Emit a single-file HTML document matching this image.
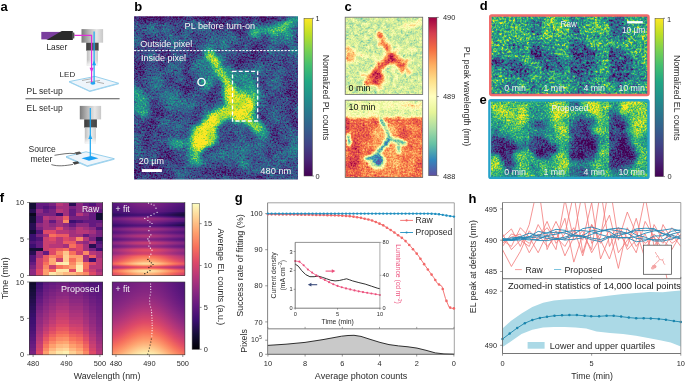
<!DOCTYPE html><html><head><meta charset="utf-8"><style>html,body{margin:0;padding:0;background:#fff;}body{width:685px;height:381px;overflow:hidden;-webkit-font-smoothing:antialiased;} svg{display:block;will-change:transform;}</style></head><body><svg width="685" height="381" viewBox="0 0 685 381" font-family='"Liberation Sans", sans-serif'><defs><linearGradient id="objg" x1="0" y1="0" x2="1" y2="0"><stop offset="0" stop-color="#7a7a7a"/><stop offset="0.35" stop-color="#b8b8b8"/><stop offset="0.7" stop-color="#e6e6e6"/><stop offset="1" stop-color="#c8c8c8"/></linearGradient><linearGradient id="bandg" x1="0" y1="0" x2="1" y2="0"><stop offset="0" stop-color="#3c3c3c"/><stop offset="0.5" stop-color="#555"/><stop offset="1" stop-color="#444"/></linearGradient><linearGradient id="tubeg" x1="0" y1="0" x2="1" y2="0"><stop offset="0" stop-color="#bdbdbd"/><stop offset="0.5" stop-color="#f0f0f0"/><stop offset="1" stop-color="#cfcfcf"/></linearGradient><linearGradient id="tubefade" x1="0" y1="0" x2="0" y2="1"><stop offset="0" stop-color="#fff" stop-opacity="0"/><stop offset="1" stop-color="#fff" stop-opacity="0.85"/></linearGradient><filter id="fb" filterUnits="userSpaceOnUse" x="122" y="4.2" width="188" height="187.4" color-interpolation-filters="sRGB"><feTurbulence type="fractalNoise" baseFrequency="0.22" numOctaves="3" seed="3" result="dn"/><feDisplacementMap in="SourceGraphic" in2="dn" scale="8" xChannelSelector="R" yChannelSelector="G" result="src"/><feGaussianBlur in="src" stdDeviation="2" result="bl"/><feTurbulence type="fractalNoise" baseFrequency="0.6" numOctaves="4" seed="7" result="nz"/><feColorMatrix in="nz" type="matrix" values="1 0 0 0 0 1 0 0 0 0 1 0 0 0 0 0 0 0 0 1" result="ng"/><feTurbulence type="fractalNoise" baseFrequency="0.06" numOctaves="3" seed="4" result="lz"/><feColorMatrix in="lz" type="matrix" values="0 1 0 0 0 0 1 0 0 0 0 1 0 0 0 0 0 0 0 1" result="lg"/><feComposite in="bl" in2="ng" operator="arithmetic" k1="0" k2="1" k3="0.7" k4="-0.35" result="sum"/><feComposite in="sum" in2="lg" operator="arithmetic" k1="0" k2="1" k3="0.45" k4="-0.23" result="sum2"/><feComponentTransfer in="sum2"><feFuncR type="table" tableValues="0.2667 0.2824 0.2549 0.2078 0.1647 0.1294 0.1333 0.2667 0.4784 0.7412 0.9922"/><feFuncG type="table" tableValues="0.0039 0.1412 0.2667 0.3725 0.4706 0.5686 0.6588 0.7490 0.8196 0.8745 0.9059"/><feFuncB type="table" tableValues="0.3294 0.4588 0.5294 0.5529 0.5569 0.5490 0.5176 0.4392 0.3176 0.1490 0.1451"/><feFuncA type="linear" slope="0" intercept="1"/></feComponentTransfer></filter><clipPath id="cb"><rect x="134" y="16.2" width="164" height="163.4"/></clipPath><linearGradient id="vir" x1="0" y1="0" x2="0" y2="1"><stop offset="0.000" stop-color="#fde725"/><stop offset="0.100" stop-color="#bddf26"/><stop offset="0.200" stop-color="#7ad151"/><stop offset="0.300" stop-color="#44bf70"/><stop offset="0.400" stop-color="#22a884"/><stop offset="0.500" stop-color="#21918c"/><stop offset="0.600" stop-color="#2a788e"/><stop offset="0.700" stop-color="#355f8d"/><stop offset="0.800" stop-color="#414487"/><stop offset="0.900" stop-color="#482475"/><stop offset="1.000" stop-color="#440154"/></linearGradient><filter id="fc1" filterUnits="userSpaceOnUse" x="333.2" y="5.2" width="101.5" height="101.2" color-interpolation-filters="sRGB"><feTurbulence type="fractalNoise" baseFrequency="0.3" numOctaves="3" seed="5" result="dn"/><feDisplacementMap in="SourceGraphic" in2="dn" scale="5" xChannelSelector="R" yChannelSelector="G" result="src"/><feGaussianBlur in="src" stdDeviation="1" result="bl"/><feTurbulence type="fractalNoise" baseFrequency="0.6" numOctaves="4" seed="11" result="nz"/><feColorMatrix in="nz" type="matrix" values="1 0 0 0 0 1 0 0 0 0 1 0 0 0 0 0 0 0 0 1" result="ng"/><feTurbulence type="fractalNoise" baseFrequency="0.22" numOctaves="3" seed="8" result="lz"/><feColorMatrix in="lz" type="matrix" values="0 1 0 0 0 0 1 0 0 0 0 1 0 0 0 0 0 0 0 1" result="lg"/><feComposite in="bl" in2="ng" operator="arithmetic" k1="0" k2="1" k3="0.26" k4="-0.13" result="sum"/><feComposite in="sum" in2="lg" operator="arithmetic" k1="0" k2="1" k3="0.3" k4="-0.15" result="sum2"/><feComponentTransfer in="sum2"><feFuncR type="table" tableValues="0.3686 0.1961 0.4000 0.6706 0.9020 1.0000 0.9961 0.9922 0.9569 0.8353 0.6196"/><feFuncG type="table" tableValues="0.3098 0.5333 0.7608 0.8667 0.9608 1.0000 0.8784 0.6824 0.4275 0.2431 0.0039"/><feFuncB type="table" tableValues="0.6353 0.7412 0.6471 0.6431 0.5961 0.7490 0.5451 0.3804 0.2627 0.3098 0.2588"/><feFuncA type="linear" slope="0" intercept="1"/></feComponentTransfer></filter><clipPath id="cc1"><rect x="345.2" y="17.2" width="77.5" height="77.2"/></clipPath><filter id="fc2" filterUnits="userSpaceOnUse" x="333.2" y="88.2" width="101.5" height="101.2" color-interpolation-filters="sRGB"><feTurbulence type="fractalNoise" baseFrequency="0.3" numOctaves="3" seed="7" result="dn"/><feDisplacementMap in="SourceGraphic" in2="dn" scale="4" xChannelSelector="R" yChannelSelector="G" result="src"/><feGaussianBlur in="src" stdDeviation="1" result="bl"/><feTurbulence type="fractalNoise" baseFrequency="0.6" numOctaves="4" seed="23" result="nz"/><feColorMatrix in="nz" type="matrix" values="1 0 0 0 0 1 0 0 0 0 1 0 0 0 0 0 0 0 0 1" result="ng"/><feTurbulence type="fractalNoise" baseFrequency="0.1" numOctaves="3" seed="6" result="lz"/><feColorMatrix in="lz" type="matrix" values="0 1 0 0 0 0 1 0 0 0 0 1 0 0 0 0 0 0 0 1" result="lg"/><feComposite in="bl" in2="ng" operator="arithmetic" k1="0" k2="1" k3="0.32" k4="-0.16" result="sum"/><feComposite in="sum" in2="lg" operator="arithmetic" k1="0" k2="1" k3="0.25" k4="-0.12" result="sum2"/><feComponentTransfer in="sum2"><feFuncR type="table" tableValues="0.3686 0.1961 0.4000 0.6706 0.9020 1.0000 0.9961 0.9922 0.9569 0.8353 0.6196"/><feFuncG type="table" tableValues="0.3098 0.5333 0.7608 0.8667 0.9608 1.0000 0.8784 0.6824 0.4275 0.2431 0.0039"/><feFuncB type="table" tableValues="0.6353 0.7412 0.6471 0.6431 0.5961 0.7490 0.5451 0.3804 0.2627 0.3098 0.2588"/><feFuncA type="linear" slope="0" intercept="1"/></feComponentTransfer></filter><clipPath id="cc2"><rect x="345.2" y="100.2" width="77.5" height="77.2"/></clipPath><linearGradient id="spec" x1="0" y1="0" x2="0" y2="1"><stop offset="0.000" stop-color="#9e0142"/><stop offset="0.100" stop-color="#d53e4f"/><stop offset="0.200" stop-color="#f46d43"/><stop offset="0.300" stop-color="#fdae61"/><stop offset="0.400" stop-color="#fee08b"/><stop offset="0.500" stop-color="#ffffbf"/><stop offset="0.600" stop-color="#e6f598"/><stop offset="0.700" stop-color="#abdda4"/><stop offset="0.800" stop-color="#66c2a5"/><stop offset="0.900" stop-color="#3288bd"/><stop offset="1.000" stop-color="#5e4fa2"/></linearGradient><filter id="fd" filterUnits="userSpaceOnUse" x="477" y="2" width="184" height="106" color-interpolation-filters="sRGB"><feTurbulence type="fractalNoise" baseFrequency="0.15" numOctaves="3" seed="6" result="dn"/><feDisplacementMap in="SourceGraphic" in2="dn" scale="7" xChannelSelector="R" yChannelSelector="G" result="src"/><feGaussianBlur in="src" stdDeviation="2" result="bl"/><feTurbulence type="fractalNoise" baseFrequency="0.45" numOctaves="4" seed="5" result="nz"/><feColorMatrix in="nz" type="matrix" values="1 0 0 0 0 1 0 0 0 0 1 0 0 0 0 0 0 0 0 1" result="ng"/><feTurbulence type="fractalNoise" baseFrequency="0.12" numOctaves="3" seed="2" result="lz"/><feColorMatrix in="lz" type="matrix" values="0 1 0 0 0 0 1 0 0 0 0 1 0 0 0 0 0 0 0 1" result="lg"/><feComposite in="bl" in2="ng" operator="arithmetic" k1="0" k2="1" k3="1.1" k4="-0.55" result="sum"/><feComposite in="sum" in2="lg" operator="arithmetic" k1="0" k2="1" k3="0.5" k4="-0.25" result="sum2"/><feComponentTransfer in="sum2"><feFuncR type="table" tableValues="0.2667 0.2824 0.2549 0.2078 0.1647 0.1294 0.1333 0.2667 0.4784 0.7412 0.9922"/><feFuncG type="table" tableValues="0.0039 0.1412 0.2667 0.3725 0.4706 0.5686 0.6588 0.7490 0.8196 0.8745 0.9059"/><feFuncB type="table" tableValues="0.3294 0.4588 0.5294 0.5529 0.5569 0.5490 0.5176 0.4392 0.3176 0.1490 0.1451"/><feFuncA type="linear" slope="0" intercept="1"/></feComponentTransfer></filter><filter id="fe" filterUnits="userSpaceOnUse" x="477" y="87" width="184" height="104" color-interpolation-filters="sRGB"><feTurbulence type="fractalNoise" baseFrequency="0.15" numOctaves="3" seed="4" result="dn"/><feDisplacementMap in="SourceGraphic" in2="dn" scale="9" xChannelSelector="R" yChannelSelector="G" result="src"/><feGaussianBlur in="src" stdDeviation="2.6" result="bl"/><feTurbulence type="fractalNoise" baseFrequency="0.6" numOctaves="4" seed="9" result="nz"/><feColorMatrix in="nz" type="matrix" values="1 0 0 0 0 1 0 0 0 0 1 0 0 0 0 0 0 0 0 1" result="ng"/><feTurbulence type="fractalNoise" baseFrequency="0.1" numOctaves="3" seed="5" result="lz"/><feColorMatrix in="lz" type="matrix" values="0 1 0 0 0 0 1 0 0 0 0 1 0 0 0 0 0 0 0 1" result="lg"/><feComposite in="bl" in2="ng" operator="arithmetic" k1="0" k2="1" k3="0.75" k4="-0.38" result="sum"/><feComposite in="sum" in2="lg" operator="arithmetic" k1="0" k2="1" k3="0.5" k4="-0.25" result="sum2"/><feComponentTransfer in="sum2"><feFuncR type="table" tableValues="0.2667 0.2824 0.2549 0.2078 0.1647 0.1294 0.1333 0.2667 0.4784 0.7412 0.9922"/><feFuncG type="table" tableValues="0.0039 0.1412 0.2667 0.3725 0.4706 0.5686 0.6588 0.7490 0.8196 0.8745 0.9059"/><feFuncB type="table" tableValues="0.3294 0.4588 0.5294 0.5529 0.5569 0.5490 0.5176 0.4392 0.3176 0.1490 0.1451"/><feFuncA type="linear" slope="0" intercept="1"/></feComponentTransfer></filter><clipPath id="cde00"><rect x="491" y="16" width="38" height="79"/></clipPath><clipPath id="cde01"><rect x="529" y="16" width="40" height="79"/></clipPath><clipPath id="cde02"><rect x="569" y="16" width="40" height="79"/></clipPath><clipPath id="cde03"><rect x="609" y="16" width="39" height="79"/></clipPath><clipPath id="cde10"><rect x="491" y="100" width="38" height="78"/></clipPath><clipPath id="cde11"><rect x="529" y="100" width="40" height="78"/></clipPath><clipPath id="cde12"><rect x="569" y="100" width="40" height="78"/></clipPath><clipPath id="cde13"><rect x="609" y="100" width="39" height="78"/></clipPath><linearGradient id="gr0" x1="0" y1="0" x2="1" y2="0"><stop offset="0.000" stop-color="#531579"/><stop offset="0.071" stop-color="#5a177c"/><stop offset="0.143" stop-color="#621a7f"/><stop offset="0.214" stop-color="#6a1c80"/><stop offset="0.286" stop-color="#721f80"/><stop offset="0.357" stop-color="#782281"/><stop offset="0.429" stop-color="#7b2381"/><stop offset="0.500" stop-color="#7c2381"/><stop offset="0.571" stop-color="#792281"/><stop offset="0.643" stop-color="#732080"/><stop offset="0.714" stop-color="#6c1d80"/><stop offset="0.786" stop-color="#631a80"/><stop offset="0.857" stop-color="#5b187d"/><stop offset="0.929" stop-color="#54167a"/><stop offset="1.000" stop-color="#4e1477"/></linearGradient><linearGradient id="gr1" x1="0" y1="0" x2="1" y2="0"><stop offset="0.000" stop-color="#531579"/><stop offset="0.071" stop-color="#5a177c"/><stop offset="0.143" stop-color="#621a7f"/><stop offset="0.214" stop-color="#6a1c80"/><stop offset="0.286" stop-color="#721f80"/><stop offset="0.357" stop-color="#782281"/><stop offset="0.429" stop-color="#7b2381"/><stop offset="0.500" stop-color="#7c2381"/><stop offset="0.571" stop-color="#792281"/><stop offset="0.643" stop-color="#732080"/><stop offset="0.714" stop-color="#6c1d80"/><stop offset="0.786" stop-color="#631a80"/><stop offset="0.857" stop-color="#5b187d"/><stop offset="0.929" stop-color="#54167a"/><stop offset="1.000" stop-color="#4e1477"/></linearGradient><linearGradient id="gr2" x1="0" y1="0" x2="1" y2="0"><stop offset="0.000" stop-color="#511579"/><stop offset="0.071" stop-color="#58177c"/><stop offset="0.143" stop-color="#61197f"/><stop offset="0.214" stop-color="#691c80"/><stop offset="0.286" stop-color="#701f80"/><stop offset="0.357" stop-color="#762180"/><stop offset="0.429" stop-color="#7a2281"/><stop offset="0.500" stop-color="#7a2281"/><stop offset="0.571" stop-color="#772180"/><stop offset="0.643" stop-color="#711f80"/><stop offset="0.714" stop-color="#6a1c80"/><stop offset="0.786" stop-color="#62197f"/><stop offset="0.857" stop-color="#5a177c"/><stop offset="0.929" stop-color="#521579"/><stop offset="1.000" stop-color="#4d1477"/></linearGradient><linearGradient id="gr3" x1="0" y1="0" x2="1" y2="0"><stop offset="0.000" stop-color="#4e1478"/><stop offset="0.071" stop-color="#55167a"/><stop offset="0.143" stop-color="#5d187d"/><stop offset="0.214" stop-color="#651a80"/><stop offset="0.286" stop-color="#6c1d80"/><stop offset="0.357" stop-color="#721f80"/><stop offset="0.429" stop-color="#752180"/><stop offset="0.500" stop-color="#762180"/><stop offset="0.571" stop-color="#732080"/><stop offset="0.643" stop-color="#6d1e80"/><stop offset="0.714" stop-color="#661b80"/><stop offset="0.786" stop-color="#5e187e"/><stop offset="0.857" stop-color="#56167b"/><stop offset="0.929" stop-color="#4f1478"/><stop offset="1.000" stop-color="#4a1376"/></linearGradient><linearGradient id="gr4" x1="0" y1="0" x2="1" y2="0"><stop offset="0.000" stop-color="#4b1376"/><stop offset="0.071" stop-color="#521579"/><stop offset="0.143" stop-color="#5a177c"/><stop offset="0.214" stop-color="#61197f"/><stop offset="0.286" stop-color="#691c80"/><stop offset="0.357" stop-color="#6e1e80"/><stop offset="0.429" stop-color="#711f80"/><stop offset="0.500" stop-color="#721f80"/><stop offset="0.571" stop-color="#6f1e80"/><stop offset="0.643" stop-color="#6a1c80"/><stop offset="0.714" stop-color="#631a7f"/><stop offset="0.786" stop-color="#5b187c"/><stop offset="0.857" stop-color="#531579"/><stop offset="0.929" stop-color="#4c1477"/><stop offset="1.000" stop-color="#471275"/></linearGradient><linearGradient id="gr5" x1="0" y1="0" x2="1" y2="0"><stop offset="0.000" stop-color="#491376"/><stop offset="0.071" stop-color="#501578"/><stop offset="0.143" stop-color="#57177b"/><stop offset="0.214" stop-color="#5f197e"/><stop offset="0.286" stop-color="#661b80"/><stop offset="0.357" stop-color="#6c1d80"/><stop offset="0.429" stop-color="#6f1e80"/><stop offset="0.500" stop-color="#6f1e80"/><stop offset="0.571" stop-color="#6c1d80"/><stop offset="0.643" stop-color="#671b80"/><stop offset="0.714" stop-color="#60197f"/><stop offset="0.786" stop-color="#59177c"/><stop offset="0.857" stop-color="#511579"/><stop offset="0.929" stop-color="#4a1376"/><stop offset="1.000" stop-color="#451274"/></linearGradient><linearGradient id="gr6" x1="0" y1="0" x2="1" y2="0"><stop offset="0.000" stop-color="#471275"/><stop offset="0.071" stop-color="#4d1477"/><stop offset="0.143" stop-color="#55167a"/><stop offset="0.214" stop-color="#5c187d"/><stop offset="0.286" stop-color="#631a80"/><stop offset="0.357" stop-color="#691c80"/><stop offset="0.429" stop-color="#6c1d80"/><stop offset="0.500" stop-color="#6c1d80"/><stop offset="0.571" stop-color="#691c80"/><stop offset="0.643" stop-color="#641a80"/><stop offset="0.714" stop-color="#5d187d"/><stop offset="0.786" stop-color="#56167b"/><stop offset="0.857" stop-color="#4f1478"/><stop offset="0.929" stop-color="#481375"/><stop offset="1.000" stop-color="#431173"/></linearGradient><linearGradient id="gr7" x1="0" y1="0" x2="1" y2="0"><stop offset="0.000" stop-color="#441173"/><stop offset="0.071" stop-color="#4a1376"/><stop offset="0.143" stop-color="#511579"/><stop offset="0.214" stop-color="#58177b"/><stop offset="0.286" stop-color="#5f197e"/><stop offset="0.357" stop-color="#641a80"/><stop offset="0.429" stop-color="#671b80"/><stop offset="0.500" stop-color="#671b80"/><stop offset="0.571" stop-color="#651a80"/><stop offset="0.643" stop-color="#60197e"/><stop offset="0.714" stop-color="#59177c"/><stop offset="0.786" stop-color="#521579"/><stop offset="0.857" stop-color="#4b1376"/><stop offset="0.929" stop-color="#451274"/><stop offset="1.000" stop-color="#401072"/></linearGradient><linearGradient id="gr8" x1="0" y1="0" x2="1" y2="0"><stop offset="0.000" stop-color="#421173"/><stop offset="0.071" stop-color="#481275"/><stop offset="0.143" stop-color="#4f1478"/><stop offset="0.214" stop-color="#56167a"/><stop offset="0.286" stop-color="#5c187d"/><stop offset="0.357" stop-color="#61197f"/><stop offset="0.429" stop-color="#641a80"/><stop offset="0.500" stop-color="#641a80"/><stop offset="0.571" stop-color="#62197f"/><stop offset="0.643" stop-color="#5d187d"/><stop offset="0.714" stop-color="#57167b"/><stop offset="0.786" stop-color="#501578"/><stop offset="0.857" stop-color="#491375"/><stop offset="0.929" stop-color="#431173"/><stop offset="1.000" stop-color="#3e1071"/></linearGradient><linearGradient id="gr9" x1="0" y1="0" x2="1" y2="0"><stop offset="0.000" stop-color="#3d1071"/><stop offset="0.071" stop-color="#431173"/><stop offset="0.143" stop-color="#491376"/><stop offset="0.214" stop-color="#501578"/><stop offset="0.286" stop-color="#56167b"/><stop offset="0.357" stop-color="#5b187d"/><stop offset="0.429" stop-color="#5e187e"/><stop offset="0.500" stop-color="#5e187e"/><stop offset="0.571" stop-color="#5b177c"/><stop offset="0.643" stop-color="#531579"/><stop offset="0.714" stop-color="#491375"/><stop offset="0.786" stop-color="#3f1071"/><stop offset="0.857" stop-color="#350f67"/><stop offset="0.929" stop-color="#2c0f5a"/><stop offset="1.000" stop-color="#240e4e"/></linearGradient><linearGradient id="gr10" x1="0" y1="0" x2="1" y2="0"><stop offset="0.000" stop-color="#350f67"/><stop offset="0.071" stop-color="#3a0f6e"/><stop offset="0.143" stop-color="#401072"/><stop offset="0.214" stop-color="#461274"/><stop offset="0.286" stop-color="#4b1376"/><stop offset="0.357" stop-color="#501578"/><stop offset="0.429" stop-color="#521579"/><stop offset="0.500" stop-color="#521579"/><stop offset="0.571" stop-color="#4f1478"/><stop offset="0.643" stop-color="#481275"/><stop offset="0.714" stop-color="#3f1071"/><stop offset="0.786" stop-color="#350f68"/><stop offset="0.857" stop-color="#2c0f5a"/><stop offset="0.929" stop-color="#240e4e"/><stop offset="1.000" stop-color="#1d0e43"/></linearGradient><linearGradient id="gr11" x1="0" y1="0" x2="1" y2="0"><stop offset="0.000" stop-color="#2e0f5c"/><stop offset="0.071" stop-color="#320f63"/><stop offset="0.143" stop-color="#370f6a"/><stop offset="0.214" stop-color="#3c0f70"/><stop offset="0.286" stop-color="#411172"/><stop offset="0.357" stop-color="#451274"/><stop offset="0.429" stop-color="#471275"/><stop offset="0.500" stop-color="#471275"/><stop offset="0.571" stop-color="#451274"/><stop offset="0.643" stop-color="#3d1071"/><stop offset="0.714" stop-color="#350f67"/><stop offset="0.786" stop-color="#2d0f5b"/><stop offset="0.857" stop-color="#240e4e"/><stop offset="0.929" stop-color="#1d0e43"/><stop offset="1.000" stop-color="#160e38"/></linearGradient><linearGradient id="gr12" x1="0" y1="0" x2="1" y2="0"><stop offset="0.000" stop-color="#2f0f5f"/><stop offset="0.071" stop-color="#340f65"/><stop offset="0.143" stop-color="#390f6d"/><stop offset="0.214" stop-color="#3e1071"/><stop offset="0.286" stop-color="#431173"/><stop offset="0.357" stop-color="#471275"/><stop offset="0.429" stop-color="#4a1376"/><stop offset="0.500" stop-color="#4a1376"/><stop offset="0.571" stop-color="#471275"/><stop offset="0.643" stop-color="#401072"/><stop offset="0.714" stop-color="#370f6a"/><stop offset="0.786" stop-color="#2f0f5e"/><stop offset="0.857" stop-color="#260e51"/><stop offset="0.929" stop-color="#1e0e45"/><stop offset="1.000" stop-color="#170e3b"/></linearGradient><linearGradient id="gr13" x1="0" y1="0" x2="1" y2="0"><stop offset="0.000" stop-color="#411172"/><stop offset="0.071" stop-color="#471275"/><stop offset="0.143" stop-color="#4e1477"/><stop offset="0.214" stop-color="#55167a"/><stop offset="0.286" stop-color="#5b187d"/><stop offset="0.357" stop-color="#60197f"/><stop offset="0.429" stop-color="#631a80"/><stop offset="0.500" stop-color="#641a80"/><stop offset="0.571" stop-color="#60197e"/><stop offset="0.643" stop-color="#58177b"/><stop offset="0.714" stop-color="#4e1477"/><stop offset="0.786" stop-color="#431173"/><stop offset="0.857" stop-color="#390f6d"/><stop offset="0.929" stop-color="#300f5f"/><stop offset="1.000" stop-color="#280f53"/></linearGradient><linearGradient id="gr14" x1="0" y1="0" x2="1" y2="0"><stop offset="0.000" stop-color="#5b177c"/><stop offset="0.071" stop-color="#621a7f"/><stop offset="0.143" stop-color="#6b1d80"/><stop offset="0.214" stop-color="#742080"/><stop offset="0.286" stop-color="#7c2381"/><stop offset="0.357" stop-color="#822581"/><stop offset="0.429" stop-color="#862781"/><stop offset="0.500" stop-color="#862781"/><stop offset="0.571" stop-color="#822581"/><stop offset="0.643" stop-color="#792281"/><stop offset="0.714" stop-color="#6d1d80"/><stop offset="0.786" stop-color="#61197f"/><stop offset="0.857" stop-color="#54167a"/><stop offset="0.929" stop-color="#491375"/><stop offset="1.000" stop-color="#3f1072"/></linearGradient><linearGradient id="gr15" x1="0" y1="0" x2="1" y2="0"><stop offset="0.000" stop-color="#6a1c80"/><stop offset="0.071" stop-color="#721f80"/><stop offset="0.143" stop-color="#7c2381"/><stop offset="0.214" stop-color="#862781"/><stop offset="0.286" stop-color="#8f2a80"/><stop offset="0.357" stop-color="#972d7f"/><stop offset="0.429" stop-color="#9b2e7e"/><stop offset="0.500" stop-color="#9c2e7e"/><stop offset="0.571" stop-color="#982d7f"/><stop offset="0.643" stop-color="#912b80"/><stop offset="0.714" stop-color="#872781"/><stop offset="0.786" stop-color="#7d2381"/><stop offset="0.857" stop-color="#732080"/><stop offset="0.929" stop-color="#6b1d80"/><stop offset="1.000" stop-color="#641a80"/></linearGradient><linearGradient id="gr16" x1="0" y1="0" x2="1" y2="0"><stop offset="0.000" stop-color="#681c80"/><stop offset="0.071" stop-color="#711f80"/><stop offset="0.143" stop-color="#7a2281"/><stop offset="0.214" stop-color="#842681"/><stop offset="0.286" stop-color="#8d2981"/><stop offset="0.357" stop-color="#952c7f"/><stop offset="0.429" stop-color="#9a2d7e"/><stop offset="0.500" stop-color="#9a2e7e"/><stop offset="0.571" stop-color="#962c7f"/><stop offset="0.643" stop-color="#8f2a80"/><stop offset="0.714" stop-color="#862781"/><stop offset="0.786" stop-color="#7c2381"/><stop offset="0.857" stop-color="#721f80"/><stop offset="0.929" stop-color="#6a1c80"/><stop offset="1.000" stop-color="#621a7f"/></linearGradient><linearGradient id="gr17" x1="0" y1="0" x2="1" y2="0"><stop offset="0.000" stop-color="#5f197e"/><stop offset="0.071" stop-color="#671b80"/><stop offset="0.143" stop-color="#701e80"/><stop offset="0.214" stop-color="#792281"/><stop offset="0.286" stop-color="#812581"/><stop offset="0.357" stop-color="#882781"/><stop offset="0.429" stop-color="#8c2981"/><stop offset="0.500" stop-color="#8c2981"/><stop offset="0.571" stop-color="#892881"/><stop offset="0.643" stop-color="#832581"/><stop offset="0.714" stop-color="#7a2281"/><stop offset="0.786" stop-color="#711f80"/><stop offset="0.857" stop-color="#681c80"/><stop offset="0.929" stop-color="#60197e"/><stop offset="1.000" stop-color="#59177c"/></linearGradient><linearGradient id="gr18" x1="0" y1="0" x2="1" y2="0"><stop offset="0.000" stop-color="#56167b"/><stop offset="0.071" stop-color="#5e187d"/><stop offset="0.143" stop-color="#661b80"/><stop offset="0.214" stop-color="#6e1e80"/><stop offset="0.286" stop-color="#762180"/><stop offset="0.357" stop-color="#7c2381"/><stop offset="0.429" stop-color="#802481"/><stop offset="0.500" stop-color="#802581"/><stop offset="0.571" stop-color="#7d2381"/><stop offset="0.643" stop-color="#772180"/><stop offset="0.714" stop-color="#701e80"/><stop offset="0.786" stop-color="#671b80"/><stop offset="0.857" stop-color="#5f197e"/><stop offset="0.929" stop-color="#57177b"/><stop offset="1.000" stop-color="#511579"/></linearGradient><linearGradient id="gr19" x1="0" y1="0" x2="1" y2="0"><stop offset="0.000" stop-color="#511578"/><stop offset="0.071" stop-color="#57177b"/><stop offset="0.143" stop-color="#5f197e"/><stop offset="0.214" stop-color="#681b80"/><stop offset="0.286" stop-color="#6f1e80"/><stop offset="0.357" stop-color="#752080"/><stop offset="0.429" stop-color="#782281"/><stop offset="0.500" stop-color="#792281"/><stop offset="0.571" stop-color="#752080"/><stop offset="0.643" stop-color="#6c1d80"/><stop offset="0.714" stop-color="#61197f"/><stop offset="0.786" stop-color="#55167a"/><stop offset="0.857" stop-color="#4a1376"/><stop offset="0.929" stop-color="#3f1072"/><stop offset="1.000" stop-color="#360f68"/></linearGradient><linearGradient id="gr20" x1="0" y1="0" x2="1" y2="0"><stop offset="0.000" stop-color="#481375"/><stop offset="0.071" stop-color="#4f1478"/><stop offset="0.143" stop-color="#56167b"/><stop offset="0.214" stop-color="#5e187d"/><stop offset="0.286" stop-color="#651a80"/><stop offset="0.357" stop-color="#6a1c80"/><stop offset="0.429" stop-color="#6d1d80"/><stop offset="0.500" stop-color="#6d1d80"/><stop offset="0.571" stop-color="#6a1c80"/><stop offset="0.643" stop-color="#61197f"/><stop offset="0.714" stop-color="#57167b"/><stop offset="0.786" stop-color="#4c1376"/><stop offset="0.857" stop-color="#411172"/><stop offset="0.929" stop-color="#370f6a"/><stop offset="1.000" stop-color="#2e0f5d"/></linearGradient><linearGradient id="gr21" x1="0" y1="0" x2="1" y2="0"><stop offset="0.000" stop-color="#3d1071"/><stop offset="0.071" stop-color="#431173"/><stop offset="0.143" stop-color="#491376"/><stop offset="0.214" stop-color="#501578"/><stop offset="0.286" stop-color="#56167b"/><stop offset="0.357" stop-color="#5b187d"/><stop offset="0.429" stop-color="#5e187e"/><stop offset="0.500" stop-color="#5e187e"/><stop offset="0.571" stop-color="#5b177c"/><stop offset="0.643" stop-color="#531579"/><stop offset="0.714" stop-color="#491375"/><stop offset="0.786" stop-color="#3f1071"/><stop offset="0.857" stop-color="#350f67"/><stop offset="0.929" stop-color="#2c0f5a"/><stop offset="1.000" stop-color="#240e4e"/></linearGradient><linearGradient id="gr22" x1="0" y1="0" x2="1" y2="0"><stop offset="0.000" stop-color="#370f6a"/><stop offset="0.071" stop-color="#3c0f70"/><stop offset="0.143" stop-color="#421173"/><stop offset="0.214" stop-color="#481375"/><stop offset="0.286" stop-color="#4e1478"/><stop offset="0.357" stop-color="#531579"/><stop offset="0.429" stop-color="#55167a"/><stop offset="0.500" stop-color="#56167a"/><stop offset="0.571" stop-color="#521579"/><stop offset="0.643" stop-color="#4b1376"/><stop offset="0.714" stop-color="#411172"/><stop offset="0.786" stop-color="#380f6b"/><stop offset="0.857" stop-color="#2f0f5e"/><stop offset="0.929" stop-color="#260e51"/><stop offset="1.000" stop-color="#1f0e46"/></linearGradient><linearGradient id="gr23" x1="0" y1="0" x2="1" y2="0"><stop offset="0.000" stop-color="#411172"/><stop offset="0.071" stop-color="#471275"/><stop offset="0.143" stop-color="#4e1477"/><stop offset="0.214" stop-color="#55167a"/><stop offset="0.286" stop-color="#5c187d"/><stop offset="0.357" stop-color="#61197f"/><stop offset="0.429" stop-color="#641a80"/><stop offset="0.500" stop-color="#641a80"/><stop offset="0.571" stop-color="#61197f"/><stop offset="0.643" stop-color="#5d187d"/><stop offset="0.714" stop-color="#56167b"/><stop offset="0.786" stop-color="#4f1478"/><stop offset="0.857" stop-color="#481375"/><stop offset="0.929" stop-color="#421173"/><stop offset="1.000" stop-color="#3d1071"/></linearGradient><linearGradient id="gr24" x1="0" y1="0" x2="1" y2="0"><stop offset="0.000" stop-color="#57167b"/><stop offset="0.071" stop-color="#5e187e"/><stop offset="0.143" stop-color="#661b80"/><stop offset="0.214" stop-color="#6f1e80"/><stop offset="0.286" stop-color="#772180"/><stop offset="0.357" stop-color="#7d2381"/><stop offset="0.429" stop-color="#812581"/><stop offset="0.500" stop-color="#812581"/><stop offset="0.571" stop-color="#7e2481"/><stop offset="0.643" stop-color="#782281"/><stop offset="0.714" stop-color="#701f80"/><stop offset="0.786" stop-color="#681b80"/><stop offset="0.857" stop-color="#5f197e"/><stop offset="0.929" stop-color="#58177b"/><stop offset="1.000" stop-color="#521579"/></linearGradient><linearGradient id="gr25" x1="0" y1="0" x2="1" y2="0"><stop offset="0.000" stop-color="#691c80"/><stop offset="0.071" stop-color="#721f80"/><stop offset="0.143" stop-color="#7b2381"/><stop offset="0.214" stop-color="#862781"/><stop offset="0.286" stop-color="#8f2a80"/><stop offset="0.357" stop-color="#972d7f"/><stop offset="0.429" stop-color="#9b2e7e"/><stop offset="0.500" stop-color="#9c2e7e"/><stop offset="0.571" stop-color="#982d7f"/><stop offset="0.643" stop-color="#902a80"/><stop offset="0.714" stop-color="#872781"/><stop offset="0.786" stop-color="#7d2381"/><stop offset="0.857" stop-color="#732080"/><stop offset="0.929" stop-color="#6b1c80"/><stop offset="1.000" stop-color="#641a80"/></linearGradient><linearGradient id="gr26" x1="0" y1="0" x2="1" y2="0"><stop offset="0.000" stop-color="#6d1e80"/><stop offset="0.071" stop-color="#762180"/><stop offset="0.143" stop-color="#802581"/><stop offset="0.214" stop-color="#8b2881"/><stop offset="0.286" stop-color="#952c7f"/><stop offset="0.357" stop-color="#9d2e7e"/><stop offset="0.429" stop-color="#a1307d"/><stop offset="0.500" stop-color="#a2307d"/><stop offset="0.571" stop-color="#9e2f7e"/><stop offset="0.643" stop-color="#962c7f"/><stop offset="0.714" stop-color="#8c2981"/><stop offset="0.786" stop-color="#822581"/><stop offset="0.857" stop-color="#782180"/><stop offset="0.929" stop-color="#6f1e80"/><stop offset="1.000" stop-color="#671b80"/></linearGradient><linearGradient id="gr27" x1="0" y1="0" x2="1" y2="0"><stop offset="0.000" stop-color="#651a80"/><stop offset="0.071" stop-color="#6d1d80"/><stop offset="0.143" stop-color="#772180"/><stop offset="0.214" stop-color="#802581"/><stop offset="0.286" stop-color="#892881"/><stop offset="0.357" stop-color="#902a80"/><stop offset="0.429" stop-color="#952c7f"/><stop offset="0.500" stop-color="#952c7f"/><stop offset="0.571" stop-color="#912b80"/><stop offset="0.643" stop-color="#8a2881"/><stop offset="0.714" stop-color="#822581"/><stop offset="0.786" stop-color="#782281"/><stop offset="0.857" stop-color="#6f1e80"/><stop offset="0.929" stop-color="#661b80"/><stop offset="1.000" stop-color="#5f197e"/></linearGradient><linearGradient id="gr28" x1="0" y1="0" x2="1" y2="0"><stop offset="0.000" stop-color="#5a177c"/><stop offset="0.071" stop-color="#62197f"/><stop offset="0.143" stop-color="#6a1c80"/><stop offset="0.214" stop-color="#732080"/><stop offset="0.286" stop-color="#7b2381"/><stop offset="0.357" stop-color="#822581"/><stop offset="0.429" stop-color="#852681"/><stop offset="0.500" stop-color="#862781"/><stop offset="0.571" stop-color="#822581"/><stop offset="0.643" stop-color="#7c2381"/><stop offset="0.714" stop-color="#742080"/><stop offset="0.786" stop-color="#6c1d80"/><stop offset="0.857" stop-color="#631a80"/><stop offset="0.929" stop-color="#5b187d"/><stop offset="1.000" stop-color="#55167a"/></linearGradient><linearGradient id="gr29" x1="0" y1="0" x2="1" y2="0"><stop offset="0.000" stop-color="#54167a"/><stop offset="0.071" stop-color="#5c187d"/><stop offset="0.143" stop-color="#641a80"/><stop offset="0.214" stop-color="#6c1d80"/><stop offset="0.286" stop-color="#742080"/><stop offset="0.357" stop-color="#7a2281"/><stop offset="0.429" stop-color="#7d2481"/><stop offset="0.500" stop-color="#7e2481"/><stop offset="0.571" stop-color="#7b2381"/><stop offset="0.643" stop-color="#752080"/><stop offset="0.714" stop-color="#6e1e80"/><stop offset="0.786" stop-color="#651a80"/><stop offset="0.857" stop-color="#5d187d"/><stop offset="0.929" stop-color="#55167a"/><stop offset="1.000" stop-color="#4f1478"/></linearGradient><linearGradient id="gr30" x1="0" y1="0" x2="1" y2="0"><stop offset="0.000" stop-color="#5c187d"/><stop offset="0.071" stop-color="#631a80"/><stop offset="0.143" stop-color="#6c1d80"/><stop offset="0.214" stop-color="#752080"/><stop offset="0.286" stop-color="#7d2481"/><stop offset="0.357" stop-color="#842681"/><stop offset="0.429" stop-color="#872781"/><stop offset="0.500" stop-color="#882781"/><stop offset="0.571" stop-color="#852681"/><stop offset="0.643" stop-color="#7f2481"/><stop offset="0.714" stop-color="#762180"/><stop offset="0.786" stop-color="#6e1e80"/><stop offset="0.857" stop-color="#651a80"/><stop offset="0.929" stop-color="#5d187d"/><stop offset="1.000" stop-color="#56167b"/></linearGradient><linearGradient id="gr31" x1="0" y1="0" x2="1" y2="0"><stop offset="0.000" stop-color="#6b1d80"/><stop offset="0.071" stop-color="#732080"/><stop offset="0.143" stop-color="#7d2381"/><stop offset="0.214" stop-color="#872781"/><stop offset="0.286" stop-color="#912b80"/><stop offset="0.357" stop-color="#992d7f"/><stop offset="0.429" stop-color="#9d2f7e"/><stop offset="0.500" stop-color="#9e2f7e"/><stop offset="0.571" stop-color="#9a2d7e"/><stop offset="0.643" stop-color="#922b80"/><stop offset="0.714" stop-color="#892881"/><stop offset="0.786" stop-color="#7f2481"/><stop offset="0.857" stop-color="#752080"/><stop offset="0.929" stop-color="#6c1d80"/><stop offset="1.000" stop-color="#651a80"/></linearGradient><linearGradient id="gr32" x1="0" y1="0" x2="1" y2="0"><stop offset="0.000" stop-color="#772180"/><stop offset="0.071" stop-color="#812581"/><stop offset="0.143" stop-color="#8b2981"/><stop offset="0.214" stop-color="#972d7f"/><stop offset="0.286" stop-color="#a2307d"/><stop offset="0.357" stop-color="#ab337b"/><stop offset="0.429" stop-color="#b0357a"/><stop offset="0.500" stop-color="#b0357a"/><stop offset="0.571" stop-color="#ac337b"/><stop offset="0.643" stop-color="#a4317d"/><stop offset="0.714" stop-color="#992d7f"/><stop offset="0.786" stop-color="#8d2981"/><stop offset="0.857" stop-color="#822581"/><stop offset="0.929" stop-color="#792281"/><stop offset="1.000" stop-color="#711f80"/></linearGradient><linearGradient id="gr33" x1="0" y1="0" x2="1" y2="0"><stop offset="0.000" stop-color="#782180"/><stop offset="0.071" stop-color="#812581"/><stop offset="0.143" stop-color="#8c2981"/><stop offset="0.214" stop-color="#982d7f"/><stop offset="0.286" stop-color="#a3307d"/><stop offset="0.357" stop-color="#ac337b"/><stop offset="0.429" stop-color="#b0357a"/><stop offset="0.500" stop-color="#b1357a"/><stop offset="0.571" stop-color="#ad347b"/><stop offset="0.643" stop-color="#a4317c"/><stop offset="0.714" stop-color="#9a2d7e"/><stop offset="0.786" stop-color="#8e2a81"/><stop offset="0.857" stop-color="#832581"/><stop offset="0.929" stop-color="#792281"/><stop offset="1.000" stop-color="#711f80"/></linearGradient><linearGradient id="gr34" x1="0" y1="0" x2="1" y2="0"><stop offset="0.000" stop-color="#6b1d80"/><stop offset="0.071" stop-color="#742080"/><stop offset="0.143" stop-color="#7e2481"/><stop offset="0.214" stop-color="#882881"/><stop offset="0.286" stop-color="#922b80"/><stop offset="0.357" stop-color="#9a2d7e"/><stop offset="0.429" stop-color="#9e2f7e"/><stop offset="0.500" stop-color="#9f2f7e"/><stop offset="0.571" stop-color="#9b2e7e"/><stop offset="0.643" stop-color="#932b80"/><stop offset="0.714" stop-color="#8a2881"/><stop offset="0.786" stop-color="#7f2481"/><stop offset="0.857" stop-color="#752180"/><stop offset="0.929" stop-color="#6d1d80"/><stop offset="1.000" stop-color="#661b80"/></linearGradient><linearGradient id="gr35" x1="0" y1="0" x2="1" y2="0"><stop offset="0.000" stop-color="#5c187d"/><stop offset="0.071" stop-color="#641a80"/><stop offset="0.143" stop-color="#6d1d80"/><stop offset="0.214" stop-color="#762180"/><stop offset="0.286" stop-color="#7e2481"/><stop offset="0.357" stop-color="#852681"/><stop offset="0.429" stop-color="#882881"/><stop offset="0.500" stop-color="#892881"/><stop offset="0.571" stop-color="#852781"/><stop offset="0.643" stop-color="#7f2481"/><stop offset="0.714" stop-color="#772180"/><stop offset="0.786" stop-color="#6e1e80"/><stop offset="0.857" stop-color="#651b80"/><stop offset="0.929" stop-color="#5e187d"/><stop offset="1.000" stop-color="#57177b"/></linearGradient><linearGradient id="gr36" x1="0" y1="0" x2="1" y2="0"><stop offset="0.000" stop-color="#56167a"/><stop offset="0.071" stop-color="#5d187d"/><stop offset="0.143" stop-color="#651a80"/><stop offset="0.214" stop-color="#6e1e80"/><stop offset="0.286" stop-color="#762180"/><stop offset="0.357" stop-color="#7c2381"/><stop offset="0.429" stop-color="#7f2481"/><stop offset="0.500" stop-color="#802481"/><stop offset="0.571" stop-color="#7d2381"/><stop offset="0.643" stop-color="#772180"/><stop offset="0.714" stop-color="#6f1e80"/><stop offset="0.786" stop-color="#671b80"/><stop offset="0.857" stop-color="#5e187e"/><stop offset="0.929" stop-color="#57167b"/><stop offset="1.000" stop-color="#511578"/></linearGradient><linearGradient id="gr37" x1="0" y1="0" x2="1" y2="0"><stop offset="0.000" stop-color="#60197e"/><stop offset="0.071" stop-color="#681b80"/><stop offset="0.143" stop-color="#711f80"/><stop offset="0.214" stop-color="#7a2281"/><stop offset="0.286" stop-color="#822581"/><stop offset="0.357" stop-color="#892881"/><stop offset="0.429" stop-color="#8d2981"/><stop offset="0.500" stop-color="#8d2981"/><stop offset="0.571" stop-color="#8a2881"/><stop offset="0.643" stop-color="#842681"/><stop offset="0.714" stop-color="#7b2381"/><stop offset="0.786" stop-color="#721f80"/><stop offset="0.857" stop-color="#691c80"/><stop offset="0.929" stop-color="#61197f"/><stop offset="1.000" stop-color="#5a177c"/></linearGradient><linearGradient id="gr38" x1="0" y1="0" x2="1" y2="0"><stop offset="0.000" stop-color="#742080"/><stop offset="0.071" stop-color="#7d2381"/><stop offset="0.143" stop-color="#882781"/><stop offset="0.214" stop-color="#932b80"/><stop offset="0.286" stop-color="#9e2f7e"/><stop offset="0.357" stop-color="#a6327c"/><stop offset="0.429" stop-color="#ab337b"/><stop offset="0.500" stop-color="#ab337b"/><stop offset="0.571" stop-color="#a7327c"/><stop offset="0.643" stop-color="#9f2f7d"/><stop offset="0.714" stop-color="#952c7f"/><stop offset="0.786" stop-color="#892881"/><stop offset="0.857" stop-color="#7f2481"/><stop offset="0.929" stop-color="#752180"/><stop offset="1.000" stop-color="#6e1e80"/></linearGradient><linearGradient id="gr39" x1="0" y1="0" x2="1" y2="0"><stop offset="0.000" stop-color="#852681"/><stop offset="0.071" stop-color="#8f2a80"/><stop offset="0.143" stop-color="#9c2e7e"/><stop offset="0.214" stop-color="#a9327c"/><stop offset="0.286" stop-color="#b53679"/><stop offset="0.357" stop-color="#be3a76"/><stop offset="0.429" stop-color="#c33c74"/><stop offset="0.500" stop-color="#c33d74"/><stop offset="0.571" stop-color="#bf3b76"/><stop offset="0.643" stop-color="#b73779"/><stop offset="0.714" stop-color="#ab337b"/><stop offset="0.786" stop-color="#9e2f7e"/><stop offset="0.857" stop-color="#912b80"/><stop offset="0.929" stop-color="#862781"/><stop offset="1.000" stop-color="#7d2481"/></linearGradient><linearGradient id="gr40" x1="0" y1="0" x2="1" y2="0"><stop offset="0.000" stop-color="#862781"/><stop offset="0.071" stop-color="#912a80"/><stop offset="0.143" stop-color="#9d2f7e"/><stop offset="0.214" stop-color="#ab337b"/><stop offset="0.286" stop-color="#b73779"/><stop offset="0.357" stop-color="#bf3b75"/><stop offset="0.429" stop-color="#c43d73"/><stop offset="0.500" stop-color="#c53d73"/><stop offset="0.571" stop-color="#c13b75"/><stop offset="0.643" stop-color="#b83878"/><stop offset="0.714" stop-color="#ad347b"/><stop offset="0.786" stop-color="#9f2f7d"/><stop offset="0.857" stop-color="#922b80"/><stop offset="0.929" stop-color="#872781"/><stop offset="1.000" stop-color="#7f2481"/></linearGradient><linearGradient id="gr41" x1="0" y1="0" x2="1" y2="0"><stop offset="0.000" stop-color="#7a2281"/><stop offset="0.071" stop-color="#842681"/><stop offset="0.143" stop-color="#8f2a80"/><stop offset="0.214" stop-color="#9b2e7e"/><stop offset="0.286" stop-color="#a7327c"/><stop offset="0.357" stop-color="#af357a"/><stop offset="0.429" stop-color="#b43679"/><stop offset="0.500" stop-color="#b53679"/><stop offset="0.571" stop-color="#b0357a"/><stop offset="0.643" stop-color="#a8327c"/><stop offset="0.714" stop-color="#9d2f7e"/><stop offset="0.786" stop-color="#912b80"/><stop offset="0.857" stop-color="#852781"/><stop offset="0.929" stop-color="#7c2381"/><stop offset="1.000" stop-color="#742080"/></linearGradient><linearGradient id="gr42" x1="0" y1="0" x2="1" y2="0"><stop offset="0.000" stop-color="#6d1d80"/><stop offset="0.071" stop-color="#752080"/><stop offset="0.143" stop-color="#7f2481"/><stop offset="0.214" stop-color="#892881"/><stop offset="0.286" stop-color="#932b80"/><stop offset="0.357" stop-color="#9b2e7e"/><stop offset="0.429" stop-color="#a02f7d"/><stop offset="0.500" stop-color="#a0307d"/><stop offset="0.571" stop-color="#9c2e7e"/><stop offset="0.643" stop-color="#952c7f"/><stop offset="0.714" stop-color="#8b2981"/><stop offset="0.786" stop-color="#812581"/><stop offset="0.857" stop-color="#772180"/><stop offset="0.929" stop-color="#6e1e80"/><stop offset="1.000" stop-color="#671b80"/></linearGradient><linearGradient id="gr43" x1="0" y1="0" x2="1" y2="0"><stop offset="0.000" stop-color="#671b80"/><stop offset="0.071" stop-color="#701e80"/><stop offset="0.143" stop-color="#792281"/><stop offset="0.214" stop-color="#832681"/><stop offset="0.286" stop-color="#8c2981"/><stop offset="0.357" stop-color="#942c80"/><stop offset="0.429" stop-color="#982d7f"/><stop offset="0.500" stop-color="#992d7f"/><stop offset="0.571" stop-color="#952c7f"/><stop offset="0.643" stop-color="#8e2a81"/><stop offset="0.714" stop-color="#852681"/><stop offset="0.786" stop-color="#7b2381"/><stop offset="0.857" stop-color="#711f80"/><stop offset="0.929" stop-color="#691c80"/><stop offset="1.000" stop-color="#62197f"/></linearGradient><linearGradient id="gr44" x1="0" y1="0" x2="1" y2="0"><stop offset="0.000" stop-color="#731f80"/><stop offset="0.071" stop-color="#7c2381"/><stop offset="0.143" stop-color="#862781"/><stop offset="0.214" stop-color="#912b80"/><stop offset="0.286" stop-color="#9c2e7e"/><stop offset="0.357" stop-color="#a4317c"/><stop offset="0.429" stop-color="#a9327c"/><stop offset="0.500" stop-color="#a9337c"/><stop offset="0.571" stop-color="#a5317c"/><stop offset="0.643" stop-color="#9d2f7e"/><stop offset="0.714" stop-color="#932b80"/><stop offset="0.786" stop-color="#882781"/><stop offset="0.857" stop-color="#7d2381"/><stop offset="0.929" stop-color="#742080"/><stop offset="1.000" stop-color="#6c1d80"/></linearGradient><linearGradient id="gr45" x1="0" y1="0" x2="1" y2="0"><stop offset="0.000" stop-color="#882881"/><stop offset="0.071" stop-color="#932b80"/><stop offset="0.143" stop-color="#a02f7d"/><stop offset="0.214" stop-color="#ad347b"/><stop offset="0.286" stop-color="#b93878"/><stop offset="0.357" stop-color="#c23c74"/><stop offset="0.429" stop-color="#c73f72"/><stop offset="0.500" stop-color="#c83f72"/><stop offset="0.571" stop-color="#c33d74"/><stop offset="0.643" stop-color="#bb3977"/><stop offset="0.714" stop-color="#af357a"/><stop offset="0.786" stop-color="#a2307d"/><stop offset="0.857" stop-color="#952c7f"/><stop offset="0.929" stop-color="#8a2881"/><stop offset="1.000" stop-color="#812581"/></linearGradient><linearGradient id="gr46" x1="0" y1="0" x2="1" y2="0"><stop offset="0.000" stop-color="#9a2d7e"/><stop offset="0.071" stop-color="#a6327c"/><stop offset="0.143" stop-color="#b53679"/><stop offset="0.214" stop-color="#c23c74"/><stop offset="0.286" stop-color="#cf426f"/><stop offset="0.357" stop-color="#d9466a"/><stop offset="0.429" stop-color="#de4968"/><stop offset="0.500" stop-color="#de4968"/><stop offset="0.571" stop-color="#da476a"/><stop offset="0.643" stop-color="#d1436e"/><stop offset="0.714" stop-color="#c43d73"/><stop offset="0.786" stop-color="#b73779"/><stop offset="0.857" stop-color="#a9327c"/><stop offset="0.929" stop-color="#9c2e7e"/><stop offset="1.000" stop-color="#912b80"/></linearGradient><linearGradient id="gr47" x1="0" y1="0" x2="1" y2="0"><stop offset="0.000" stop-color="#9d2f7e"/><stop offset="0.071" stop-color="#aa337b"/><stop offset="0.143" stop-color="#b83878"/><stop offset="0.214" stop-color="#c63e72"/><stop offset="0.286" stop-color="#d3446d"/><stop offset="0.357" stop-color="#dd4869"/><stop offset="0.429" stop-color="#e14d67"/><stop offset="0.500" stop-color="#e14e67"/><stop offset="0.571" stop-color="#de4968"/><stop offset="0.643" stop-color="#d4456c"/><stop offset="0.714" stop-color="#c83f72"/><stop offset="0.786" stop-color="#ba3978"/><stop offset="0.857" stop-color="#ac337b"/><stop offset="0.929" stop-color="#9f2f7d"/><stop offset="1.000" stop-color="#942c7f"/></linearGradient><linearGradient id="gr48" x1="0" y1="0" x2="1" y2="0"><stop offset="0.000" stop-color="#972d7f"/><stop offset="0.071" stop-color="#a3317d"/><stop offset="0.143" stop-color="#b2357a"/><stop offset="0.214" stop-color="#bf3b75"/><stop offset="0.286" stop-color="#cc4170"/><stop offset="0.357" stop-color="#d5456c"/><stop offset="0.429" stop-color="#db4769"/><stop offset="0.500" stop-color="#db4869"/><stop offset="0.571" stop-color="#d6466b"/><stop offset="0.643" stop-color="#cd416f"/><stop offset="0.714" stop-color="#c13c74"/><stop offset="0.786" stop-color="#b4367a"/><stop offset="0.857" stop-color="#a6317c"/><stop offset="0.929" stop-color="#992d7f"/><stop offset="1.000" stop-color="#8f2a81"/></linearGradient><linearGradient id="gr49" x1="0" y1="0" x2="1" y2="0"><stop offset="0.000" stop-color="#902a80"/><stop offset="0.071" stop-color="#9c2e7e"/><stop offset="0.143" stop-color="#aa337b"/><stop offset="0.214" stop-color="#b83779"/><stop offset="0.286" stop-color="#c43d73"/><stop offset="0.357" stop-color="#cd416f"/><stop offset="0.429" stop-color="#d2446d"/><stop offset="0.500" stop-color="#d3446d"/><stop offset="0.571" stop-color="#ce426f"/><stop offset="0.643" stop-color="#c53e73"/><stop offset="0.714" stop-color="#ba3878"/><stop offset="0.786" stop-color="#ac337b"/><stop offset="0.857" stop-color="#9e2f7e"/><stop offset="0.929" stop-color="#922b80"/><stop offset="1.000" stop-color="#892881"/></linearGradient><linearGradient id="gr50" x1="0" y1="0" x2="1" y2="0"><stop offset="0.000" stop-color="#8f2a80"/><stop offset="0.071" stop-color="#9b2e7e"/><stop offset="0.143" stop-color="#a9327c"/><stop offset="0.214" stop-color="#b73779"/><stop offset="0.286" stop-color="#c23c74"/><stop offset="0.357" stop-color="#cc4170"/><stop offset="0.429" stop-color="#d1436e"/><stop offset="0.500" stop-color="#d1436e"/><stop offset="0.571" stop-color="#cd4170"/><stop offset="0.643" stop-color="#c43d73"/><stop offset="0.714" stop-color="#b93878"/><stop offset="0.786" stop-color="#ab337b"/><stop offset="0.857" stop-color="#9d2f7e"/><stop offset="0.929" stop-color="#912b80"/><stop offset="1.000" stop-color="#872781"/></linearGradient><linearGradient id="gr51" x1="0" y1="0" x2="1" y2="0"><stop offset="0.000" stop-color="#9a2d7e"/><stop offset="0.071" stop-color="#a6327c"/><stop offset="0.143" stop-color="#b43679"/><stop offset="0.214" stop-color="#c23c74"/><stop offset="0.286" stop-color="#cf426f"/><stop offset="0.357" stop-color="#d8466a"/><stop offset="0.429" stop-color="#de4968"/><stop offset="0.500" stop-color="#de4968"/><stop offset="0.571" stop-color="#da476a"/><stop offset="0.643" stop-color="#d0436e"/><stop offset="0.714" stop-color="#c43d73"/><stop offset="0.786" stop-color="#b73779"/><stop offset="0.857" stop-color="#a8327c"/><stop offset="0.929" stop-color="#9b2e7e"/><stop offset="1.000" stop-color="#912b80"/></linearGradient><linearGradient id="gr52" x1="0" y1="0" x2="1" y2="0"><stop offset="0.000" stop-color="#ac337b"/><stop offset="0.071" stop-color="#ba3878"/><stop offset="0.143" stop-color="#c83f72"/><stop offset="0.214" stop-color="#d7466b"/><stop offset="0.286" stop-color="#e24f66"/><stop offset="0.357" stop-color="#e95a63"/><stop offset="0.429" stop-color="#ed6061"/><stop offset="0.500" stop-color="#ed6161"/><stop offset="0.571" stop-color="#ea5b62"/><stop offset="0.643" stop-color="#e35165"/><stop offset="0.714" stop-color="#d9476a"/><stop offset="0.786" stop-color="#ca4071"/><stop offset="0.857" stop-color="#bc3977"/><stop offset="0.929" stop-color="#ae347b"/><stop offset="1.000" stop-color="#a3307d"/></linearGradient><linearGradient id="gr53" x1="0" y1="0" x2="1" y2="0"><stop offset="0.000" stop-color="#ba3878"/><stop offset="0.071" stop-color="#c73e72"/><stop offset="0.143" stop-color="#d6456b"/><stop offset="0.214" stop-color="#e35165"/><stop offset="0.286" stop-color="#ed6061"/><stop offset="0.357" stop-color="#f46b5d"/><stop offset="0.429" stop-color="#f7725d"/><stop offset="0.500" stop-color="#f7735d"/><stop offset="0.571" stop-color="#f56d5d"/><stop offset="0.643" stop-color="#ee6260"/><stop offset="0.714" stop-color="#e55465"/><stop offset="0.786" stop-color="#d9476a"/><stop offset="0.857" stop-color="#c94071"/><stop offset="0.929" stop-color="#bc3977"/><stop offset="1.000" stop-color="#b0357a"/></linearGradient><linearGradient id="gr54" x1="0" y1="0" x2="1" y2="0"><stop offset="0.000" stop-color="#c03b75"/><stop offset="0.071" stop-color="#ce426f"/><stop offset="0.143" stop-color="#de4968"/><stop offset="0.214" stop-color="#e85963"/><stop offset="0.286" stop-color="#f2685e"/><stop offset="0.357" stop-color="#f8755e"/><stop offset="0.429" stop-color="#f97d61"/><stop offset="0.500" stop-color="#f97d61"/><stop offset="0.571" stop-color="#f8765e"/><stop offset="0.643" stop-color="#f36a5e"/><stop offset="0.714" stop-color="#ea5c62"/><stop offset="0.786" stop-color="#df4b67"/><stop offset="0.857" stop-color="#d0436e"/><stop offset="0.929" stop-color="#c23c74"/><stop offset="1.000" stop-color="#b73779"/></linearGradient><linearGradient id="gr55" x1="0" y1="0" x2="1" y2="0"><stop offset="0.000" stop-color="#c83f72"/><stop offset="0.071" stop-color="#d6456c"/><stop offset="0.143" stop-color="#e35166"/><stop offset="0.214" stop-color="#ee6260"/><stop offset="0.286" stop-color="#f7725d"/><stop offset="0.357" stop-color="#f98162"/><stop offset="0.429" stop-color="#fb8965"/><stop offset="0.500" stop-color="#fb8a65"/><stop offset="0.571" stop-color="#fa8363"/><stop offset="0.643" stop-color="#f8755e"/><stop offset="0.714" stop-color="#f0655f"/><stop offset="0.786" stop-color="#e55465"/><stop offset="0.857" stop-color="#d8466a"/><stop offset="0.929" stop-color="#ca4071"/><stop offset="1.000" stop-color="#be3a76"/></linearGradient><linearGradient id="gr56" x1="0" y1="0" x2="1" y2="0"><stop offset="0.000" stop-color="#d0426e"/><stop offset="0.071" stop-color="#de4968"/><stop offset="0.143" stop-color="#e95a63"/><stop offset="0.214" stop-color="#f46c5d"/><stop offset="0.286" stop-color="#f97f61"/><stop offset="0.357" stop-color="#fb8e67"/><stop offset="0.429" stop-color="#fd976a"/><stop offset="0.500" stop-color="#fd976a"/><stop offset="0.571" stop-color="#fc9067"/><stop offset="0.643" stop-color="#fa8162"/><stop offset="0.714" stop-color="#f66f5c"/><stop offset="0.786" stop-color="#eb5d62"/><stop offset="0.857" stop-color="#e04c67"/><stop offset="0.929" stop-color="#d2436d"/><stop offset="1.000" stop-color="#c53e73"/></linearGradient><linearGradient id="gr57" x1="0" y1="0" x2="1" y2="0"><stop offset="0.000" stop-color="#d6456c"/><stop offset="0.071" stop-color="#e25066"/><stop offset="0.143" stop-color="#ee6161"/><stop offset="0.214" stop-color="#f8745d"/><stop offset="0.286" stop-color="#fb8865"/><stop offset="0.357" stop-color="#fd986a"/><stop offset="0.429" stop-color="#fea16e"/><stop offset="0.500" stop-color="#fea26f"/><stop offset="0.571" stop-color="#fd9a6b"/><stop offset="0.643" stop-color="#fb8b66"/><stop offset="0.714" stop-color="#f8785f"/><stop offset="0.786" stop-color="#ef6460"/><stop offset="0.857" stop-color="#e45365"/><stop offset="0.929" stop-color="#d8466b"/><stop offset="1.000" stop-color="#cb4070"/></linearGradient><linearGradient id="gr58" x1="0" y1="0" x2="1" y2="0"><stop offset="0.000" stop-color="#de4968"/><stop offset="0.071" stop-color="#e85963"/><stop offset="0.143" stop-color="#f46b5e"/><stop offset="0.214" stop-color="#f98062"/><stop offset="0.286" stop-color="#fd9569"/><stop offset="0.357" stop-color="#fea572"/><stop offset="0.429" stop-color="#feaf79"/><stop offset="0.500" stop-color="#feb07a"/><stop offset="0.571" stop-color="#fea773"/><stop offset="0.643" stop-color="#fd986a"/><stop offset="0.714" stop-color="#fa8463"/><stop offset="0.786" stop-color="#f56e5d"/><stop offset="0.857" stop-color="#ea5b62"/><stop offset="0.929" stop-color="#df4b67"/><stop offset="1.000" stop-color="#d3446d"/></linearGradient><linearGradient id="gr59" x1="0" y1="0" x2="1" y2="0"><stop offset="0.000" stop-color="#e75764"/><stop offset="0.071" stop-color="#f1675f"/><stop offset="0.143" stop-color="#f97c60"/><stop offset="0.214" stop-color="#fc9469"/><stop offset="0.286" stop-color="#feab76"/><stop offset="0.357" stop-color="#febc84"/><stop offset="0.429" stop-color="#fec68b"/><stop offset="0.500" stop-color="#fec78c"/><stop offset="0.571" stop-color="#febe85"/><stop offset="0.643" stop-color="#feae78"/><stop offset="0.714" stop-color="#fd986a"/><stop offset="0.786" stop-color="#f98062"/><stop offset="0.857" stop-color="#f36a5e"/><stop offset="0.929" stop-color="#e85963"/><stop offset="1.000" stop-color="#df4b67"/></linearGradient><linearGradient id="gr60" x1="0" y1="0" x2="1" y2="0"><stop offset="0.000" stop-color="#ed6061"/><stop offset="0.071" stop-color="#f7725d"/><stop offset="0.143" stop-color="#fb8a65"/><stop offset="0.214" stop-color="#fea370"/><stop offset="0.286" stop-color="#feba82"/><stop offset="0.357" stop-color="#fecd90"/><stop offset="0.429" stop-color="#fed79a"/><stop offset="0.500" stop-color="#fed89a"/><stop offset="0.571" stop-color="#fecf92"/><stop offset="0.643" stop-color="#febe85"/><stop offset="0.714" stop-color="#fea773"/><stop offset="0.786" stop-color="#fb8e67"/><stop offset="0.857" stop-color="#f8765e"/><stop offset="0.929" stop-color="#ef6360"/><stop offset="1.000" stop-color="#e55564"/></linearGradient><linearGradient id="gr61" x1="0" y1="0" x2="1" y2="0"><stop offset="0.000" stop-color="#e75764"/><stop offset="0.071" stop-color="#f2685e"/><stop offset="0.143" stop-color="#f97d61"/><stop offset="0.214" stop-color="#fd956a"/><stop offset="0.286" stop-color="#feac77"/><stop offset="0.357" stop-color="#febd84"/><stop offset="0.429" stop-color="#fec78c"/><stop offset="0.500" stop-color="#fec88d"/><stop offset="0.571" stop-color="#fec086"/><stop offset="0.643" stop-color="#feaf79"/><stop offset="0.714" stop-color="#fd996b"/><stop offset="0.786" stop-color="#fa8162"/><stop offset="0.857" stop-color="#f46b5e"/><stop offset="0.929" stop-color="#e95a63"/><stop offset="1.000" stop-color="#e04c67"/></linearGradient><linearGradient id="gr62" x1="0" y1="0" x2="1" y2="0"><stop offset="0.000" stop-color="#cf426e"/><stop offset="0.071" stop-color="#de4968"/><stop offset="0.143" stop-color="#e95a63"/><stop offset="0.214" stop-color="#f46b5d"/><stop offset="0.286" stop-color="#f97e61"/><stop offset="0.357" stop-color="#fb8d67"/><stop offset="0.429" stop-color="#fd966a"/><stop offset="0.500" stop-color="#fd976a"/><stop offset="0.571" stop-color="#fc8f67"/><stop offset="0.643" stop-color="#f98162"/><stop offset="0.714" stop-color="#f66e5d"/><stop offset="0.786" stop-color="#eb5d62"/><stop offset="0.857" stop-color="#e04c67"/><stop offset="0.929" stop-color="#d1436e"/><stop offset="1.000" stop-color="#c53d73"/></linearGradient><linearGradient id="gr63" x1="0" y1="0" x2="1" y2="0"><stop offset="0.000" stop-color="#b0357a"/><stop offset="0.071" stop-color="#bd3a76"/><stop offset="0.143" stop-color="#cc4170"/><stop offset="0.214" stop-color="#db4869"/><stop offset="0.286" stop-color="#e55465"/><stop offset="0.357" stop-color="#ec5f61"/><stop offset="0.429" stop-color="#f0655f"/><stop offset="0.500" stop-color="#f0655f"/><stop offset="0.571" stop-color="#ed6061"/><stop offset="0.643" stop-color="#e65664"/><stop offset="0.714" stop-color="#dd4968"/><stop offset="0.786" stop-color="#ce426f"/><stop offset="0.857" stop-color="#bf3b75"/><stop offset="0.929" stop-color="#b2357a"/><stop offset="1.000" stop-color="#a6327c"/></linearGradient><linearGradient id="gr64" x1="0" y1="0" x2="1" y2="0"><stop offset="0.000" stop-color="#a5317c"/><stop offset="0.071" stop-color="#b3367a"/><stop offset="0.143" stop-color="#c13b75"/><stop offset="0.214" stop-color="#cf426f"/><stop offset="0.286" stop-color="#dc4869"/><stop offset="0.357" stop-color="#e45265"/><stop offset="0.429" stop-color="#e75864"/><stop offset="0.500" stop-color="#e85863"/><stop offset="0.571" stop-color="#e45365"/><stop offset="0.643" stop-color="#de4968"/><stop offset="0.714" stop-color="#d1436e"/><stop offset="0.786" stop-color="#c33d74"/><stop offset="0.857" stop-color="#b53679"/><stop offset="0.929" stop-color="#a7327c"/><stop offset="1.000" stop-color="#9c2e7e"/></linearGradient><linearGradient id="gr65" x1="0" y1="0" x2="1" y2="0"><stop offset="0.000" stop-color="#bd3a76"/><stop offset="0.071" stop-color="#cb4070"/><stop offset="0.143" stop-color="#da476a"/><stop offset="0.214" stop-color="#e65664"/><stop offset="0.286" stop-color="#f06560"/><stop offset="0.357" stop-color="#f7705c"/><stop offset="0.429" stop-color="#f8785f"/><stop offset="0.500" stop-color="#f8795f"/><stop offset="0.571" stop-color="#f7725d"/><stop offset="0.643" stop-color="#f1675f"/><stop offset="0.714" stop-color="#e85863"/><stop offset="0.786" stop-color="#dd4968"/><stop offset="0.857" stop-color="#cd416f"/><stop offset="0.929" stop-color="#bf3b75"/><stop offset="1.000" stop-color="#b4367a"/></linearGradient><linearGradient id="gr66" x1="0" y1="0" x2="1" y2="0"><stop offset="0.000" stop-color="#e04c67"/><stop offset="0.071" stop-color="#ea5c62"/><stop offset="0.143" stop-color="#f66f5c"/><stop offset="0.214" stop-color="#fa8564"/><stop offset="0.286" stop-color="#fd9a6b"/><stop offset="0.357" stop-color="#feab76"/><stop offset="0.429" stop-color="#feb57e"/><stop offset="0.500" stop-color="#feb57e"/><stop offset="0.571" stop-color="#fead78"/><stop offset="0.643" stop-color="#fe9d6c"/><stop offset="0.714" stop-color="#fb8965"/><stop offset="0.786" stop-color="#f7725d"/><stop offset="0.857" stop-color="#ec5f61"/><stop offset="0.929" stop-color="#e24f66"/><stop offset="1.000" stop-color="#d6456b"/></linearGradient><linearGradient id="gr67" x1="0" y1="0" x2="1" y2="0"><stop offset="0.000" stop-color="#f0655f"/><stop offset="0.071" stop-color="#f8785f"/><stop offset="0.143" stop-color="#fc9068"/><stop offset="0.214" stop-color="#feaa75"/><stop offset="0.286" stop-color="#fec288"/><stop offset="0.357" stop-color="#fed497"/><stop offset="0.429" stop-color="#fddea1"/><stop offset="0.500" stop-color="#fddfa2"/><stop offset="0.571" stop-color="#fed799"/><stop offset="0.643" stop-color="#fec58b"/><stop offset="0.714" stop-color="#feae79"/><stop offset="0.786" stop-color="#fc9569"/><stop offset="0.857" stop-color="#f97c60"/><stop offset="0.929" stop-color="#f2685f"/><stop offset="1.000" stop-color="#e85963"/></linearGradient><linearGradient id="gr68" x1="0" y1="0" x2="1" y2="0"><stop offset="0.000" stop-color="#f1675f"/><stop offset="0.071" stop-color="#f87a60"/><stop offset="0.143" stop-color="#fc9268"/><stop offset="0.214" stop-color="#feac77"/><stop offset="0.286" stop-color="#fec48a"/><stop offset="0.357" stop-color="#fed799"/><stop offset="0.429" stop-color="#fde1a3"/><stop offset="0.500" stop-color="#fde2a4"/><stop offset="0.571" stop-color="#fed99c"/><stop offset="0.643" stop-color="#fec88c"/><stop offset="0.714" stop-color="#feb07a"/><stop offset="0.786" stop-color="#fd976a"/><stop offset="0.857" stop-color="#f97e61"/><stop offset="0.929" stop-color="#f3695e"/><stop offset="1.000" stop-color="#e95a63"/></linearGradient><linearGradient id="gr69" x1="0" y1="0" x2="1" y2="0"><stop offset="0.000" stop-color="#ea5b62"/><stop offset="0.071" stop-color="#f46c5d"/><stop offset="0.143" stop-color="#fa8363"/><stop offset="0.214" stop-color="#fd9b6c"/><stop offset="0.286" stop-color="#feb27b"/><stop offset="0.357" stop-color="#fec489"/><stop offset="0.429" stop-color="#fece91"/><stop offset="0.500" stop-color="#fecf92"/><stop offset="0.571" stop-color="#fec68b"/><stop offset="0.643" stop-color="#feb57e"/><stop offset="0.714" stop-color="#fe9f6d"/><stop offset="0.786" stop-color="#fa8664"/><stop offset="0.857" stop-color="#f66f5c"/><stop offset="0.929" stop-color="#eb5e62"/><stop offset="1.000" stop-color="#e24f66"/></linearGradient><linearGradient id="gr70" x1="0" y1="0" x2="1" y2="0"><stop offset="0.000" stop-color="#e24f66"/><stop offset="0.071" stop-color="#ec6061"/><stop offset="0.143" stop-color="#f7725d"/><stop offset="0.214" stop-color="#fb8a65"/><stop offset="0.286" stop-color="#fe9f6d"/><stop offset="0.357" stop-color="#feb07a"/><stop offset="0.429" stop-color="#feba82"/><stop offset="0.500" stop-color="#febb82"/><stop offset="0.571" stop-color="#feb27c"/><stop offset="0.643" stop-color="#fea26f"/><stop offset="0.714" stop-color="#fb8d67"/><stop offset="0.786" stop-color="#f8765e"/><stop offset="0.857" stop-color="#ee6260"/><stop offset="0.929" stop-color="#e45265"/><stop offset="1.000" stop-color="#d9476a"/></linearGradient><linearGradient id="gr71" x1="0" y1="0" x2="1" y2="0"><stop offset="0.000" stop-color="#df4a68"/><stop offset="0.071" stop-color="#e95a63"/><stop offset="0.143" stop-color="#f46c5d"/><stop offset="0.214" stop-color="#fa8262"/><stop offset="0.286" stop-color="#fd976a"/><stop offset="0.357" stop-color="#fea773"/><stop offset="0.429" stop-color="#feb17b"/><stop offset="0.500" stop-color="#feb17b"/><stop offset="0.571" stop-color="#fea975"/><stop offset="0.643" stop-color="#fd9a6b"/><stop offset="0.714" stop-color="#fa8564"/><stop offset="0.786" stop-color="#f66f5c"/><stop offset="0.857" stop-color="#eb5d62"/><stop offset="0.929" stop-color="#e04c67"/><stop offset="1.000" stop-color="#d4446c"/></linearGradient><linearGradient id="gr72" x1="0" y1="0" x2="1" y2="0"><stop offset="0.000" stop-color="#df4a68"/><stop offset="0.071" stop-color="#e95a63"/><stop offset="0.143" stop-color="#f46c5d"/><stop offset="0.214" stop-color="#fa8262"/><stop offset="0.286" stop-color="#fd976a"/><stop offset="0.357" stop-color="#fea773"/><stop offset="0.429" stop-color="#feb17b"/><stop offset="0.500" stop-color="#feb17b"/><stop offset="0.571" stop-color="#fea975"/><stop offset="0.643" stop-color="#fd9a6b"/><stop offset="0.714" stop-color="#fa8564"/><stop offset="0.786" stop-color="#f66f5c"/><stop offset="0.857" stop-color="#eb5d62"/><stop offset="0.929" stop-color="#e04c67"/><stop offset="1.000" stop-color="#d4446c"/></linearGradient><linearGradient id="gr73" x1="0" y1="0" x2="1" y2="0"><stop offset="0.000" stop-color="#681c80"/><stop offset="0.071" stop-color="#6a1c80"/><stop offset="0.143" stop-color="#6d1e80"/><stop offset="0.214" stop-color="#711f80"/><stop offset="0.286" stop-color="#762180"/><stop offset="0.357" stop-color="#792281"/><stop offset="0.429" stop-color="#7c2381"/><stop offset="0.500" stop-color="#7c2381"/><stop offset="0.571" stop-color="#7a2281"/><stop offset="0.643" stop-color="#752080"/><stop offset="0.714" stop-color="#6e1e80"/><stop offset="0.786" stop-color="#651b80"/><stop offset="0.857" stop-color="#5d187d"/><stop offset="0.929" stop-color="#54167a"/><stop offset="1.000" stop-color="#4c1477"/></linearGradient><linearGradient id="gr74" x1="0" y1="0" x2="1" y2="0"><stop offset="0.000" stop-color="#681c80"/><stop offset="0.071" stop-color="#6a1c80"/><stop offset="0.143" stop-color="#6e1e80"/><stop offset="0.214" stop-color="#721f80"/><stop offset="0.286" stop-color="#762180"/><stop offset="0.357" stop-color="#7a2281"/><stop offset="0.429" stop-color="#7c2381"/><stop offset="0.500" stop-color="#7c2381"/><stop offset="0.571" stop-color="#7a2281"/><stop offset="0.643" stop-color="#752080"/><stop offset="0.714" stop-color="#6e1e80"/><stop offset="0.786" stop-color="#661b80"/><stop offset="0.857" stop-color="#5d187d"/><stop offset="0.929" stop-color="#54167a"/><stop offset="1.000" stop-color="#4c1477"/></linearGradient><linearGradient id="gr75" x1="0" y1="0" x2="1" y2="0"><stop offset="0.000" stop-color="#691c80"/><stop offset="0.071" stop-color="#6b1d80"/><stop offset="0.143" stop-color="#6e1e80"/><stop offset="0.214" stop-color="#721f80"/><stop offset="0.286" stop-color="#772180"/><stop offset="0.357" stop-color="#7a2281"/><stop offset="0.429" stop-color="#7d2381"/><stop offset="0.500" stop-color="#7d2381"/><stop offset="0.571" stop-color="#7b2281"/><stop offset="0.643" stop-color="#762180"/><stop offset="0.714" stop-color="#6f1e80"/><stop offset="0.786" stop-color="#661b80"/><stop offset="0.857" stop-color="#5d187d"/><stop offset="0.929" stop-color="#54167a"/><stop offset="1.000" stop-color="#4c1477"/></linearGradient><linearGradient id="gr76" x1="0" y1="0" x2="1" y2="0"><stop offset="0.000" stop-color="#691c80"/><stop offset="0.071" stop-color="#6b1d80"/><stop offset="0.143" stop-color="#6f1e80"/><stop offset="0.214" stop-color="#732080"/><stop offset="0.286" stop-color="#772180"/><stop offset="0.357" stop-color="#7b2381"/><stop offset="0.429" stop-color="#7e2481"/><stop offset="0.500" stop-color="#7e2481"/><stop offset="0.571" stop-color="#7b2381"/><stop offset="0.643" stop-color="#762180"/><stop offset="0.714" stop-color="#6f1e80"/><stop offset="0.786" stop-color="#671b80"/><stop offset="0.857" stop-color="#5e187d"/><stop offset="0.929" stop-color="#55167a"/><stop offset="1.000" stop-color="#4d1477"/></linearGradient><linearGradient id="gr77" x1="0" y1="0" x2="1" y2="0"><stop offset="0.000" stop-color="#6a1c80"/><stop offset="0.071" stop-color="#6c1d80"/><stop offset="0.143" stop-color="#6f1e80"/><stop offset="0.214" stop-color="#742080"/><stop offset="0.286" stop-color="#782281"/><stop offset="0.357" stop-color="#7c2381"/><stop offset="0.429" stop-color="#7f2481"/><stop offset="0.500" stop-color="#7f2481"/><stop offset="0.571" stop-color="#7c2381"/><stop offset="0.643" stop-color="#772180"/><stop offset="0.714" stop-color="#701e80"/><stop offset="0.786" stop-color="#671b80"/><stop offset="0.857" stop-color="#5e187e"/><stop offset="0.929" stop-color="#55167a"/><stop offset="1.000" stop-color="#4d1477"/></linearGradient><linearGradient id="gr78" x1="0" y1="0" x2="1" y2="0"><stop offset="0.000" stop-color="#6a1c80"/><stop offset="0.071" stop-color="#6c1d80"/><stop offset="0.143" stop-color="#701f80"/><stop offset="0.214" stop-color="#742080"/><stop offset="0.286" stop-color="#792281"/><stop offset="0.357" stop-color="#7d2381"/><stop offset="0.429" stop-color="#802481"/><stop offset="0.500" stop-color="#802481"/><stop offset="0.571" stop-color="#7d2381"/><stop offset="0.643" stop-color="#782281"/><stop offset="0.714" stop-color="#711f80"/><stop offset="0.786" stop-color="#681c80"/><stop offset="0.857" stop-color="#5f197e"/><stop offset="0.929" stop-color="#56167a"/><stop offset="1.000" stop-color="#4e1477"/></linearGradient><linearGradient id="gr79" x1="0" y1="0" x2="1" y2="0"><stop offset="0.000" stop-color="#6b1d80"/><stop offset="0.071" stop-color="#6d1d80"/><stop offset="0.143" stop-color="#711f80"/><stop offset="0.214" stop-color="#752180"/><stop offset="0.286" stop-color="#7a2281"/><stop offset="0.357" stop-color="#7e2481"/><stop offset="0.429" stop-color="#812581"/><stop offset="0.500" stop-color="#812581"/><stop offset="0.571" stop-color="#7e2481"/><stop offset="0.643" stop-color="#792281"/><stop offset="0.714" stop-color="#721f80"/><stop offset="0.786" stop-color="#691c80"/><stop offset="0.857" stop-color="#60197e"/><stop offset="0.929" stop-color="#56167b"/><stop offset="1.000" stop-color="#4e1478"/></linearGradient><linearGradient id="gr80" x1="0" y1="0" x2="1" y2="0"><stop offset="0.000" stop-color="#6b1d80"/><stop offset="0.071" stop-color="#6e1e80"/><stop offset="0.143" stop-color="#721f80"/><stop offset="0.214" stop-color="#772180"/><stop offset="0.286" stop-color="#7b2381"/><stop offset="0.357" stop-color="#802481"/><stop offset="0.429" stop-color="#822581"/><stop offset="0.500" stop-color="#822581"/><stop offset="0.571" stop-color="#802481"/><stop offset="0.643" stop-color="#7a2281"/><stop offset="0.714" stop-color="#732080"/><stop offset="0.786" stop-color="#6a1c80"/><stop offset="0.857" stop-color="#60197f"/><stop offset="0.929" stop-color="#57177b"/><stop offset="1.000" stop-color="#4f1478"/></linearGradient><linearGradient id="gr81" x1="0" y1="0" x2="1" y2="0"><stop offset="0.000" stop-color="#6c1d80"/><stop offset="0.071" stop-color="#6f1e80"/><stop offset="0.143" stop-color="#732080"/><stop offset="0.214" stop-color="#782180"/><stop offset="0.286" stop-color="#7d2381"/><stop offset="0.357" stop-color="#812581"/><stop offset="0.429" stop-color="#842681"/><stop offset="0.500" stop-color="#842681"/><stop offset="0.571" stop-color="#812581"/><stop offset="0.643" stop-color="#7c2381"/><stop offset="0.714" stop-color="#742080"/><stop offset="0.786" stop-color="#6b1d80"/><stop offset="0.857" stop-color="#61197f"/><stop offset="0.929" stop-color="#58177b"/><stop offset="1.000" stop-color="#501578"/></linearGradient><linearGradient id="gr82" x1="0" y1="0" x2="1" y2="0"><stop offset="0.000" stop-color="#6d1d80"/><stop offset="0.071" stop-color="#701e80"/><stop offset="0.143" stop-color="#742080"/><stop offset="0.214" stop-color="#792281"/><stop offset="0.286" stop-color="#7e2481"/><stop offset="0.357" stop-color="#822581"/><stop offset="0.429" stop-color="#852681"/><stop offset="0.500" stop-color="#852781"/><stop offset="0.571" stop-color="#832681"/><stop offset="0.643" stop-color="#7d2381"/><stop offset="0.714" stop-color="#752180"/><stop offset="0.786" stop-color="#6c1d80"/><stop offset="0.857" stop-color="#621a7f"/><stop offset="0.929" stop-color="#59177c"/><stop offset="1.000" stop-color="#501578"/></linearGradient><linearGradient id="gr83" x1="0" y1="0" x2="1" y2="0"><stop offset="0.000" stop-color="#6e1e80"/><stop offset="0.071" stop-color="#711f80"/><stop offset="0.143" stop-color="#752080"/><stop offset="0.214" stop-color="#7a2281"/><stop offset="0.286" stop-color="#802481"/><stop offset="0.357" stop-color="#842681"/><stop offset="0.429" stop-color="#872781"/><stop offset="0.500" stop-color="#872781"/><stop offset="0.571" stop-color="#842681"/><stop offset="0.643" stop-color="#7f2481"/><stop offset="0.714" stop-color="#772180"/><stop offset="0.786" stop-color="#6d1e80"/><stop offset="0.857" stop-color="#641a80"/><stop offset="0.929" stop-color="#5a177c"/><stop offset="1.000" stop-color="#511579"/></linearGradient><linearGradient id="gr84" x1="0" y1="0" x2="1" y2="0"><stop offset="0.000" stop-color="#6f1e80"/><stop offset="0.071" stop-color="#721f80"/><stop offset="0.143" stop-color="#762180"/><stop offset="0.214" stop-color="#7c2381"/><stop offset="0.286" stop-color="#812581"/><stop offset="0.357" stop-color="#862781"/><stop offset="0.429" stop-color="#892881"/><stop offset="0.500" stop-color="#892881"/><stop offset="0.571" stop-color="#862781"/><stop offset="0.643" stop-color="#802581"/><stop offset="0.714" stop-color="#782281"/><stop offset="0.786" stop-color="#6f1e80"/><stop offset="0.857" stop-color="#651a80"/><stop offset="0.929" stop-color="#5b187c"/><stop offset="1.000" stop-color="#521579"/></linearGradient><linearGradient id="gr85" x1="0" y1="0" x2="1" y2="0"><stop offset="0.000" stop-color="#701f80"/><stop offset="0.071" stop-color="#732080"/><stop offset="0.143" stop-color="#782180"/><stop offset="0.214" stop-color="#7d2381"/><stop offset="0.286" stop-color="#832681"/><stop offset="0.357" stop-color="#882781"/><stop offset="0.429" stop-color="#8a2881"/><stop offset="0.500" stop-color="#8b2981"/><stop offset="0.571" stop-color="#882781"/><stop offset="0.643" stop-color="#822581"/><stop offset="0.714" stop-color="#7a2281"/><stop offset="0.786" stop-color="#701f80"/><stop offset="0.857" stop-color="#661b80"/><stop offset="0.929" stop-color="#5c187d"/><stop offset="1.000" stop-color="#531579"/></linearGradient><linearGradient id="gr86" x1="0" y1="0" x2="1" y2="0"><stop offset="0.000" stop-color="#711f80"/><stop offset="0.071" stop-color="#752080"/><stop offset="0.143" stop-color="#792281"/><stop offset="0.214" stop-color="#7f2481"/><stop offset="0.286" stop-color="#852681"/><stop offset="0.357" stop-color="#892881"/><stop offset="0.429" stop-color="#8c2981"/><stop offset="0.500" stop-color="#8d2981"/><stop offset="0.571" stop-color="#8a2881"/><stop offset="0.643" stop-color="#842681"/><stop offset="0.714" stop-color="#7b2381"/><stop offset="0.786" stop-color="#721f80"/><stop offset="0.857" stop-color="#671b80"/><stop offset="0.929" stop-color="#5d187d"/><stop offset="1.000" stop-color="#54167a"/></linearGradient><linearGradient id="gr87" x1="0" y1="0" x2="1" y2="0"><stop offset="0.000" stop-color="#721f80"/><stop offset="0.071" stop-color="#762180"/><stop offset="0.143" stop-color="#7b2381"/><stop offset="0.214" stop-color="#812581"/><stop offset="0.286" stop-color="#862781"/><stop offset="0.357" stop-color="#8b2981"/><stop offset="0.429" stop-color="#8f2a81"/><stop offset="0.500" stop-color="#8f2a80"/><stop offset="0.571" stop-color="#8c2981"/><stop offset="0.643" stop-color="#862781"/><stop offset="0.714" stop-color="#7d2381"/><stop offset="0.786" stop-color="#732080"/><stop offset="0.857" stop-color="#691c80"/><stop offset="0.929" stop-color="#5f197e"/><stop offset="1.000" stop-color="#55167a"/></linearGradient><linearGradient id="gr88" x1="0" y1="0" x2="1" y2="0"><stop offset="0.000" stop-color="#742080"/><stop offset="0.071" stop-color="#772180"/><stop offset="0.143" stop-color="#7c2381"/><stop offset="0.214" stop-color="#822581"/><stop offset="0.286" stop-color="#882881"/><stop offset="0.357" stop-color="#8e2a81"/><stop offset="0.429" stop-color="#912b80"/><stop offset="0.500" stop-color="#912b80"/><stop offset="0.571" stop-color="#8e2a81"/><stop offset="0.643" stop-color="#882781"/><stop offset="0.714" stop-color="#7f2481"/><stop offset="0.786" stop-color="#752080"/><stop offset="0.857" stop-color="#6a1c80"/><stop offset="0.929" stop-color="#60197e"/><stop offset="1.000" stop-color="#57167b"/></linearGradient><linearGradient id="gr89" x1="0" y1="0" x2="1" y2="0"><stop offset="0.000" stop-color="#752080"/><stop offset="0.071" stop-color="#792281"/><stop offset="0.143" stop-color="#7e2481"/><stop offset="0.214" stop-color="#842681"/><stop offset="0.286" stop-color="#8a2881"/><stop offset="0.357" stop-color="#902a80"/><stop offset="0.429" stop-color="#932b80"/><stop offset="0.500" stop-color="#942b80"/><stop offset="0.571" stop-color="#902a80"/><stop offset="0.643" stop-color="#8a2881"/><stop offset="0.714" stop-color="#812581"/><stop offset="0.786" stop-color="#762180"/><stop offset="0.857" stop-color="#6c1d80"/><stop offset="0.929" stop-color="#61197f"/><stop offset="1.000" stop-color="#58177b"/></linearGradient><linearGradient id="gr90" x1="0" y1="0" x2="1" y2="0"><stop offset="0.000" stop-color="#772180"/><stop offset="0.071" stop-color="#7b2281"/><stop offset="0.143" stop-color="#802481"/><stop offset="0.214" stop-color="#862781"/><stop offset="0.286" stop-color="#8d2981"/><stop offset="0.357" stop-color="#922b80"/><stop offset="0.429" stop-color="#962c7f"/><stop offset="0.500" stop-color="#962c7f"/><stop offset="0.571" stop-color="#932b80"/><stop offset="0.643" stop-color="#8c2981"/><stop offset="0.714" stop-color="#832681"/><stop offset="0.786" stop-color="#782281"/><stop offset="0.857" stop-color="#6d1d80"/><stop offset="0.929" stop-color="#631a80"/><stop offset="1.000" stop-color="#59177c"/></linearGradient><linearGradient id="gr91" x1="0" y1="0" x2="1" y2="0"><stop offset="0.000" stop-color="#782281"/><stop offset="0.071" stop-color="#7c2381"/><stop offset="0.143" stop-color="#822581"/><stop offset="0.214" stop-color="#882881"/><stop offset="0.286" stop-color="#8f2a80"/><stop offset="0.357" stop-color="#952c7f"/><stop offset="0.429" stop-color="#982d7f"/><stop offset="0.500" stop-color="#992d7f"/><stop offset="0.571" stop-color="#952c7f"/><stop offset="0.643" stop-color="#8e2a81"/><stop offset="0.714" stop-color="#852681"/><stop offset="0.786" stop-color="#7a2281"/><stop offset="0.857" stop-color="#6f1e80"/><stop offset="0.929" stop-color="#641a80"/><stop offset="1.000" stop-color="#5b187c"/></linearGradient><linearGradient id="gr92" x1="0" y1="0" x2="1" y2="0"><stop offset="0.000" stop-color="#7a2281"/><stop offset="0.071" stop-color="#7e2481"/><stop offset="0.143" stop-color="#842681"/><stop offset="0.214" stop-color="#8a2881"/><stop offset="0.286" stop-color="#912b80"/><stop offset="0.357" stop-color="#972d7f"/><stop offset="0.429" stop-color="#9b2e7e"/><stop offset="0.500" stop-color="#9b2e7e"/><stop offset="0.571" stop-color="#982d7f"/><stop offset="0.643" stop-color="#912a80"/><stop offset="0.714" stop-color="#872781"/><stop offset="0.786" stop-color="#7c2381"/><stop offset="0.857" stop-color="#711f80"/><stop offset="0.929" stop-color="#661b80"/><stop offset="1.000" stop-color="#5c187d"/></linearGradient><linearGradient id="gr93" x1="0" y1="0" x2="1" y2="0"><stop offset="0.000" stop-color="#7b2381"/><stop offset="0.071" stop-color="#802481"/><stop offset="0.143" stop-color="#862781"/><stop offset="0.214" stop-color="#8c2981"/><stop offset="0.286" stop-color="#942c80"/><stop offset="0.357" stop-color="#9a2e7e"/><stop offset="0.429" stop-color="#9e2f7e"/><stop offset="0.500" stop-color="#9e2f7e"/><stop offset="0.571" stop-color="#9a2e7e"/><stop offset="0.643" stop-color="#932b80"/><stop offset="0.714" stop-color="#892881"/><stop offset="0.786" stop-color="#7e2481"/><stop offset="0.857" stop-color="#731f80"/><stop offset="0.929" stop-color="#681b80"/><stop offset="1.000" stop-color="#5e187e"/></linearGradient><linearGradient id="gr94" x1="0" y1="0" x2="1" y2="0"><stop offset="0.000" stop-color="#7d2381"/><stop offset="0.071" stop-color="#822581"/><stop offset="0.143" stop-color="#882781"/><stop offset="0.214" stop-color="#8f2a80"/><stop offset="0.286" stop-color="#962c7f"/><stop offset="0.357" stop-color="#9d2e7e"/><stop offset="0.429" stop-color="#a0307d"/><stop offset="0.500" stop-color="#a1307d"/><stop offset="0.571" stop-color="#9d2f7e"/><stop offset="0.643" stop-color="#962c7f"/><stop offset="0.714" stop-color="#8b2981"/><stop offset="0.786" stop-color="#802581"/><stop offset="0.857" stop-color="#742080"/><stop offset="0.929" stop-color="#691c80"/><stop offset="1.000" stop-color="#5f197e"/></linearGradient><linearGradient id="gr95" x1="0" y1="0" x2="1" y2="0"><stop offset="0.000" stop-color="#7f2481"/><stop offset="0.071" stop-color="#832681"/><stop offset="0.143" stop-color="#8a2881"/><stop offset="0.214" stop-color="#912b80"/><stop offset="0.286" stop-color="#992d7f"/><stop offset="0.357" stop-color="#9f2f7d"/><stop offset="0.429" stop-color="#a3317d"/><stop offset="0.500" stop-color="#a4317d"/><stop offset="0.571" stop-color="#a02f7d"/><stop offset="0.643" stop-color="#982d7f"/><stop offset="0.714" stop-color="#8e2a81"/><stop offset="0.786" stop-color="#822581"/><stop offset="0.857" stop-color="#762180"/><stop offset="0.929" stop-color="#6b1d80"/><stop offset="1.000" stop-color="#61197f"/></linearGradient><linearGradient id="gr96" x1="0" y1="0" x2="1" y2="0"><stop offset="0.000" stop-color="#812581"/><stop offset="0.071" stop-color="#852781"/><stop offset="0.143" stop-color="#8c2981"/><stop offset="0.214" stop-color="#942c80"/><stop offset="0.286" stop-color="#9c2e7e"/><stop offset="0.357" stop-color="#a2307d"/><stop offset="0.429" stop-color="#a6327c"/><stop offset="0.500" stop-color="#a7327c"/><stop offset="0.571" stop-color="#a3307d"/><stop offset="0.643" stop-color="#9b2e7e"/><stop offset="0.714" stop-color="#902a80"/><stop offset="0.786" stop-color="#842681"/><stop offset="0.857" stop-color="#782281"/><stop offset="0.929" stop-color="#6d1d80"/><stop offset="1.000" stop-color="#631a80"/></linearGradient><linearGradient id="gr97" x1="0" y1="0" x2="1" y2="0"><stop offset="0.000" stop-color="#822581"/><stop offset="0.071" stop-color="#882781"/><stop offset="0.143" stop-color="#8e2a81"/><stop offset="0.214" stop-color="#962c7f"/><stop offset="0.286" stop-color="#9f2f7e"/><stop offset="0.357" stop-color="#a5317c"/><stop offset="0.429" stop-color="#a9337c"/><stop offset="0.500" stop-color="#aa337b"/><stop offset="0.571" stop-color="#a6317c"/><stop offset="0.643" stop-color="#9e2f7e"/><stop offset="0.714" stop-color="#932b80"/><stop offset="0.786" stop-color="#872781"/><stop offset="0.857" stop-color="#7a2281"/><stop offset="0.929" stop-color="#6f1e80"/><stop offset="1.000" stop-color="#651a80"/></linearGradient><linearGradient id="gr98" x1="0" y1="0" x2="1" y2="0"><stop offset="0.000" stop-color="#842681"/><stop offset="0.071" stop-color="#8a2881"/><stop offset="0.143" stop-color="#912b80"/><stop offset="0.214" stop-color="#992d7f"/><stop offset="0.286" stop-color="#a1307d"/><stop offset="0.357" stop-color="#a8327c"/><stop offset="0.429" stop-color="#ac347b"/><stop offset="0.500" stop-color="#ad347b"/><stop offset="0.571" stop-color="#a9327c"/><stop offset="0.643" stop-color="#a1307d"/><stop offset="0.714" stop-color="#962c7f"/><stop offset="0.786" stop-color="#892881"/><stop offset="0.857" stop-color="#7d2381"/><stop offset="0.929" stop-color="#711f80"/><stop offset="1.000" stop-color="#671b80"/></linearGradient><linearGradient id="gr99" x1="0" y1="0" x2="1" y2="0"><stop offset="0.000" stop-color="#862781"/><stop offset="0.071" stop-color="#8c2981"/><stop offset="0.143" stop-color="#932b80"/><stop offset="0.214" stop-color="#9c2e7e"/><stop offset="0.286" stop-color="#a4317c"/><stop offset="0.357" stop-color="#ab337b"/><stop offset="0.429" stop-color="#b0357a"/><stop offset="0.500" stop-color="#b0357a"/><stop offset="0.571" stop-color="#ac337b"/><stop offset="0.643" stop-color="#a4317d"/><stop offset="0.714" stop-color="#992d7f"/><stop offset="0.786" stop-color="#8b2981"/><stop offset="0.857" stop-color="#7f2481"/><stop offset="0.929" stop-color="#732080"/><stop offset="1.000" stop-color="#691c80"/></linearGradient><linearGradient id="gr100" x1="0" y1="0" x2="1" y2="0"><stop offset="0.000" stop-color="#892881"/><stop offset="0.071" stop-color="#8e2a81"/><stop offset="0.143" stop-color="#962c7f"/><stop offset="0.214" stop-color="#9f2f7e"/><stop offset="0.286" stop-color="#a7327c"/><stop offset="0.357" stop-color="#af347b"/><stop offset="0.429" stop-color="#b3367a"/><stop offset="0.500" stop-color="#b3367a"/><stop offset="0.571" stop-color="#af347a"/><stop offset="0.643" stop-color="#a7327c"/><stop offset="0.714" stop-color="#9b2e7e"/><stop offset="0.786" stop-color="#8e2a81"/><stop offset="0.857" stop-color="#812581"/><stop offset="0.929" stop-color="#752080"/><stop offset="1.000" stop-color="#6b1c80"/></linearGradient><linearGradient id="gr101" x1="0" y1="0" x2="1" y2="0"><stop offset="0.000" stop-color="#8b2981"/><stop offset="0.071" stop-color="#912b80"/><stop offset="0.143" stop-color="#992d7f"/><stop offset="0.214" stop-color="#a2307d"/><stop offset="0.286" stop-color="#aa337b"/><stop offset="0.357" stop-color="#b2357a"/><stop offset="0.429" stop-color="#b63779"/><stop offset="0.500" stop-color="#b73779"/><stop offset="0.571" stop-color="#b2357a"/><stop offset="0.643" stop-color="#aa337b"/><stop offset="0.714" stop-color="#9e2f7e"/><stop offset="0.786" stop-color="#912b80"/><stop offset="0.857" stop-color="#832681"/><stop offset="0.929" stop-color="#772180"/><stop offset="1.000" stop-color="#6d1d80"/></linearGradient><linearGradient id="gr102" x1="0" y1="0" x2="1" y2="0"><stop offset="0.000" stop-color="#8d2981"/><stop offset="0.071" stop-color="#932b80"/><stop offset="0.143" stop-color="#9b2e7e"/><stop offset="0.214" stop-color="#a5317c"/><stop offset="0.286" stop-color="#ae347b"/><stop offset="0.357" stop-color="#b53679"/><stop offset="0.429" stop-color="#b93878"/><stop offset="0.500" stop-color="#ba3878"/><stop offset="0.571" stop-color="#b63779"/><stop offset="0.643" stop-color="#ad347b"/><stop offset="0.714" stop-color="#a1307d"/><stop offset="0.786" stop-color="#942b80"/><stop offset="0.857" stop-color="#862781"/><stop offset="0.929" stop-color="#7a2281"/><stop offset="1.000" stop-color="#6f1e80"/></linearGradient><linearGradient id="gr103" x1="0" y1="0" x2="1" y2="0"><stop offset="0.000" stop-color="#8f2a80"/><stop offset="0.071" stop-color="#962c7f"/><stop offset="0.143" stop-color="#9e2f7e"/><stop offset="0.214" stop-color="#a8327c"/><stop offset="0.286" stop-color="#b1357a"/><stop offset="0.357" stop-color="#b83878"/><stop offset="0.429" stop-color="#bd3a77"/><stop offset="0.500" stop-color="#bd3a76"/><stop offset="0.571" stop-color="#b93878"/><stop offset="0.643" stop-color="#b0357a"/><stop offset="0.714" stop-color="#a4317c"/><stop offset="0.786" stop-color="#962c7f"/><stop offset="0.857" stop-color="#882881"/><stop offset="0.929" stop-color="#7c2381"/><stop offset="1.000" stop-color="#711f80"/></linearGradient><linearGradient id="gr104" x1="0" y1="0" x2="1" y2="0"><stop offset="0.000" stop-color="#922b80"/><stop offset="0.071" stop-color="#992d7f"/><stop offset="0.143" stop-color="#a1307d"/><stop offset="0.214" stop-color="#ab337b"/><stop offset="0.286" stop-color="#b4367a"/><stop offset="0.357" stop-color="#bc3977"/><stop offset="0.429" stop-color="#c03b75"/><stop offset="0.500" stop-color="#c03b75"/><stop offset="0.571" stop-color="#bc3977"/><stop offset="0.643" stop-color="#b4367a"/><stop offset="0.714" stop-color="#a8327c"/><stop offset="0.786" stop-color="#992d7f"/><stop offset="0.857" stop-color="#8b2981"/><stop offset="0.929" stop-color="#7e2481"/><stop offset="1.000" stop-color="#732080"/></linearGradient><linearGradient id="gr105" x1="0" y1="0" x2="1" y2="0"><stop offset="0.000" stop-color="#952c7f"/><stop offset="0.071" stop-color="#9b2e7e"/><stop offset="0.143" stop-color="#a4317d"/><stop offset="0.214" stop-color="#ae347b"/><stop offset="0.286" stop-color="#b73779"/><stop offset="0.357" stop-color="#bf3b76"/><stop offset="0.429" stop-color="#c33d74"/><stop offset="0.500" stop-color="#c33d74"/><stop offset="0.571" stop-color="#bf3b75"/><stop offset="0.643" stop-color="#b73779"/><stop offset="0.714" stop-color="#ab337b"/><stop offset="0.786" stop-color="#9c2e7e"/><stop offset="0.857" stop-color="#8e2a81"/><stop offset="0.929" stop-color="#812581"/><stop offset="1.000" stop-color="#752180"/></linearGradient><linearGradient id="gr106" x1="0" y1="0" x2="1" y2="0"><stop offset="0.000" stop-color="#972d7f"/><stop offset="0.071" stop-color="#9e2f7e"/><stop offset="0.143" stop-color="#a7327c"/><stop offset="0.214" stop-color="#b1357a"/><stop offset="0.286" stop-color="#bb3977"/><stop offset="0.357" stop-color="#c23c74"/><stop offset="0.429" stop-color="#c63e72"/><stop offset="0.500" stop-color="#c73e72"/><stop offset="0.571" stop-color="#c33c74"/><stop offset="0.643" stop-color="#ba3978"/><stop offset="0.714" stop-color="#ae347b"/><stop offset="0.786" stop-color="#9f2f7d"/><stop offset="0.857" stop-color="#912a80"/><stop offset="0.929" stop-color="#832681"/><stop offset="1.000" stop-color="#782180"/></linearGradient><linearGradient id="gr107" x1="0" y1="0" x2="1" y2="0"><stop offset="0.000" stop-color="#9a2e7e"/><stop offset="0.071" stop-color="#a1307d"/><stop offset="0.143" stop-color="#aa337b"/><stop offset="0.214" stop-color="#b43679"/><stop offset="0.286" stop-color="#be3a76"/><stop offset="0.357" stop-color="#c53e73"/><stop offset="0.429" stop-color="#ca4071"/><stop offset="0.500" stop-color="#ca4071"/><stop offset="0.571" stop-color="#c63e73"/><stop offset="0.643" stop-color="#bd3a76"/><stop offset="0.714" stop-color="#b1357a"/><stop offset="0.786" stop-color="#a3307d"/><stop offset="0.857" stop-color="#932b80"/><stop offset="0.929" stop-color="#862781"/><stop offset="1.000" stop-color="#7a2281"/></linearGradient><linearGradient id="gr108" x1="0" y1="0" x2="1" y2="0"><stop offset="0.000" stop-color="#9d2e7e"/><stop offset="0.071" stop-color="#a4317d"/><stop offset="0.143" stop-color="#ad347b"/><stop offset="0.214" stop-color="#b83779"/><stop offset="0.286" stop-color="#c13c75"/><stop offset="0.357" stop-color="#c93f71"/><stop offset="0.429" stop-color="#cd416f"/><stop offset="0.500" stop-color="#ce416f"/><stop offset="0.571" stop-color="#c93f71"/><stop offset="0.643" stop-color="#c13c75"/><stop offset="0.714" stop-color="#b53679"/><stop offset="0.786" stop-color="#a6317c"/><stop offset="0.857" stop-color="#962c7f"/><stop offset="0.929" stop-color="#882881"/><stop offset="1.000" stop-color="#7d2381"/></linearGradient><linearGradient id="gr109" x1="0" y1="0" x2="1" y2="0"><stop offset="0.000" stop-color="#a02f7d"/><stop offset="0.071" stop-color="#a7327c"/><stop offset="0.143" stop-color="#b1357a"/><stop offset="0.214" stop-color="#bb3977"/><stop offset="0.286" stop-color="#c43d73"/><stop offset="0.357" stop-color="#cc4170"/><stop offset="0.429" stop-color="#d1436e"/><stop offset="0.500" stop-color="#d1436e"/><stop offset="0.571" stop-color="#cd4170"/><stop offset="0.643" stop-color="#c43d73"/><stop offset="0.714" stop-color="#b83879"/><stop offset="0.786" stop-color="#a9327c"/><stop offset="0.857" stop-color="#9a2d7e"/><stop offset="0.929" stop-color="#8b2981"/><stop offset="1.000" stop-color="#7f2481"/></linearGradient><linearGradient id="gr110" x1="0" y1="0" x2="1" y2="0"><stop offset="0.000" stop-color="#a3307d"/><stop offset="0.071" stop-color="#aa337b"/><stop offset="0.143" stop-color="#b4367a"/><stop offset="0.214" stop-color="#be3a76"/><stop offset="0.286" stop-color="#c83f72"/><stop offset="0.357" stop-color="#d0426e"/><stop offset="0.429" stop-color="#d4456c"/><stop offset="0.500" stop-color="#d5456c"/><stop offset="0.571" stop-color="#d0436e"/><stop offset="0.643" stop-color="#c73f72"/><stop offset="0.714" stop-color="#bb3977"/><stop offset="0.786" stop-color="#ac347b"/><stop offset="0.857" stop-color="#9d2e7e"/><stop offset="0.929" stop-color="#8e2a81"/><stop offset="1.000" stop-color="#822581"/></linearGradient><linearGradient id="gr111" x1="0" y1="0" x2="1" y2="0"><stop offset="0.000" stop-color="#a6317c"/><stop offset="0.071" stop-color="#ad347b"/><stop offset="0.143" stop-color="#b73779"/><stop offset="0.214" stop-color="#c13c75"/><stop offset="0.286" stop-color="#cb4070"/><stop offset="0.357" stop-color="#d3446d"/><stop offset="0.429" stop-color="#d8466b"/><stop offset="0.500" stop-color="#d8466b"/><stop offset="0.571" stop-color="#d4446c"/><stop offset="0.643" stop-color="#cb4070"/><stop offset="0.714" stop-color="#bf3b76"/><stop offset="0.786" stop-color="#b0357a"/><stop offset="0.857" stop-color="#a02f7d"/><stop offset="0.929" stop-color="#912b80"/><stop offset="1.000" stop-color="#852681"/></linearGradient><linearGradient id="gr112" x1="0" y1="0" x2="1" y2="0"><stop offset="0.000" stop-color="#a9327c"/><stop offset="0.071" stop-color="#b1357a"/><stop offset="0.143" stop-color="#ba3978"/><stop offset="0.214" stop-color="#c53d73"/><stop offset="0.286" stop-color="#cf426f"/><stop offset="0.357" stop-color="#d7466b"/><stop offset="0.429" stop-color="#dc4869"/><stop offset="0.500" stop-color="#dc4869"/><stop offset="0.571" stop-color="#d7466b"/><stop offset="0.643" stop-color="#ce426f"/><stop offset="0.714" stop-color="#c23c74"/><stop offset="0.786" stop-color="#b3367a"/><stop offset="0.857" stop-color="#a3317d"/><stop offset="0.929" stop-color="#942c80"/><stop offset="1.000" stop-color="#872781"/></linearGradient><linearGradient id="gr113" x1="0" y1="0" x2="1" y2="0"><stop offset="0.000" stop-color="#ac337b"/><stop offset="0.071" stop-color="#b4367a"/><stop offset="0.143" stop-color="#be3a76"/><stop offset="0.214" stop-color="#c83f72"/><stop offset="0.286" stop-color="#d2446d"/><stop offset="0.357" stop-color="#da476a"/><stop offset="0.429" stop-color="#df4a68"/><stop offset="0.500" stop-color="#df4b67"/><stop offset="0.571" stop-color="#db4869"/><stop offset="0.643" stop-color="#d2436d"/><stop offset="0.714" stop-color="#c53e73"/><stop offset="0.786" stop-color="#b73779"/><stop offset="0.857" stop-color="#a6327c"/><stop offset="0.929" stop-color="#972d7f"/><stop offset="1.000" stop-color="#8a2881"/></linearGradient><linearGradient id="gr114" x1="0" y1="0" x2="1" y2="0"><stop offset="0.000" stop-color="#af347a"/><stop offset="0.071" stop-color="#b73779"/><stop offset="0.143" stop-color="#c13c75"/><stop offset="0.214" stop-color="#cb4070"/><stop offset="0.286" stop-color="#d6456c"/><stop offset="0.357" stop-color="#de4968"/><stop offset="0.429" stop-color="#e14e66"/><stop offset="0.500" stop-color="#e24e66"/><stop offset="0.571" stop-color="#df4a68"/><stop offset="0.643" stop-color="#d6456c"/><stop offset="0.714" stop-color="#c93f71"/><stop offset="0.786" stop-color="#ba3878"/><stop offset="0.857" stop-color="#aa337b"/><stop offset="0.929" stop-color="#9a2e7e"/><stop offset="1.000" stop-color="#8d2981"/></linearGradient><linearGradient id="gr115" x1="0" y1="0" x2="1" y2="0"><stop offset="0.000" stop-color="#b2357a"/><stop offset="0.071" stop-color="#ba3978"/><stop offset="0.143" stop-color="#c43d73"/><stop offset="0.214" stop-color="#cf426f"/><stop offset="0.286" stop-color="#d9476a"/><stop offset="0.357" stop-color="#e14d67"/><stop offset="0.429" stop-color="#e45265"/><stop offset="0.500" stop-color="#e45265"/><stop offset="0.571" stop-color="#e14e67"/><stop offset="0.643" stop-color="#d9476a"/><stop offset="0.714" stop-color="#cc4170"/><stop offset="0.786" stop-color="#bd3a76"/><stop offset="0.857" stop-color="#ad347b"/><stop offset="0.929" stop-color="#9e2f7e"/><stop offset="1.000" stop-color="#902a80"/></linearGradient><linearGradient id="gr116" x1="0" y1="0" x2="1" y2="0"><stop offset="0.000" stop-color="#b63779"/><stop offset="0.071" stop-color="#be3a76"/><stop offset="0.143" stop-color="#c73f72"/><stop offset="0.214" stop-color="#d2446d"/><stop offset="0.286" stop-color="#dd4968"/><stop offset="0.357" stop-color="#e35166"/><stop offset="0.429" stop-color="#e65664"/><stop offset="0.500" stop-color="#e65664"/><stop offset="0.571" stop-color="#e35165"/><stop offset="0.643" stop-color="#dd4968"/><stop offset="0.714" stop-color="#d0426e"/><stop offset="0.786" stop-color="#c13c75"/><stop offset="0.857" stop-color="#b1357a"/><stop offset="0.929" stop-color="#a1307d"/><stop offset="1.000" stop-color="#932b80"/></linearGradient><linearGradient id="gr117" x1="0" y1="0" x2="1" y2="0"><stop offset="0.000" stop-color="#b93878"/><stop offset="0.071" stop-color="#c13c75"/><stop offset="0.143" stop-color="#cb4070"/><stop offset="0.214" stop-color="#d6456b"/><stop offset="0.286" stop-color="#e04c67"/><stop offset="0.357" stop-color="#e55564"/><stop offset="0.429" stop-color="#e95a63"/><stop offset="0.500" stop-color="#e95a63"/><stop offset="0.571" stop-color="#e65564"/><stop offset="0.643" stop-color="#e04c67"/><stop offset="0.714" stop-color="#d3446d"/><stop offset="0.786" stop-color="#c43d73"/><stop offset="0.857" stop-color="#b43679"/><stop offset="0.929" stop-color="#a4317c"/><stop offset="1.000" stop-color="#972c7f"/></linearGradient><linearGradient id="gr118" x1="0" y1="0" x2="1" y2="0"><stop offset="0.000" stop-color="#bc3977"/><stop offset="0.071" stop-color="#c43d73"/><stop offset="0.143" stop-color="#ce426f"/><stop offset="0.214" stop-color="#da476a"/><stop offset="0.286" stop-color="#e25066"/><stop offset="0.357" stop-color="#e85963"/><stop offset="0.429" stop-color="#eb5e62"/><stop offset="0.500" stop-color="#ec5e61"/><stop offset="0.571" stop-color="#e85963"/><stop offset="0.643" stop-color="#e25066"/><stop offset="0.714" stop-color="#d7466b"/><stop offset="0.786" stop-color="#c83f72"/><stop offset="0.857" stop-color="#b83779"/><stop offset="0.929" stop-color="#a8327c"/><stop offset="1.000" stop-color="#9a2e7e"/></linearGradient><linearGradient id="gr119" x1="0" y1="0" x2="1" y2="0"><stop offset="0.000" stop-color="#bf3b75"/><stop offset="0.071" stop-color="#c73f72"/><stop offset="0.143" stop-color="#d2436d"/><stop offset="0.214" stop-color="#dd4968"/><stop offset="0.286" stop-color="#e55365"/><stop offset="0.357" stop-color="#eb5d62"/><stop offset="0.429" stop-color="#ee6260"/><stop offset="0.500" stop-color="#ee6260"/><stop offset="0.571" stop-color="#eb5d62"/><stop offset="0.643" stop-color="#e55365"/><stop offset="0.714" stop-color="#db4869"/><stop offset="0.786" stop-color="#cb4070"/><stop offset="0.857" stop-color="#bb3977"/><stop offset="0.929" stop-color="#ab337b"/><stop offset="1.000" stop-color="#9d2f7e"/></linearGradient><linearGradient id="gr120" x1="0" y1="0" x2="1" y2="0"><stop offset="0.000" stop-color="#c23c74"/><stop offset="0.071" stop-color="#cb4070"/><stop offset="0.143" stop-color="#d5456c"/><stop offset="0.214" stop-color="#e04c67"/><stop offset="0.286" stop-color="#e75764"/><stop offset="0.357" stop-color="#ed6161"/><stop offset="0.429" stop-color="#f1665f"/><stop offset="0.500" stop-color="#f1665f"/><stop offset="0.571" stop-color="#ee6160"/><stop offset="0.643" stop-color="#e75764"/><stop offset="0.714" stop-color="#de4a68"/><stop offset="0.786" stop-color="#cf426f"/><stop offset="0.857" stop-color="#bf3b76"/><stop offset="0.929" stop-color="#af347a"/><stop offset="1.000" stop-color="#a1307d"/></linearGradient><linearGradient id="gr121" x1="0" y1="0" x2="1" y2="0"><stop offset="0.000" stop-color="#c63e73"/><stop offset="0.071" stop-color="#ce426f"/><stop offset="0.143" stop-color="#d9476a"/><stop offset="0.214" stop-color="#e25066"/><stop offset="0.286" stop-color="#ea5b62"/><stop offset="0.357" stop-color="#f0655f"/><stop offset="0.429" stop-color="#f36a5e"/><stop offset="0.500" stop-color="#f46b5e"/><stop offset="0.571" stop-color="#f0665f"/><stop offset="0.643" stop-color="#ea5b62"/><stop offset="0.714" stop-color="#e14d67"/><stop offset="0.786" stop-color="#d3446d"/><stop offset="0.857" stop-color="#c23c74"/><stop offset="0.929" stop-color="#b3367a"/><stop offset="1.000" stop-color="#a4317c"/></linearGradient><linearGradient id="gr122" x1="0" y1="0" x2="1" y2="0"><stop offset="0.000" stop-color="#c93f71"/><stop offset="0.071" stop-color="#d2436d"/><stop offset="0.143" stop-color="#dd4869"/><stop offset="0.214" stop-color="#e55465"/><stop offset="0.286" stop-color="#ec5f61"/><stop offset="0.357" stop-color="#f2695e"/><stop offset="0.429" stop-color="#f66e5c"/><stop offset="0.500" stop-color="#f66f5c"/><stop offset="0.571" stop-color="#f36a5e"/><stop offset="0.643" stop-color="#ec5f61"/><stop offset="0.714" stop-color="#e35165"/><stop offset="0.786" stop-color="#d6456b"/><stop offset="0.857" stop-color="#c63e73"/><stop offset="0.929" stop-color="#b73779"/><stop offset="1.000" stop-color="#a8327c"/></linearGradient><linearGradient id="gr123" x1="0" y1="0" x2="1" y2="0"><stop offset="0.000" stop-color="#cc4170"/><stop offset="0.071" stop-color="#d5456c"/><stop offset="0.143" stop-color="#e04b67"/><stop offset="0.214" stop-color="#e75863"/><stop offset="0.286" stop-color="#ef6360"/><stop offset="0.357" stop-color="#f56d5d"/><stop offset="0.429" stop-color="#f7735d"/><stop offset="0.500" stop-color="#f8745d"/><stop offset="0.571" stop-color="#f66e5d"/><stop offset="0.643" stop-color="#ef6460"/><stop offset="0.714" stop-color="#e65564"/><stop offset="0.786" stop-color="#da476a"/><stop offset="0.857" stop-color="#c93f71"/><stop offset="0.929" stop-color="#ba3878"/><stop offset="1.000" stop-color="#ac337b"/></linearGradient><linearGradient id="gr124" x1="0" y1="0" x2="1" y2="0"><stop offset="0.000" stop-color="#d0436e"/><stop offset="0.071" stop-color="#d9476a"/><stop offset="0.143" stop-color="#e24f66"/><stop offset="0.214" stop-color="#ea5c62"/><stop offset="0.286" stop-color="#f2685f"/><stop offset="0.357" stop-color="#f7725d"/><stop offset="0.429" stop-color="#f8785f"/><stop offset="0.500" stop-color="#f8795f"/><stop offset="0.571" stop-color="#f7735d"/><stop offset="0.643" stop-color="#f2685f"/><stop offset="0.714" stop-color="#e85963"/><stop offset="0.786" stop-color="#de4968"/><stop offset="0.857" stop-color="#cd416f"/><stop offset="0.929" stop-color="#be3a76"/><stop offset="1.000" stop-color="#af357a"/></linearGradient><linearGradient id="gr125" x1="0" y1="0" x2="1" y2="0"><stop offset="0.000" stop-color="#d3446d"/><stop offset="0.071" stop-color="#dd4869"/><stop offset="0.143" stop-color="#e55365"/><stop offset="0.214" stop-color="#ed6061"/><stop offset="0.286" stop-color="#f46c5d"/><stop offset="0.357" stop-color="#f8775e"/><stop offset="0.429" stop-color="#f97e61"/><stop offset="0.500" stop-color="#f97e61"/><stop offset="0.571" stop-color="#f8785f"/><stop offset="0.643" stop-color="#f46c5d"/><stop offset="0.714" stop-color="#eb5d62"/><stop offset="0.786" stop-color="#e04d67"/><stop offset="0.857" stop-color="#d1436e"/><stop offset="0.929" stop-color="#c13c75"/><stop offset="1.000" stop-color="#b3367a"/></linearGradient><linearGradient id="gr126" x1="0" y1="0" x2="1" y2="0"><stop offset="0.000" stop-color="#d7466b"/><stop offset="0.071" stop-color="#e04b67"/><stop offset="0.143" stop-color="#e75764"/><stop offset="0.214" stop-color="#ef6460"/><stop offset="0.286" stop-color="#f7705c"/><stop offset="0.357" stop-color="#f97c60"/><stop offset="0.429" stop-color="#fa8363"/><stop offset="0.500" stop-color="#fa8463"/><stop offset="0.571" stop-color="#f97d61"/><stop offset="0.643" stop-color="#f7705c"/><stop offset="0.714" stop-color="#ee6260"/><stop offset="0.786" stop-color="#e35166"/><stop offset="0.857" stop-color="#d5456c"/><stop offset="0.929" stop-color="#c53d73"/><stop offset="1.000" stop-color="#b73779"/></linearGradient><linearGradient id="gr127" x1="0" y1="0" x2="1" y2="0"><stop offset="0.000" stop-color="#db4869"/><stop offset="0.071" stop-color="#e24f66"/><stop offset="0.143" stop-color="#ea5b62"/><stop offset="0.214" stop-color="#f2685e"/><stop offset="0.286" stop-color="#f8755e"/><stop offset="0.357" stop-color="#fa8162"/><stop offset="0.429" stop-color="#fb8965"/><stop offset="0.500" stop-color="#fb8965"/><stop offset="0.571" stop-color="#fa8263"/><stop offset="0.643" stop-color="#f8755e"/><stop offset="0.714" stop-color="#f0665f"/><stop offset="0.786" stop-color="#e55564"/><stop offset="0.857" stop-color="#d8466a"/><stop offset="0.929" stop-color="#c83f71"/><stop offset="1.000" stop-color="#bb3977"/></linearGradient><linearGradient id="gr128" x1="0" y1="0" x2="1" y2="0"><stop offset="0.000" stop-color="#de4968"/><stop offset="0.071" stop-color="#e55365"/><stop offset="0.143" stop-color="#ec5f61"/><stop offset="0.214" stop-color="#f46c5d"/><stop offset="0.286" stop-color="#f97a60"/><stop offset="0.357" stop-color="#fa8764"/><stop offset="0.429" stop-color="#fb8e67"/><stop offset="0.500" stop-color="#fc8f67"/><stop offset="0.571" stop-color="#fb8865"/><stop offset="0.643" stop-color="#f97b60"/><stop offset="0.714" stop-color="#f36a5e"/><stop offset="0.786" stop-color="#e85963"/><stop offset="0.857" stop-color="#dc4869"/><stop offset="0.929" stop-color="#cc4170"/><stop offset="1.000" stop-color="#be3a76"/></linearGradient><linearGradient id="gr129" x1="0" y1="0" x2="1" y2="0"><stop offset="0.000" stop-color="#e14d67"/><stop offset="0.071" stop-color="#e75764"/><stop offset="0.143" stop-color="#ef6360"/><stop offset="0.214" stop-color="#f7705c"/><stop offset="0.286" stop-color="#f98062"/><stop offset="0.357" stop-color="#fb8c66"/><stop offset="0.429" stop-color="#fc9469"/><stop offset="0.500" stop-color="#fc9469"/><stop offset="0.571" stop-color="#fb8d67"/><stop offset="0.643" stop-color="#f98062"/><stop offset="0.714" stop-color="#f66e5d"/><stop offset="0.786" stop-color="#eb5d62"/><stop offset="0.857" stop-color="#df4b67"/><stop offset="0.929" stop-color="#d0436e"/><stop offset="1.000" stop-color="#c23c74"/></linearGradient><linearGradient id="gr130" x1="0" y1="0" x2="1" y2="0"><stop offset="0.000" stop-color="#e35166"/><stop offset="0.071" stop-color="#ea5b62"/><stop offset="0.143" stop-color="#f1675f"/><stop offset="0.214" stop-color="#f8765e"/><stop offset="0.286" stop-color="#fa8564"/><stop offset="0.357" stop-color="#fc9268"/><stop offset="0.429" stop-color="#fd996b"/><stop offset="0.500" stop-color="#fd9a6b"/><stop offset="0.571" stop-color="#fc9369"/><stop offset="0.643" stop-color="#fa8564"/><stop offset="0.714" stop-color="#f7735d"/><stop offset="0.786" stop-color="#ed6161"/><stop offset="0.857" stop-color="#e24f66"/><stop offset="0.929" stop-color="#d4446c"/><stop offset="1.000" stop-color="#c63e73"/></linearGradient><linearGradient id="gr131" x1="0" y1="0" x2="1" y2="0"><stop offset="0.000" stop-color="#e65564"/><stop offset="0.071" stop-color="#ec5f61"/><stop offset="0.143" stop-color="#f46b5d"/><stop offset="0.214" stop-color="#f97b60"/><stop offset="0.286" stop-color="#fb8b66"/><stop offset="0.357" stop-color="#fd976a"/><stop offset="0.429" stop-color="#fe9f6d"/><stop offset="0.500" stop-color="#fe9f6d"/><stop offset="0.571" stop-color="#fd986b"/><stop offset="0.643" stop-color="#fb8b66"/><stop offset="0.714" stop-color="#f8785f"/><stop offset="0.786" stop-color="#f0655f"/><stop offset="0.857" stop-color="#e55365"/><stop offset="0.929" stop-color="#d8466b"/><stop offset="1.000" stop-color="#c94071"/></linearGradient><linearGradient id="gr132" x1="0" y1="0" x2="1" y2="0"><stop offset="0.000" stop-color="#e85963"/><stop offset="0.071" stop-color="#ef6360"/><stop offset="0.143" stop-color="#f7705c"/><stop offset="0.214" stop-color="#f98062"/><stop offset="0.286" stop-color="#fc9068"/><stop offset="0.357" stop-color="#fe9d6c"/><stop offset="0.429" stop-color="#fea571"/><stop offset="0.500" stop-color="#fea572"/><stop offset="0.571" stop-color="#fe9e6d"/><stop offset="0.643" stop-color="#fc9068"/><stop offset="0.714" stop-color="#f97e61"/><stop offset="0.786" stop-color="#f3695e"/><stop offset="0.857" stop-color="#e75764"/><stop offset="0.929" stop-color="#dc4869"/><stop offset="1.000" stop-color="#cd416f"/></linearGradient><linearGradient id="gr133" x1="0" y1="0" x2="1" y2="0"><stop offset="0.000" stop-color="#eb5d62"/><stop offset="0.071" stop-color="#f1675f"/><stop offset="0.143" stop-color="#f8755e"/><stop offset="0.214" stop-color="#fa8564"/><stop offset="0.286" stop-color="#fd966a"/><stop offset="0.357" stop-color="#fea370"/><stop offset="0.429" stop-color="#feaa76"/><stop offset="0.500" stop-color="#feab76"/><stop offset="0.571" stop-color="#fea471"/><stop offset="0.643" stop-color="#fd966a"/><stop offset="0.714" stop-color="#fa8363"/><stop offset="0.786" stop-color="#f66e5d"/><stop offset="0.857" stop-color="#ea5c62"/><stop offset="0.929" stop-color="#df4b67"/><stop offset="1.000" stop-color="#d1436e"/></linearGradient><linearGradient id="gr134" x1="0" y1="0" x2="1" y2="0"><stop offset="0.000" stop-color="#ed6161"/><stop offset="0.071" stop-color="#f46c5d"/><stop offset="0.143" stop-color="#f87a60"/><stop offset="0.214" stop-color="#fb8b66"/><stop offset="0.286" stop-color="#fd9b6c"/><stop offset="0.357" stop-color="#fea974"/><stop offset="0.429" stop-color="#feb07a"/><stop offset="0.500" stop-color="#feb17b"/><stop offset="0.571" stop-color="#feaa75"/><stop offset="0.643" stop-color="#fd9c6c"/><stop offset="0.714" stop-color="#fb8865"/><stop offset="0.786" stop-color="#f7735d"/><stop offset="0.857" stop-color="#ed6061"/><stop offset="0.929" stop-color="#e24f66"/><stop offset="1.000" stop-color="#d5456c"/></linearGradient><linearGradient id="gr135" x1="0" y1="0" x2="1" y2="0"><stop offset="0.000" stop-color="#f0655f"/><stop offset="0.071" stop-color="#f7705c"/><stop offset="0.143" stop-color="#f97f62"/><stop offset="0.214" stop-color="#fc9068"/><stop offset="0.286" stop-color="#fea16e"/><stop offset="0.357" stop-color="#feae79"/><stop offset="0.429" stop-color="#feb67f"/><stop offset="0.500" stop-color="#feb77f"/><stop offset="0.571" stop-color="#feb07a"/><stop offset="0.643" stop-color="#fea16f"/><stop offset="0.714" stop-color="#fb8e67"/><stop offset="0.786" stop-color="#f8785f"/><stop offset="0.857" stop-color="#ef6460"/><stop offset="0.929" stop-color="#e45365"/><stop offset="1.000" stop-color="#d9476a"/></linearGradient><linearGradient id="gr136" x1="0" y1="0" x2="1" y2="0"><stop offset="0.000" stop-color="#f3695e"/><stop offset="0.071" stop-color="#f8755e"/><stop offset="0.143" stop-color="#fa8563"/><stop offset="0.214" stop-color="#fd966a"/><stop offset="0.286" stop-color="#fea773"/><stop offset="0.357" stop-color="#feb47d"/><stop offset="0.429" stop-color="#febc84"/><stop offset="0.500" stop-color="#febd84"/><stop offset="0.571" stop-color="#feb67e"/><stop offset="0.643" stop-color="#fea773"/><stop offset="0.714" stop-color="#fc9469"/><stop offset="0.786" stop-color="#f97d61"/><stop offset="0.857" stop-color="#f2685e"/><stop offset="0.929" stop-color="#e75764"/><stop offset="1.000" stop-color="#dd4968"/></linearGradient><linearGradient id="gr137" x1="0" y1="0" x2="1" y2="0"><stop offset="0.000" stop-color="#f56e5d"/><stop offset="0.071" stop-color="#f97a60"/><stop offset="0.143" stop-color="#fb8a65"/><stop offset="0.214" stop-color="#fd9c6c"/><stop offset="0.286" stop-color="#fead77"/><stop offset="0.357" stop-color="#feba82"/><stop offset="0.429" stop-color="#fec388"/><stop offset="0.500" stop-color="#fec389"/><stop offset="0.571" stop-color="#febc83"/><stop offset="0.643" stop-color="#fead78"/><stop offset="0.714" stop-color="#fd996b"/><stop offset="0.786" stop-color="#fa8363"/><stop offset="0.857" stop-color="#f56d5d"/><stop offset="0.929" stop-color="#ea5b62"/><stop offset="1.000" stop-color="#e04d67"/></linearGradient><linearGradient id="gr138" x1="0" y1="0" x2="1" y2="0"><stop offset="0.000" stop-color="#f7725d"/><stop offset="0.071" stop-color="#f98062"/><stop offset="0.143" stop-color="#fc9067"/><stop offset="0.214" stop-color="#fea16f"/><stop offset="0.286" stop-color="#feb37c"/><stop offset="0.357" stop-color="#fec187"/><stop offset="0.429" stop-color="#fec98d"/><stop offset="0.500" stop-color="#fec98e"/><stop offset="0.571" stop-color="#fec288"/><stop offset="0.643" stop-color="#feb37c"/><stop offset="0.714" stop-color="#fe9f6d"/><stop offset="0.786" stop-color="#fb8865"/><stop offset="0.857" stop-color="#f7715d"/><stop offset="0.929" stop-color="#ed6061"/><stop offset="1.000" stop-color="#e35166"/></linearGradient><linearGradient id="gr139" x1="0" y1="0" x2="1" y2="0"><stop offset="0.000" stop-color="#f8775f"/><stop offset="0.071" stop-color="#fa8564"/><stop offset="0.143" stop-color="#fd9569"/><stop offset="0.214" stop-color="#fea773"/><stop offset="0.286" stop-color="#feb981"/><stop offset="0.357" stop-color="#fec78c"/><stop offset="0.429" stop-color="#fecf92"/><stop offset="0.500" stop-color="#fed093"/><stop offset="0.571" stop-color="#fec88d"/><stop offset="0.643" stop-color="#feb981"/><stop offset="0.714" stop-color="#fea571"/><stop offset="0.786" stop-color="#fb8e67"/><stop offset="0.857" stop-color="#f8775e"/><stop offset="0.929" stop-color="#ef6460"/><stop offset="1.000" stop-color="#e65564"/></linearGradient><linearGradient id="gr140" x1="0" y1="0" x2="1" y2="0"><stop offset="0.000" stop-color="#f97d61"/><stop offset="0.071" stop-color="#fb8a66"/><stop offset="0.143" stop-color="#fd9b6b"/><stop offset="0.214" stop-color="#fead78"/><stop offset="0.286" stop-color="#febf85"/><stop offset="0.357" stop-color="#fecd90"/><stop offset="0.429" stop-color="#fed598"/><stop offset="0.500" stop-color="#fed698"/><stop offset="0.571" stop-color="#fece91"/><stop offset="0.643" stop-color="#febf86"/><stop offset="0.714" stop-color="#feab76"/><stop offset="0.786" stop-color="#fc9469"/><stop offset="0.857" stop-color="#f97c60"/><stop offset="0.929" stop-color="#f2695e"/><stop offset="1.000" stop-color="#e85963"/></linearGradient><linearGradient id="gr141" x1="0" y1="0" x2="1" y2="0"><stop offset="0.000" stop-color="#fa8263"/><stop offset="0.071" stop-color="#fc9068"/><stop offset="0.143" stop-color="#fea16e"/><stop offset="0.214" stop-color="#feb37c"/><stop offset="0.286" stop-color="#fec58a"/><stop offset="0.357" stop-color="#fed396"/><stop offset="0.429" stop-color="#fddb9e"/><stop offset="0.500" stop-color="#fddc9e"/><stop offset="0.571" stop-color="#fed497"/><stop offset="0.643" stop-color="#fec58b"/><stop offset="0.714" stop-color="#feb17b"/><stop offset="0.786" stop-color="#fd996b"/><stop offset="0.857" stop-color="#fa8262"/><stop offset="0.929" stop-color="#f56d5d"/><stop offset="1.000" stop-color="#eb5e62"/></linearGradient><linearGradient id="gr142" x1="0" y1="0" x2="1" y2="0"><stop offset="0.000" stop-color="#fb8865"/><stop offset="0.071" stop-color="#fd956a"/><stop offset="0.143" stop-color="#fea673"/><stop offset="0.214" stop-color="#feb981"/><stop offset="0.286" stop-color="#fecb8f"/><stop offset="0.357" stop-color="#fed99c"/><stop offset="0.429" stop-color="#fde1a4"/><stop offset="0.500" stop-color="#fde2a4"/><stop offset="0.571" stop-color="#feda9d"/><stop offset="0.643" stop-color="#fecc8f"/><stop offset="0.714" stop-color="#feb77f"/><stop offset="0.786" stop-color="#fe9f6d"/><stop offset="0.857" stop-color="#fb8865"/><stop offset="0.929" stop-color="#f7725d"/><stop offset="1.000" stop-color="#ee6260"/></linearGradient><linearGradient id="gr143" x1="0" y1="0" x2="1" y2="0"><stop offset="0.000" stop-color="#fb8d67"/><stop offset="0.071" stop-color="#fd9b6c"/><stop offset="0.143" stop-color="#feac77"/><stop offset="0.214" stop-color="#febf86"/><stop offset="0.286" stop-color="#fed194"/><stop offset="0.357" stop-color="#fddfa2"/><stop offset="0.429" stop-color="#fde7aa"/><stop offset="0.500" stop-color="#fde8aa"/><stop offset="0.571" stop-color="#fde1a3"/><stop offset="0.643" stop-color="#fed295"/><stop offset="0.714" stop-color="#febd84"/><stop offset="0.786" stop-color="#fea572"/><stop offset="0.857" stop-color="#fb8d67"/><stop offset="0.929" stop-color="#f8775f"/><stop offset="1.000" stop-color="#f1675f"/></linearGradient><linearGradient id="gr144" x1="0" y1="0" x2="1" y2="0"><stop offset="0.000" stop-color="#fc9369"/><stop offset="0.071" stop-color="#fea16e"/><stop offset="0.143" stop-color="#feb27c"/><stop offset="0.214" stop-color="#fec58b"/><stop offset="0.286" stop-color="#fed79a"/><stop offset="0.357" stop-color="#fde5a8"/><stop offset="0.429" stop-color="#fdeeb0"/><stop offset="0.500" stop-color="#fdeeb1"/><stop offset="0.571" stop-color="#fde7a9"/><stop offset="0.643" stop-color="#fed89b"/><stop offset="0.714" stop-color="#fec389"/><stop offset="0.786" stop-color="#feab76"/><stop offset="0.857" stop-color="#fc9369"/><stop offset="0.929" stop-color="#f97d61"/><stop offset="1.000" stop-color="#f46b5d"/></linearGradient><linearGradient id="gr145" x1="0" y1="0" x2="1" y2="0"><stop offset="0.000" stop-color="#fd986b"/><stop offset="0.071" stop-color="#fea773"/><stop offset="0.143" stop-color="#feb881"/><stop offset="0.214" stop-color="#fecc8f"/><stop offset="0.286" stop-color="#fddda0"/><stop offset="0.357" stop-color="#fdecae"/><stop offset="0.429" stop-color="#fcf4b6"/><stop offset="0.500" stop-color="#fcf4b7"/><stop offset="0.571" stop-color="#fdedaf"/><stop offset="0.643" stop-color="#fddea1"/><stop offset="0.714" stop-color="#fec98e"/><stop offset="0.786" stop-color="#feb17b"/><stop offset="0.857" stop-color="#fd996b"/><stop offset="0.929" stop-color="#fa8363"/><stop offset="1.000" stop-color="#f7705c"/></linearGradient><linearGradient id="mag" x1="0" y1="0" x2="0" y2="1"><stop offset="0.000" stop-color="#fcfdbf"/><stop offset="0.100" stop-color="#fecf92"/><stop offset="0.200" stop-color="#fe9f6d"/><stop offset="0.300" stop-color="#f7705c"/><stop offset="0.400" stop-color="#de4968"/><stop offset="0.500" stop-color="#b73779"/><stop offset="0.600" stop-color="#8c2981"/><stop offset="0.700" stop-color="#641a80"/><stop offset="0.800" stop-color="#3b0f70"/><stop offset="0.900" stop-color="#140e36"/><stop offset="1.000" stop-color="#000004"/></linearGradient><clipPath id="chu"><rect x="502.5" y="202.5" width="178.3" height="76.2"/></clipPath></defs><text x="0.6" y="10.7" font-size="13" fill="#000" text-anchor="start" font-weight="bold" >a</text>
<text x="134.3" y="10.6" font-size="13" fill="#000" text-anchor="start" font-weight="bold" >b</text>
<text x="344.6" y="10.7" font-size="13" fill="#000" text-anchor="start" font-weight="bold" >c</text>
<text x="479.8" y="10.2" font-size="13" fill="#000" text-anchor="start" font-weight="bold" >d</text>
<text x="479.6" y="104" font-size="13" fill="#000" text-anchor="start" font-weight="bold" >e</text>
<text x="-0.2" y="202.3" font-size="13" fill="#000" text-anchor="start" font-weight="bold" >f</text>
<text x="234.7" y="202" font-size="13" fill="#000" text-anchor="start" font-weight="bold" >g</text>
<text x="468.4" y="202.6" font-size="13" fill="#000" text-anchor="start" font-weight="bold" >h</text>
<path d="M41.3 31.9 H62 V39.4 H41.3 Z" fill="#7a3e9e" stroke="none" stroke-width="1" />
<path d="M46.4 40 L61.8 31.1 H72.8 V40 Z" fill="#2b2b2b" stroke="none" stroke-width="1" />
<path d="M72.3 32.6 H74.2 Q75 35.3 74.2 38.4 H72.3 Z" fill="#555" stroke="none" stroke-width="1" />
<text x="46.4" y="49.6" font-size="8.35" fill="#2a2a2a" text-anchor="start" font-weight="normal" >Laser</text>
<rect x="81.5" y="29.1" width="21.6" height="13.6" fill="url(#objg)" />
<rect x="86.2" y="42.7" width="12.4" height="8" fill="url(#bandg)" />
<rect x="86.8" y="50.7" width="11.2" height="15" fill="url(#tubeg)" />
<rect x="86.8" y="59.7" width="11.2" height="6" fill="url(#tubefade)" />
<path d="M69.1 81.6 L95 76.4 L118.7 83.3 L89.8 91 Z" fill="#eef5fb" stroke="#8ccbea" stroke-width="0.9" />
<path d="M69.1 81.6 L89.8 91 L118.7 83.3 L118.7 84.3 L89.8 92 L69.1 82.6 Z" fill="#9fd3ee" stroke="none" stroke-width="1" />
<path d="M82 80.5 L92 78.6 M86 82.6 L100 80.4 M97 82 L104 83.5" fill="none" stroke="#b0b0b0" stroke-width="1" />
<polyline points="74.4,35.3 91.6,35.3 91.6,83" fill="none" stroke="#e030d8" stroke-width="1.2" />
<path d="M89.6 67.8 L93.6 67.8 L91.6 72.8 Z" fill="#e030d8" stroke="none" stroke-width="1" />
<line x1="94.1" y1="31.5" x2="94.1" y2="83.5" stroke="#1aa6f0" stroke-width="1.2" />
<path d="M92.1 65.2 L96.1 65.2 L94.1 60.2 Z" fill="#1aa6f0" stroke="none" stroke-width="1" />
<ellipse cx="92.9" cy="83.3" rx="2.5" ry="1.4" fill="#1aa0f0" opacity="0.95"/>
<text x="59.6" y="77.1" font-size="8" fill="#2a2a2a" text-anchor="start" font-weight="normal" >LED</text>
<text x="26.6" y="93.9" font-size="8.5" fill="#2a2a2a" text-anchor="start" font-weight="normal" >PL set-up</text>
<line x1="25.5" y1="98.7" x2="119.6" y2="98.7" stroke="#555" stroke-width="1.1" />
<text x="26.6" y="110.5" font-size="8.5" fill="#2a2a2a" text-anchor="start" font-weight="normal" >EL set-up</text>
<rect x="79.8" y="105.9" width="21.3" height="13.5" fill="url(#objg)" />
<rect x="84.2" y="119.4" width="12.7" height="8.2" fill="url(#bandg)" />
<rect x="84.8" y="127.6" width="11.2" height="15.7" fill="url(#tubeg)" />
<rect x="84.8" y="137.3" width="11.2" height="6" fill="url(#tubefade)" />
<path d="M66 156.6 L86 151.8 L114.3 158.7 L87.4 165.8 Z" fill="#eef5fb" stroke="#8ccbea" stroke-width="0.9" />
<path d="M66 156.6 L87.4 165.8 L114.3 158.7 L114.3 159.8 L87.4 167 L66 157.7 Z" fill="#9fd3ee" stroke="none" stroke-width="1" />
<path d="M81.5 158.2 L91 155.9 L98.5 158.3 L89 160.8 Z" fill="#18a0f5" stroke="none" stroke-width="1" />
<line x1="90.3" y1="107.9" x2="90.3" y2="158.3" stroke="#1aa6f0" stroke-width="1.2" />
<path d="M88.3 138.9 L92.3 138.9 L90.3 133.9 Z" fill="#1aa6f0" stroke="none" stroke-width="1" />
<path d="M74.5 152.4 L79.5 151.6 L81.8 153.6 L76.5 154.9 Z" fill="#555" stroke="none" stroke-width="1" />
<path d="M72.5 162.2 L77.5 161.2 L79.6 163.3 L74.4 164.8 Z" fill="#444" stroke="none" stroke-width="1" />
<path d="M54.5 155.3 C62 154.2, 68 152.8, 75 153.6" fill="none" stroke="#333" stroke-width="0.7" />
<path d="M51.4 164.6 C58 166.6, 65 165.8, 73 164.4" fill="none" stroke="#333" stroke-width="0.7" />
<text x="28.6" y="152.3" font-size="8.6" fill="#2a2a2a" text-anchor="start" font-weight="normal" >Source</text>
<text x="30.4" y="162.2" font-size="8.6" fill="#2a2a2a" text-anchor="start" font-weight="normal" >meter</text>
<g clip-path="url(#cb)"><g filter="url(#fb)"><rect x="122.0" y="4.199999999999999" width="188.0" height="187.4" fill="#3d3d3d"/><rect x="122.0" y="4.199999999999999" width="162" height="15.8" fill="#0f0f0f"/><ellipse cx="156" cy="30" rx="14" ry="7" fill="#525252" transform="rotate(0 156 30)"/><ellipse cx="182" cy="38" rx="12" ry="6" fill="#4c4c4c" transform="rotate(0 182 38)"/><ellipse cx="228" cy="40" rx="16" ry="8" fill="#4c4c4c" transform="rotate(0 228 40)"/><ellipse cx="152" cy="80" rx="12" ry="8" fill="#4c4c4c" transform="rotate(0 152 80)"/><ellipse cx="172" cy="97" rx="12" ry="10" fill="#666666" transform="rotate(0 172 97)"/><ellipse cx="200" cy="72" rx="10" ry="13" fill="#666666" transform="rotate(0 200 72)"/><ellipse cx="268" cy="62" rx="12" ry="7" fill="#474747" transform="rotate(0 268 62)"/><ellipse cx="178" cy="106" rx="18" ry="6" fill="#575757" transform="rotate(0 178 106)"/><ellipse cx="242" cy="146" rx="20" ry="8" fill="#5c5c5c" transform="rotate(0 242 146)"/><ellipse cx="292" cy="150" rx="7" ry="5" fill="#6b6b6b" transform="rotate(0 292 150)"/><ellipse cx="244" cy="163" rx="7" ry="6" fill="#808080" transform="rotate(0 244 163)"/><ellipse cx="262" cy="170" rx="10" ry="5" fill="#525252" transform="rotate(0 262 170)"/><ellipse cx="148" cy="165" rx="12" ry="10" fill="#262626" transform="rotate(0 148 165)"/><ellipse cx="165" cy="155" rx="12" ry="8" fill="#262626" transform="rotate(0 165 155)"/><ellipse cx="145" cy="135" rx="8" ry="12" fill="#292929" transform="rotate(0 145 135)"/><path d="M134 95 L142 93 L149 100 L147 108 L150 114 L143 117 L134 114 Z" fill="#949494"/><ellipse cx="138" cy="92" rx="6" ry="4" fill="#808080" transform="rotate(0 138 92)"/><path d="M252 34 L262 30 L272 32 L282 27 L290 21 L299 17" fill="none" stroke="#9e9e9e" stroke-width="7" stroke-linecap="round" stroke-linejoin="round"/><path d="M255 33 L264 31 L273 32 L282 27 L290 21 L299 17" fill="none" stroke="#bfbfbf" stroke-width="3.5" stroke-linecap="round" stroke-linejoin="round"/><ellipse cx="286" cy="36" rx="10" ry="8" fill="#808080" transform="rotate(0 286 36)"/><path d="M283 29 L287 37 L292 45 L295 52" fill="none" stroke="#9e9e9e" stroke-width="5" stroke-linecap="round" stroke-linejoin="round"/><path d="M270 34 L276 40 L282 42" fill="none" stroke="#8c8c8c" stroke-width="4" stroke-linecap="round" stroke-linejoin="round"/><path d="M262 31 L258 40" fill="none" stroke="#808080" stroke-width="3" stroke-linecap="round" stroke-linejoin="round"/><path d="M209 52 L214 63 L219 71 L226 78 L231 88 L236 100 L245 112 L255 124 L262 133" fill="none" stroke="#8c8c8c" stroke-width="13" stroke-linecap="round" stroke-linejoin="round"/><path d="M229 74 L245 78 L257 90" fill="none" stroke="#808080" stroke-width="10" stroke-linecap="round" stroke-linejoin="round"/><path d="M236 106 L216 117 L206 127 L198 137 L193 150 L196 161" fill="none" stroke="#8c8c8c" stroke-width="14" stroke-linecap="round" stroke-linejoin="round"/><path d="M196 140 L183 143 L172 144" fill="none" stroke="#9e9e9e" stroke-width="9" stroke-linecap="round" stroke-linejoin="round"/><ellipse cx="244" cy="100" rx="14" ry="16" fill="#999999" transform="rotate(0 244 100)"/><path d="M210 55 L215 64 L221 73 L228 82 L233 94" fill="none" stroke="#ebebeb" stroke-width="7" stroke-linecap="round" stroke-linejoin="round"/><ellipse cx="243" cy="106" rx="12" ry="13" fill="#ffffff" transform="rotate(0 243 106)"/><ellipse cx="240" cy="110" rx="9" ry="12" fill="#ffffff" transform="rotate(0 240 110)"/><ellipse cx="229" cy="96" rx="5" ry="9" fill="#ebebeb" transform="rotate(0 229 96)"/><path d="M238 108 L222 115 L210 125 L202 135 L198 146" fill="none" stroke="#ffffff" stroke-width="12" stroke-linecap="round" stroke-linejoin="round"/><ellipse cx="204" cy="135.5" rx="13.5" ry="13" fill="#ffffff" transform="rotate(-30 204 135.5)"/><ellipse cx="205" cy="75" rx="10" ry="16" fill="#6b6b6b" transform="rotate(0 205 75)"/><path d="M245 115 L257 127" fill="none" stroke="#d9d9d9" stroke-width="9" stroke-linecap="round" stroke-linejoin="round"/><path d="M194 148 L196 158" fill="none" stroke="#cccccc" stroke-width="5" stroke-linecap="round" stroke-linejoin="round"/></g></g>
<text x="184.6" y="29.4" font-size="9.1" fill="#f4f4f4" text-anchor="start" font-weight="normal" >PL before turn-on</text>
<text x="140.3" y="47.3" font-size="9" fill="#f4f4f4" text-anchor="start" font-weight="normal" >Outside pixel</text>
<line x1="134" y1="50.6" x2="298" y2="50.6" stroke="#fff" stroke-width="1" stroke-dasharray="2.2 1.3"/>
<text x="141" y="60.8" font-size="9" fill="#f4f4f4" text-anchor="start" font-weight="normal" >Inside pixel</text>
<circle cx="201.5" cy="82" r="3.6" fill="none" stroke="#fff" stroke-width="1.4"/>
<rect x="232.5" y="71.4" width="25.2" height="49.6" fill="none" stroke="#fff" stroke-width="1.3" stroke-dasharray="4 2.2"/>
<text x="138.7" y="164.4" font-size="9" fill="#f4f4f4" text-anchor="start" font-weight="normal" >20 µm</text>
<rect x="141.8" y="169.1" width="20.1" height="2.9" fill="#fff" />
<text x="260.3" y="174.3" font-size="9.3" fill="#f4f4f4" text-anchor="start" font-weight="normal" >480 nm</text>
<rect x="304" y="18.3" width="8.4" height="157.7" fill="url(#vir)" stroke="#444" stroke-width="0.5"/>
<line x1="312.4" y1="18.3" x2="314" y2="18.3" stroke="#444" stroke-width="0.6" />
<line x1="312.4" y1="176" x2="314" y2="176" stroke="#444" stroke-width="0.6" />
<text x="315.4" y="20.9" font-size="7.4" fill="#2a2a2a" text-anchor="start" font-weight="normal" >1</text>
<text x="315.6" y="178.5" font-size="7.4" fill="#2a2a2a" text-anchor="start" font-weight="normal" >0</text>
<text x="0" y="0" font-size="8.8" fill="#2a2a2a" text-anchor="middle" transform="translate(323 97.6) rotate(90)" >Normalized PL counts</text>
<g clip-path="url(#cc1)"><g filter="url(#fc1)"><rect x="333.2" y="5.199999999999999" width="101.5" height="101.2" fill="#5d5d5d"/><path d="M347 52 L352 55 L357 54 L366 56 L377 59" fill="none" stroke="#999999" stroke-width="2" stroke-linecap="round" stroke-linejoin="round"/><path d="M345 46 L352 47 L356 54 L354 62 L346 63 Z" fill="#adadad" /><path d="M402 27 L408 24 L414 26 L420 21" fill="none" stroke="#949494" stroke-width="3" stroke-linecap="round" stroke-linejoin="round"/><path d="M406 49 L411 48 L416 51" fill="none" stroke="#949494" stroke-width="2" stroke-linecap="round" stroke-linejoin="round"/><path d="M392 64 L396 76 L394 86" fill="none" stroke="#8c8c8c" stroke-width="1.5" stroke-linecap="round" stroke-linejoin="round"/><path d="M380 34 L383 41 L387 49 L391 55 L397 59 L402 62 L405 68" fill="none" stroke="#b8b8b8" stroke-width="6.5" stroke-linecap="round" stroke-linejoin="round"/><path d="M390 58 L384 63 L378 69 L371 77 L368 82" fill="none" stroke="#bdbdbd" stroke-width="8" stroke-linecap="round" stroke-linejoin="round"/><ellipse cx="377" cy="78" rx="8" ry="7" fill="#c2c2c2"/><ellipse cx="393" cy="59" rx="6.5" ry="6" fill="#c2c2c2"/><path d="M398 63 L402 70" fill="none" stroke="#b8b8b8" stroke-width="6" stroke-linecap="round" stroke-linejoin="round"/><path d="M380 35 L383 42 L387 50 L391 56 L397 60 L402 65" fill="none" stroke="#e0e0e0" stroke-width="3" stroke-linecap="round" stroke-linejoin="round"/><path d="M390 58 L384 64 L378 70 L372 76" fill="none" stroke="#e6e6e6" stroke-width="4" stroke-linecap="round" stroke-linejoin="round"/><ellipse cx="377" cy="78" rx="5.5" ry="5" fill="#ebebeb"/><ellipse cx="392" cy="58" rx="4" ry="4" fill="#ebebeb"/><ellipse cx="373" cy="83" rx="3.5" ry="2.5" fill="#e6e6e6"/><path d="M383 42 L378 46" fill="none" stroke="#b8b8b8" stroke-width="2.5" stroke-linecap="round" stroke-linejoin="round"/><path d="M386 47 L392 44" fill="none" stroke="#b8b8b8" stroke-width="2.5" stroke-linecap="round" stroke-linejoin="round"/><path d="M402 62 L409 60" fill="none" stroke="#bdbdbd" stroke-width="3" stroke-linecap="round" stroke-linejoin="round"/><path d="M404 68 L410 73" fill="none" stroke="#b8b8b8" stroke-width="3" stroke-linecap="round" stroke-linejoin="round"/><path d="M380 66 L375 61" fill="none" stroke="#b2b2b2" stroke-width="2.5" stroke-linecap="round" stroke-linejoin="round"/><path d="M372 80 L365 85" fill="none" stroke="#c2c2c2" stroke-width="3" stroke-linecap="round" stroke-linejoin="round"/><path d="M378 84 L381 89" fill="none" stroke="#bdbdbd" stroke-width="3" stroke-linecap="round" stroke-linejoin="round"/><path d="M396 52 L399 47" fill="none" stroke="#b2b2b2" stroke-width="2" stroke-linecap="round" stroke-linejoin="round"/><path d="M367 76 L362 74" fill="none" stroke="#b2b2b2" stroke-width="2.5" stroke-linecap="round" stroke-linejoin="round"/></g></g>
<rect x="345.2" y="17.2" width="77.5" height="77.2" fill="none" stroke="#6a6a6a" stroke-width="0.8"/>
<text x="348.4" y="90.8" font-size="9" fill="#111" text-anchor="start" font-weight="normal" >0 min</text>
<g clip-path="url(#cc2)"><g filter="url(#fc2)"><rect x="333.2" y="88.2" width="101.5" height="101.2" fill="#cccccc"/><ellipse cx="350" cy="140" rx="12" ry="30" fill="#d6d6d6"/><ellipse cx="395" cy="165" rx="22" ry="14" fill="#bdbdbd"/><ellipse cx="385" cy="140" rx="14" ry="18" fill="#b8b8b8"/><ellipse cx="415" cy="140" rx="8" ry="20" fill="#c7c7c7"/><rect x="333.2" y="88.2" width="101.5" height="29.39999999999999" fill="#6e6e6e"/><path d="M404 106 L410 104 L416 108 L420 104" fill="none" stroke="#9e9e9e" stroke-width="2.5" stroke-linecap="round" stroke-linejoin="round"/><path d="M348.5 136 L349 144" fill="none" stroke="#141414" stroke-width="3.5" stroke-linecap="round" stroke-linejoin="round"/><path d="M381 119 L385 127 L388 133 L389 138 L392 140 L400 141 L405 143" fill="none" stroke="#666666" stroke-width="5" stroke-linecap="round" stroke-linejoin="round"/><path d="M389 140 L382 148 L376 155 L368 159" fill="none" stroke="#666666" stroke-width="6" stroke-linecap="round" stroke-linejoin="round"/><path d="M399 144 L399 152" fill="none" stroke="#737373" stroke-width="5" stroke-linecap="round" stroke-linejoin="round"/><ellipse cx="377" cy="161" rx="9" ry="8" fill="#666666"/><path d="M381 119.5 L385 127 L388 133 L389 138 L392 140 L400 141 L404.5 143" fill="none" stroke="#242424" stroke-width="2.4" stroke-linecap="round" stroke-linejoin="round"/><path d="M389 140 L382 148 L376 155 L368 159" fill="none" stroke="#141414" stroke-width="3.2" stroke-linecap="round" stroke-linejoin="round"/><path d="M398 143 L399 152" fill="none" stroke="#242424" stroke-width="2.4" stroke-linecap="round" stroke-linejoin="round"/><ellipse cx="377.5" cy="160" rx="5.5" ry="6" fill="#0d0d0d"/></g></g>
<rect x="345.2" y="100.2" width="77.5" height="77.2" fill="none" stroke="#6a6a6a" stroke-width="0.8"/>
<text x="348.4" y="109.6" font-size="9" fill="#111" text-anchor="start" font-weight="normal" >10 min</text>
<rect x="428.7" y="17.4" width="8.2" height="158.3" fill="url(#spec)" stroke="#444" stroke-width="0.5"/>
<line x1="436.9" y1="17.4" x2="438.8" y2="17.4" stroke="#444" stroke-width="0.6" />
<line x1="436.9" y1="96.55" x2="438.8" y2="96.55" stroke="#444" stroke-width="0.6" />
<line x1="436.9" y1="175.7" x2="438.8" y2="175.7" stroke="#444" stroke-width="0.6" />
<text x="443" y="20.3" font-size="7.4" fill="#2a2a2a" text-anchor="start" font-weight="normal" >490</text>
<text x="443" y="99.4" font-size="7.4" fill="#2a2a2a" text-anchor="start" font-weight="normal" >489</text>
<text x="443" y="178.5" font-size="7.4" fill="#2a2a2a" text-anchor="start" font-weight="normal" >488</text>
<text x="0" y="0" font-size="8.8" fill="#2a2a2a" text-anchor="middle" transform="translate(464.3 96.5) rotate(90)" >PL peak wavelength (nm)</text>
<g clip-path="url(#cde00)"><g filter="url(#fd)"><rect x="479" y="4" width="62" height="103" fill="#9c9c9c"/><ellipse cx="510" cy="25" rx="22" ry="12" fill="#9e9e9e" transform="rotate(0 510 25)"/><ellipse cx="497" cy="62" rx="10" ry="8" fill="#5c5c5c" transform="rotate(0 497 62)"/><ellipse cx="519" cy="49" rx="8" ry="6" fill="#737373" transform="rotate(0 519 49)"/><path d="M500 62 L515 60 L530 66 L530 80 L515 78 L503 74 Z" fill="#4c4c4c"/><ellipse cx="510" cy="88" rx="20" ry="7" fill="#858585" transform="rotate(0 510 88)"/></g></g>
<g clip-path="url(#cde01)"><g filter="url(#fd)"><rect x="517" y="4" width="64" height="103" fill="#949494"/><ellipse cx="557" cy="26" rx="14" ry="13" fill="#b8b8b8" transform="rotate(0 557 26)"/><ellipse cx="536" cy="26" rx="8" ry="12" fill="#757575" transform="rotate(0 536 26)"/><path d="M529 40 L540 42 L552 52 L562 64 L568 72 L560 78 L548 70 L536 62 L529 58 Z" fill="#474747"/><ellipse cx="557" cy="84" rx="13" ry="12" fill="#949494" transform="rotate(0 557 84)"/><ellipse cx="536" cy="86" rx="8" ry="8" fill="#707070" transform="rotate(0 536 86)"/></g></g>
<g clip-path="url(#cde02)"><g filter="url(#fd)"><rect x="557" y="4" width="64" height="103" fill="#8f8f8f"/><ellipse cx="574" cy="26" rx="7" ry="10" fill="#575757" transform="rotate(0 574 26)"/><ellipse cx="596" cy="31" rx="15" ry="15" fill="#a8a8a8" transform="rotate(0 596 31)"/><path d="M569 38 L585 42 L598 54 L600 70 L590 78 L569 76 Z" fill="#454545"/><ellipse cx="602" cy="70" rx="8" ry="16" fill="#8f8f8f" transform="rotate(0 602 70)"/><ellipse cx="580" cy="87" rx="12" ry="8" fill="#6b6b6b" transform="rotate(0 580 87)"/></g></g>
<g clip-path="url(#cde03)"><g filter="url(#fd)"><rect x="597" y="4" width="63" height="103" fill="#8f8f8f"/><ellipse cx="618" cy="26" rx="10" ry="11" fill="#525252" transform="rotate(0 618 26)"/><ellipse cx="638" cy="41" rx="11" ry="15" fill="#9e9e9e" transform="rotate(0 638 41)"/><path d="M609 46 L622 50 L633 60 L632 78 L620 84 L609 80 Z" fill="#454545"/><ellipse cx="640" cy="79" rx="9" ry="15" fill="#858585" transform="rotate(0 640 79)"/></g></g>
<g clip-path="url(#cde10)"><g filter="url(#fe)"><rect x="479" y="88" width="62" height="102" fill="#a3a3a3"/><ellipse cx="498" cy="107" rx="7" ry="6" fill="#e6e6e6" transform="rotate(0 498 107)"/><ellipse cx="518" cy="116" rx="10" ry="11" fill="#dbdbdb" transform="rotate(0 518 116)"/><ellipse cx="494" cy="132" rx="5" ry="5" fill="#525252" transform="rotate(0 494 132)"/><path d="M490 138 L500 136 L512 140 L522 146 L516 152 L510 160 L503 163 L498 155 L490 152 Z" fill="#1a1a1a"/><ellipse cx="522" cy="145" rx="5" ry="4" fill="#737373" transform="rotate(0 522 145)"/><ellipse cx="495" cy="162" rx="6" ry="9" fill="#d1d1d1" transform="rotate(0 495 162)"/><ellipse cx="524" cy="160" rx="6" ry="10" fill="#cccccc" transform="rotate(0 524 160)"/><path d="M503 162 L516 160 L518 178 L503 178 Z" fill="#4c4c4c"/></g></g>
<g clip-path="url(#cde11)"><g filter="url(#fe)"><rect x="517" y="88" width="64" height="102" fill="#999999"/><ellipse cx="560" cy="110" rx="11" ry="10" fill="#e6e6e6" transform="rotate(0 560 110)"/><ellipse cx="536" cy="110" rx="7" ry="9" fill="#808080" transform="rotate(0 536 110)"/><ellipse cx="540" cy="126" rx="11" ry="6" fill="#575757" transform="rotate(0 540 126)"/><ellipse cx="561" cy="131" rx="8" ry="10" fill="#d1d1d1" transform="rotate(0 561 131)"/><path d="M529 132 L540 134 L550 142 L558 151 L556 159 L546 160 L536 155 L529 150 Z" fill="#1a1a1a"/><ellipse cx="537" cy="169" rx="6" ry="9" fill="#858585" transform="rotate(0 537 169)"/><ellipse cx="559" cy="162" rx="10" ry="11" fill="#c7c7c7" transform="rotate(0 559 162)"/></g></g>
<g clip-path="url(#cde12)"><g filter="url(#fe)"><rect x="557" y="88" width="64" height="102" fill="#999999"/><ellipse cx="596" cy="107" rx="15" ry="8" fill="#e0e0e0" transform="rotate(0 596 107)"/><ellipse cx="575" cy="106" rx="5" ry="6" fill="#737373" transform="rotate(0 575 106)"/><path d="M569 116 L590 116 L597 122 L596 129 L569 129 Z" fill="#4c4c4c"/><ellipse cx="602" cy="126" rx="8" ry="11" fill="#d1d1d1" transform="rotate(0 602 126)"/><path d="M569 130 L590 130 L598 138 L598 150 L594 160 L580 161 L569 160 Z" fill="#1a1a1a"/><ellipse cx="604" cy="154" rx="6" ry="8" fill="#c7c7c7" transform="rotate(0 604 154)"/><ellipse cx="581" cy="171" rx="12" ry="8" fill="#525252" transform="rotate(0 581 171)"/><ellipse cx="601" cy="166" rx="7" ry="6" fill="#a8a8a8" transform="rotate(0 601 166)"/></g></g>
<g clip-path="url(#cde13)"><g filter="url(#fe)"><rect x="597" y="88" width="63" height="102" fill="#999999"/><ellipse cx="633" cy="106" rx="15" ry="7" fill="#e0e0e0" transform="rotate(0 633 106)"/><ellipse cx="613" cy="106" rx="4" ry="6" fill="#737373" transform="rotate(0 613 106)"/><path d="M609 113 L622 114 L629 124 L628 138 L609 138 Z" fill="#333333"/><path d="M609 137 L628 137 L634 148 L636 162 L628 167 L609 167 Z" fill="#1a1a1a"/><ellipse cx="639" cy="124" rx="9" ry="12" fill="#d1d1d1" transform="rotate(0 639 124)"/><ellipse cx="641" cy="157" rx="7" ry="10" fill="#c7c7c7" transform="rotate(0 641 157)"/><ellipse cx="619" cy="174" rx="10" ry="5" fill="#5c5c5c" transform="rotate(0 619 174)"/></g></g>
<rect x="490.25" y="15.45" width="158.2" height="79.5" rx="1.5" fill="none" stroke="#f06b6b" stroke-width="2.5"/>
<rect x="489.4" y="100.2" width="159.1" height="77.7" rx="1.5" fill="none" stroke="#26a2c9" stroke-width="2.4"/>
<text x="560.6" y="27" font-size="8.2" fill="#f2f2f2" text-anchor="start" font-weight="normal" >Raw</text>
<rect x="627.1" y="21.1" width="15.7" height="2.3" fill="#fff" />
<text x="621.9" y="32.8" font-size="8.4" fill="#f2f2f2" text-anchor="start" font-weight="normal" >10 µm</text>
<text x="504.3" y="91" font-size="8.8" fill="#f2f2f2" text-anchor="start" font-weight="normal" >0 min</text>
<text x="504.3" y="174.7" font-size="8.8" fill="#f2f2f2" text-anchor="start" font-weight="normal" >0 min</text>
<text x="543.5" y="91" font-size="8.8" fill="#f2f2f2" text-anchor="start" font-weight="normal" >1 min</text>
<text x="543.5" y="174.7" font-size="8.8" fill="#f2f2f2" text-anchor="start" font-weight="normal" >1 min</text>
<text x="583.4" y="91" font-size="8.8" fill="#f2f2f2" text-anchor="start" font-weight="normal" >4 min</text>
<text x="583.4" y="174.7" font-size="8.8" fill="#f2f2f2" text-anchor="start" font-weight="normal" >4 min</text>
<text x="618.4" y="91" font-size="8.8" fill="#f2f2f2" text-anchor="start" font-weight="normal" >10 min</text>
<text x="618.4" y="174.7" font-size="8.8" fill="#f2f2f2" text-anchor="start" font-weight="normal" >10 min</text>
<text x="551.5" y="111" font-size="8.6" fill="#f2f2f2" text-anchor="start" font-weight="normal" >Proposed</text>
<rect x="655" y="18.3" width="8.4" height="158.3" fill="url(#vir)" stroke="#444" stroke-width="0.5"/>
<line x1="663.4" y1="18.3" x2="665" y2="18.3" stroke="#444" stroke-width="0.6" />
<line x1="663.4" y1="176.6" x2="665" y2="176.6" stroke="#444" stroke-width="0.6" />
<text x="667" y="21.5" font-size="7.4" fill="#2a2a2a" text-anchor="start" font-weight="normal" >1</text>
<text x="667.6" y="179.1" font-size="7.4" fill="#2a2a2a" text-anchor="start" font-weight="normal" >0</text>
<text x="0" y="0" font-size="8.8" fill="#2a2a2a" text-anchor="middle" transform="translate(673.8 97.8) rotate(90)" >Normalized EL counts</text>
<rect x="29.3" y="202.5" width="7.17" height="3.98" fill="#140e36" shape-rendering="crispEdges"/>
<rect x="35.97" y="202.5" width="7.17" height="3.98" fill="#641a80" shape-rendering="crispEdges"/>
<rect x="42.65" y="202.5" width="7.17" height="3.98" fill="#641a80" shape-rendering="crispEdges"/>
<rect x="49.32" y="202.5" width="7.17" height="3.98" fill="#782280" shape-rendering="crispEdges"/>
<rect x="55.99" y="202.5" width="7.17" height="3.98" fill="#b73779" shape-rendering="crispEdges"/>
<rect x="62.66" y="202.5" width="7.17" height="3.98" fill="#a2307d" shape-rendering="crispEdges"/>
<rect x="69.34" y="202.5" width="7.17" height="3.98" fill="#280e53" shape-rendering="crispEdges"/>
<rect x="76.01" y="202.5" width="7.17" height="3.98" fill="#8c2981" shape-rendering="crispEdges"/>
<rect x="82.68" y="202.5" width="7.17" height="3.98" fill="#641a80" shape-rendering="crispEdges"/>
<rect x="89.35" y="202.5" width="7.17" height="3.98" fill="#501478" shape-rendering="crispEdges"/>
<rect x="96.03" y="202.5" width="7.17" height="3.98" fill="#782280" shape-rendering="crispEdges"/>
<rect x="29.3" y="205.98" width="7.17" height="3.98" fill="#140e36" shape-rendering="crispEdges"/>
<rect x="35.97" y="205.98" width="7.17" height="3.98" fill="#641a80" shape-rendering="crispEdges"/>
<rect x="42.65" y="205.98" width="7.17" height="3.98" fill="#501478" shape-rendering="crispEdges"/>
<rect x="49.32" y="205.98" width="7.17" height="3.98" fill="#641a80" shape-rendering="crispEdges"/>
<rect x="55.99" y="205.98" width="7.17" height="3.98" fill="#a2307d" shape-rendering="crispEdges"/>
<rect x="62.66" y="205.98" width="7.17" height="3.98" fill="#a2307d" shape-rendering="crispEdges"/>
<rect x="69.34" y="205.98" width="7.17" height="3.98" fill="#782280" shape-rendering="crispEdges"/>
<rect x="76.01" y="205.98" width="7.17" height="3.98" fill="#8c2981" shape-rendering="crispEdges"/>
<rect x="82.68" y="205.98" width="7.17" height="3.98" fill="#8c2981" shape-rendering="crispEdges"/>
<rect x="89.35" y="205.98" width="7.17" height="3.98" fill="#782280" shape-rendering="crispEdges"/>
<rect x="96.03" y="205.98" width="7.17" height="3.98" fill="#782280" shape-rendering="crispEdges"/>
<rect x="29.3" y="209.45" width="7.17" height="3.98" fill="#280e53" shape-rendering="crispEdges"/>
<rect x="35.97" y="209.45" width="7.17" height="3.98" fill="#8c2981" shape-rendering="crispEdges"/>
<rect x="42.65" y="209.45" width="7.17" height="3.98" fill="#641a80" shape-rendering="crispEdges"/>
<rect x="49.32" y="209.45" width="7.17" height="3.98" fill="#782280" shape-rendering="crispEdges"/>
<rect x="55.99" y="209.45" width="7.17" height="3.98" fill="#b73779" shape-rendering="crispEdges"/>
<rect x="62.66" y="209.45" width="7.17" height="3.98" fill="#a2307d" shape-rendering="crispEdges"/>
<rect x="69.34" y="209.45" width="7.17" height="3.98" fill="#641a80" shape-rendering="crispEdges"/>
<rect x="76.01" y="209.45" width="7.17" height="3.98" fill="#8c2981" shape-rendering="crispEdges"/>
<rect x="82.68" y="209.45" width="7.17" height="3.98" fill="#782280" shape-rendering="crispEdges"/>
<rect x="89.35" y="209.45" width="7.17" height="3.98" fill="#782280" shape-rendering="crispEdges"/>
<rect x="96.03" y="209.45" width="7.17" height="3.98" fill="#641a80" shape-rendering="crispEdges"/>
<rect x="29.3" y="212.93" width="7.17" height="3.98" fill="#0a071d" shape-rendering="crispEdges"/>
<rect x="35.97" y="212.93" width="7.17" height="3.98" fill="#782280" shape-rendering="crispEdges"/>
<rect x="42.65" y="212.93" width="7.17" height="3.98" fill="#782280" shape-rendering="crispEdges"/>
<rect x="49.32" y="212.93" width="7.17" height="3.98" fill="#782280" shape-rendering="crispEdges"/>
<rect x="55.99" y="212.93" width="7.17" height="3.98" fill="#3b0f70" shape-rendering="crispEdges"/>
<rect x="62.66" y="212.93" width="7.17" height="3.98" fill="#a2307d" shape-rendering="crispEdges"/>
<rect x="69.34" y="212.93" width="7.17" height="3.98" fill="#641a80" shape-rendering="crispEdges"/>
<rect x="76.01" y="212.93" width="7.17" height="3.98" fill="#b73779" shape-rendering="crispEdges"/>
<rect x="82.68" y="212.93" width="7.17" height="3.98" fill="#8c2981" shape-rendering="crispEdges"/>
<rect x="89.35" y="212.93" width="7.17" height="3.98" fill="#641a80" shape-rendering="crispEdges"/>
<rect x="96.03" y="212.93" width="7.17" height="3.98" fill="#140e36" shape-rendering="crispEdges"/>
<rect x="29.3" y="216.4" width="7.17" height="3.98" fill="#140e36" shape-rendering="crispEdges"/>
<rect x="35.97" y="216.4" width="7.17" height="3.98" fill="#641a80" shape-rendering="crispEdges"/>
<rect x="42.65" y="216.4" width="7.17" height="3.98" fill="#b73779" shape-rendering="crispEdges"/>
<rect x="49.32" y="216.4" width="7.17" height="3.98" fill="#a2307d" shape-rendering="crispEdges"/>
<rect x="55.99" y="216.4" width="7.17" height="3.98" fill="#b73779" shape-rendering="crispEdges"/>
<rect x="62.66" y="216.4" width="7.17" height="3.98" fill="#ea5c62" shape-rendering="crispEdges"/>
<rect x="69.34" y="216.4" width="7.17" height="3.98" fill="#782280" shape-rendering="crispEdges"/>
<rect x="76.01" y="216.4" width="7.17" height="3.98" fill="#782280" shape-rendering="crispEdges"/>
<rect x="82.68" y="216.4" width="7.17" height="3.98" fill="#782280" shape-rendering="crispEdges"/>
<rect x="89.35" y="216.4" width="7.17" height="3.98" fill="#641a80" shape-rendering="crispEdges"/>
<rect x="96.03" y="216.4" width="7.17" height="3.98" fill="#140e36" shape-rendering="crispEdges"/>
<rect x="29.3" y="219.88" width="7.17" height="3.98" fill="#140e36" shape-rendering="crispEdges"/>
<rect x="35.97" y="219.88" width="7.17" height="3.98" fill="#641a80" shape-rendering="crispEdges"/>
<rect x="42.65" y="219.88" width="7.17" height="3.98" fill="#a2307d" shape-rendering="crispEdges"/>
<rect x="49.32" y="219.88" width="7.17" height="3.98" fill="#641a80" shape-rendering="crispEdges"/>
<rect x="55.99" y="219.88" width="7.17" height="3.98" fill="#a2307d" shape-rendering="crispEdges"/>
<rect x="62.66" y="219.88" width="7.17" height="3.98" fill="#fa8864" shape-rendering="crispEdges"/>
<rect x="69.34" y="219.88" width="7.17" height="3.98" fill="#3b0f70" shape-rendering="crispEdges"/>
<rect x="76.01" y="219.88" width="7.17" height="3.98" fill="#501478" shape-rendering="crispEdges"/>
<rect x="82.68" y="219.88" width="7.17" height="3.98" fill="#641a80" shape-rendering="crispEdges"/>
<rect x="89.35" y="219.88" width="7.17" height="3.98" fill="#641a80" shape-rendering="crispEdges"/>
<rect x="96.03" y="219.88" width="7.17" height="3.98" fill="#641a80" shape-rendering="crispEdges"/>
<rect x="29.3" y="223.36" width="7.17" height="3.98" fill="#280e53" shape-rendering="crispEdges"/>
<rect x="35.97" y="223.36" width="7.17" height="3.98" fill="#8c2981" shape-rendering="crispEdges"/>
<rect x="42.65" y="223.36" width="7.17" height="3.98" fill="#a2307d" shape-rendering="crispEdges"/>
<rect x="49.32" y="223.36" width="7.17" height="3.98" fill="#8c2981" shape-rendering="crispEdges"/>
<rect x="55.99" y="223.36" width="7.17" height="3.98" fill="#a2307d" shape-rendering="crispEdges"/>
<rect x="62.66" y="223.36" width="7.17" height="3.98" fill="#8c2981" shape-rendering="crispEdges"/>
<rect x="69.34" y="223.36" width="7.17" height="3.98" fill="#641a80" shape-rendering="crispEdges"/>
<rect x="76.01" y="223.36" width="7.17" height="3.98" fill="#8c2981" shape-rendering="crispEdges"/>
<rect x="82.68" y="223.36" width="7.17" height="3.98" fill="#8c2981" shape-rendering="crispEdges"/>
<rect x="89.35" y="223.36" width="7.17" height="3.98" fill="#641a80" shape-rendering="crispEdges"/>
<rect x="96.03" y="223.36" width="7.17" height="3.98" fill="#782280" shape-rendering="crispEdges"/>
<rect x="29.3" y="226.83" width="7.17" height="3.98" fill="#280e53" shape-rendering="crispEdges"/>
<rect x="35.97" y="226.83" width="7.17" height="3.98" fill="#782280" shape-rendering="crispEdges"/>
<rect x="42.65" y="226.83" width="7.17" height="3.98" fill="#a2307d" shape-rendering="crispEdges"/>
<rect x="49.32" y="226.83" width="7.17" height="3.98" fill="#a2307d" shape-rendering="crispEdges"/>
<rect x="55.99" y="226.83" width="7.17" height="3.98" fill="#de4968" shape-rendering="crispEdges"/>
<rect x="62.66" y="226.83" width="7.17" height="3.98" fill="#a2307d" shape-rendering="crispEdges"/>
<rect x="69.34" y="226.83" width="7.17" height="3.98" fill="#8c2981" shape-rendering="crispEdges"/>
<rect x="76.01" y="226.83" width="7.17" height="3.98" fill="#b73779" shape-rendering="crispEdges"/>
<rect x="82.68" y="226.83" width="7.17" height="3.98" fill="#a2307d" shape-rendering="crispEdges"/>
<rect x="89.35" y="226.83" width="7.17" height="3.98" fill="#8c2981" shape-rendering="crispEdges"/>
<rect x="96.03" y="226.83" width="7.17" height="3.98" fill="#501478" shape-rendering="crispEdges"/>
<rect x="29.3" y="230.31" width="7.17" height="3.98" fill="#140e36" shape-rendering="crispEdges"/>
<rect x="35.97" y="230.31" width="7.17" height="3.98" fill="#501478" shape-rendering="crispEdges"/>
<rect x="42.65" y="230.31" width="7.17" height="3.98" fill="#de4968" shape-rendering="crispEdges"/>
<rect x="49.32" y="230.31" width="7.17" height="3.98" fill="#de4968" shape-rendering="crispEdges"/>
<rect x="55.99" y="230.31" width="7.17" height="3.98" fill="#b73779" shape-rendering="crispEdges"/>
<rect x="62.66" y="230.31" width="7.17" height="3.98" fill="#b73779" shape-rendering="crispEdges"/>
<rect x="69.34" y="230.31" width="7.17" height="3.98" fill="#a2307d" shape-rendering="crispEdges"/>
<rect x="76.01" y="230.31" width="7.17" height="3.98" fill="#b73779" shape-rendering="crispEdges"/>
<rect x="82.68" y="230.31" width="7.17" height="3.98" fill="#b73779" shape-rendering="crispEdges"/>
<rect x="89.35" y="230.31" width="7.17" height="3.98" fill="#a2307d" shape-rendering="crispEdges"/>
<rect x="96.03" y="230.31" width="7.17" height="3.98" fill="#782280" shape-rendering="crispEdges"/>
<rect x="29.3" y="233.79" width="7.17" height="3.98" fill="#3b0f70" shape-rendering="crispEdges"/>
<rect x="35.97" y="233.79" width="7.17" height="3.98" fill="#782280" shape-rendering="crispEdges"/>
<rect x="42.65" y="233.79" width="7.17" height="3.98" fill="#a2307d" shape-rendering="crispEdges"/>
<rect x="49.32" y="233.79" width="7.17" height="3.98" fill="#f7705c" shape-rendering="crispEdges"/>
<rect x="55.99" y="233.79" width="7.17" height="3.98" fill="#ea5c62" shape-rendering="crispEdges"/>
<rect x="62.66" y="233.79" width="7.17" height="3.98" fill="#ea5c62" shape-rendering="crispEdges"/>
<rect x="69.34" y="233.79" width="7.17" height="3.98" fill="#a2307d" shape-rendering="crispEdges"/>
<rect x="76.01" y="233.79" width="7.17" height="3.98" fill="#a2307d" shape-rendering="crispEdges"/>
<rect x="82.68" y="233.79" width="7.17" height="3.98" fill="#641a80" shape-rendering="crispEdges"/>
<rect x="89.35" y="233.79" width="7.17" height="3.98" fill="#8c2981" shape-rendering="crispEdges"/>
<rect x="96.03" y="233.79" width="7.17" height="3.98" fill="#782280" shape-rendering="crispEdges"/>
<rect x="29.3" y="237.26" width="7.17" height="3.98" fill="#3b0f70" shape-rendering="crispEdges"/>
<rect x="35.97" y="237.26" width="7.17" height="3.98" fill="#501478" shape-rendering="crispEdges"/>
<rect x="42.65" y="237.26" width="7.17" height="3.98" fill="#ca4070" shape-rendering="crispEdges"/>
<rect x="49.32" y="237.26" width="7.17" height="3.98" fill="#de4968" shape-rendering="crispEdges"/>
<rect x="55.99" y="237.26" width="7.17" height="3.98" fill="#b73779" shape-rendering="crispEdges"/>
<rect x="62.66" y="237.26" width="7.17" height="3.98" fill="#de4968" shape-rendering="crispEdges"/>
<rect x="69.34" y="237.26" width="7.17" height="3.98" fill="#ca4070" shape-rendering="crispEdges"/>
<rect x="76.01" y="237.26" width="7.17" height="3.98" fill="#fa8864" shape-rendering="crispEdges"/>
<rect x="82.68" y="237.26" width="7.17" height="3.98" fill="#b73779" shape-rendering="crispEdges"/>
<rect x="89.35" y="237.26" width="7.17" height="3.98" fill="#782280" shape-rendering="crispEdges"/>
<rect x="96.03" y="237.26" width="7.17" height="3.98" fill="#280e53" shape-rendering="crispEdges"/>
<rect x="29.3" y="240.74" width="7.17" height="3.98" fill="#501478" shape-rendering="crispEdges"/>
<rect x="35.97" y="240.74" width="7.17" height="3.98" fill="#641a80" shape-rendering="crispEdges"/>
<rect x="42.65" y="240.74" width="7.17" height="3.98" fill="#ca4070" shape-rendering="crispEdges"/>
<rect x="49.32" y="240.74" width="7.17" height="3.98" fill="#ca4070" shape-rendering="crispEdges"/>
<rect x="55.99" y="240.74" width="7.17" height="3.98" fill="#b73779" shape-rendering="crispEdges"/>
<rect x="62.66" y="240.74" width="7.17" height="3.98" fill="#ea5c62" shape-rendering="crispEdges"/>
<rect x="69.34" y="240.74" width="7.17" height="3.98" fill="#ea5c62" shape-rendering="crispEdges"/>
<rect x="76.01" y="240.74" width="7.17" height="3.98" fill="#a2307d" shape-rendering="crispEdges"/>
<rect x="82.68" y="240.74" width="7.17" height="3.98" fill="#8c2981" shape-rendering="crispEdges"/>
<rect x="89.35" y="240.74" width="7.17" height="3.98" fill="#b73779" shape-rendering="crispEdges"/>
<rect x="96.03" y="240.74" width="7.17" height="3.98" fill="#501478" shape-rendering="crispEdges"/>
<rect x="29.3" y="244.21" width="7.17" height="3.98" fill="#3b0f70" shape-rendering="crispEdges"/>
<rect x="35.97" y="244.21" width="7.17" height="3.98" fill="#641a80" shape-rendering="crispEdges"/>
<rect x="42.65" y="244.21" width="7.17" height="3.98" fill="#ca4070" shape-rendering="crispEdges"/>
<rect x="49.32" y="244.21" width="7.17" height="3.98" fill="#b73779" shape-rendering="crispEdges"/>
<rect x="55.99" y="244.21" width="7.17" height="3.98" fill="#b73779" shape-rendering="crispEdges"/>
<rect x="62.66" y="244.21" width="7.17" height="3.98" fill="#a2307d" shape-rendering="crispEdges"/>
<rect x="69.34" y="244.21" width="7.17" height="3.98" fill="#f7705c" shape-rendering="crispEdges"/>
<rect x="76.01" y="244.21" width="7.17" height="3.98" fill="#de4968" shape-rendering="crispEdges"/>
<rect x="82.68" y="244.21" width="7.17" height="3.98" fill="#a2307d" shape-rendering="crispEdges"/>
<rect x="89.35" y="244.21" width="7.17" height="3.98" fill="#280e53" shape-rendering="crispEdges"/>
<rect x="96.03" y="244.21" width="7.17" height="3.98" fill="#641a80" shape-rendering="crispEdges"/>
<rect x="29.3" y="247.69" width="7.17" height="3.98" fill="#140e36" shape-rendering="crispEdges"/>
<rect x="35.97" y="247.69" width="7.17" height="3.98" fill="#140e36" shape-rendering="crispEdges"/>
<rect x="42.65" y="247.69" width="7.17" height="3.98" fill="#ca4070" shape-rendering="crispEdges"/>
<rect x="49.32" y="247.69" width="7.17" height="3.98" fill="#de4968" shape-rendering="crispEdges"/>
<rect x="55.99" y="247.69" width="7.17" height="3.98" fill="#ea5c62" shape-rendering="crispEdges"/>
<rect x="62.66" y="247.69" width="7.17" height="3.98" fill="#f7705c" shape-rendering="crispEdges"/>
<rect x="69.34" y="247.69" width="7.17" height="3.98" fill="#ca4070" shape-rendering="crispEdges"/>
<rect x="76.01" y="247.69" width="7.17" height="3.98" fill="#de4968" shape-rendering="crispEdges"/>
<rect x="82.68" y="247.69" width="7.17" height="3.98" fill="#a2307d" shape-rendering="crispEdges"/>
<rect x="89.35" y="247.69" width="7.17" height="3.98" fill="#782280" shape-rendering="crispEdges"/>
<rect x="96.03" y="247.69" width="7.17" height="3.98" fill="#3b0f70" shape-rendering="crispEdges"/>
<rect x="29.3" y="251.17" width="7.17" height="3.98" fill="#280e53" shape-rendering="crispEdges"/>
<rect x="35.97" y="251.17" width="7.17" height="3.98" fill="#a2307d" shape-rendering="crispEdges"/>
<rect x="42.65" y="251.17" width="7.17" height="3.98" fill="#641a80" shape-rendering="crispEdges"/>
<rect x="49.32" y="251.17" width="7.17" height="3.98" fill="#de4968" shape-rendering="crispEdges"/>
<rect x="55.99" y="251.17" width="7.17" height="3.98" fill="#fa8864" shape-rendering="crispEdges"/>
<rect x="62.66" y="251.17" width="7.17" height="3.98" fill="#fec58b" shape-rendering="crispEdges"/>
<rect x="69.34" y="251.17" width="7.17" height="3.98" fill="#f7705c" shape-rendering="crispEdges"/>
<rect x="76.01" y="251.17" width="7.17" height="3.98" fill="#ca4070" shape-rendering="crispEdges"/>
<rect x="82.68" y="251.17" width="7.17" height="3.98" fill="#fa8864" shape-rendering="crispEdges"/>
<rect x="89.35" y="251.17" width="7.17" height="3.98" fill="#b73779" shape-rendering="crispEdges"/>
<rect x="96.03" y="251.17" width="7.17" height="3.98" fill="#a2307d" shape-rendering="crispEdges"/>
<rect x="29.3" y="254.64" width="7.17" height="3.98" fill="#501478" shape-rendering="crispEdges"/>
<rect x="35.97" y="254.64" width="7.17" height="3.98" fill="#a2307d" shape-rendering="crispEdges"/>
<rect x="42.65" y="254.64" width="7.17" height="3.98" fill="#ea5c62" shape-rendering="crispEdges"/>
<rect x="49.32" y="254.64" width="7.17" height="3.98" fill="#fa8864" shape-rendering="crispEdges"/>
<rect x="55.99" y="254.64" width="7.17" height="3.98" fill="#f7705c" shape-rendering="crispEdges"/>
<rect x="62.66" y="254.64" width="7.17" height="3.98" fill="#fecf92" shape-rendering="crispEdges"/>
<rect x="69.34" y="254.64" width="7.17" height="3.98" fill="#fe9f6d" shape-rendering="crispEdges"/>
<rect x="76.01" y="254.64" width="7.17" height="3.98" fill="#fe9f6d" shape-rendering="crispEdges"/>
<rect x="82.68" y="254.64" width="7.17" height="3.98" fill="#a2307d" shape-rendering="crispEdges"/>
<rect x="89.35" y="254.64" width="7.17" height="3.98" fill="#ea5c62" shape-rendering="crispEdges"/>
<rect x="96.03" y="254.64" width="7.17" height="3.98" fill="#a2307d" shape-rendering="crispEdges"/>
<rect x="29.3" y="258.12" width="7.17" height="3.98" fill="#501478" shape-rendering="crispEdges"/>
<rect x="35.97" y="258.12" width="7.17" height="3.98" fill="#ca4070" shape-rendering="crispEdges"/>
<rect x="42.65" y="258.12" width="7.17" height="3.98" fill="#ea5c62" shape-rendering="crispEdges"/>
<rect x="49.32" y="258.12" width="7.17" height="3.98" fill="#fea974" shape-rendering="crispEdges"/>
<rect x="55.99" y="258.12" width="7.17" height="3.98" fill="#ca4070" shape-rendering="crispEdges"/>
<rect x="62.66" y="258.12" width="7.17" height="3.98" fill="#fecf92" shape-rendering="crispEdges"/>
<rect x="69.34" y="258.12" width="7.17" height="3.98" fill="#f7705c" shape-rendering="crispEdges"/>
<rect x="76.01" y="258.12" width="7.17" height="3.98" fill="#fea974" shape-rendering="crispEdges"/>
<rect x="82.68" y="258.12" width="7.17" height="3.98" fill="#a2307d" shape-rendering="crispEdges"/>
<rect x="89.35" y="258.12" width="7.17" height="3.98" fill="#3b0f70" shape-rendering="crispEdges"/>
<rect x="96.03" y="258.12" width="7.17" height="3.98" fill="#b73779" shape-rendering="crispEdges"/>
<rect x="29.3" y="261.6" width="7.17" height="3.98" fill="#641a80" shape-rendering="crispEdges"/>
<rect x="35.97" y="261.6" width="7.17" height="3.98" fill="#ca4070" shape-rendering="crispEdges"/>
<rect x="42.65" y="261.6" width="7.17" height="3.98" fill="#f7705c" shape-rendering="crispEdges"/>
<rect x="49.32" y="261.6" width="7.17" height="3.98" fill="#fea974" shape-rendering="crispEdges"/>
<rect x="55.99" y="261.6" width="7.17" height="3.98" fill="#fde6a8" shape-rendering="crispEdges"/>
<rect x="62.66" y="261.6" width="7.17" height="3.98" fill="#fdefb1" shape-rendering="crispEdges"/>
<rect x="69.34" y="261.6" width="7.17" height="3.98" fill="#fa8864" shape-rendering="crispEdges"/>
<rect x="76.01" y="261.6" width="7.17" height="3.98" fill="#fecf92" shape-rendering="crispEdges"/>
<rect x="82.68" y="261.6" width="7.17" height="3.98" fill="#f7705c" shape-rendering="crispEdges"/>
<rect x="89.35" y="261.6" width="7.17" height="3.98" fill="#de4968" shape-rendering="crispEdges"/>
<rect x="96.03" y="261.6" width="7.17" height="3.98" fill="#b73779" shape-rendering="crispEdges"/>
<rect x="29.3" y="265.07" width="7.17" height="3.98" fill="#782280" shape-rendering="crispEdges"/>
<rect x="35.97" y="265.07" width="7.17" height="3.98" fill="#ca4070" shape-rendering="crispEdges"/>
<rect x="42.65" y="265.07" width="7.17" height="3.98" fill="#fa8864" shape-rendering="crispEdges"/>
<rect x="49.32" y="265.07" width="7.17" height="3.98" fill="#ca4070" shape-rendering="crispEdges"/>
<rect x="55.99" y="265.07" width="7.17" height="3.98" fill="#f7705c" shape-rendering="crispEdges"/>
<rect x="62.66" y="265.07" width="7.17" height="3.98" fill="#fa8864" shape-rendering="crispEdges"/>
<rect x="69.34" y="265.07" width="7.17" height="3.98" fill="#fe9f6d" shape-rendering="crispEdges"/>
<rect x="76.01" y="265.07" width="7.17" height="3.98" fill="#fdefb1" shape-rendering="crispEdges"/>
<rect x="82.68" y="265.07" width="7.17" height="3.98" fill="#f7705c" shape-rendering="crispEdges"/>
<rect x="89.35" y="265.07" width="7.17" height="3.98" fill="#b73779" shape-rendering="crispEdges"/>
<rect x="96.03" y="265.07" width="7.17" height="3.98" fill="#b73779" shape-rendering="crispEdges"/>
<rect x="29.3" y="268.55" width="7.17" height="3.98" fill="#8c2981" shape-rendering="crispEdges"/>
<rect x="35.97" y="268.55" width="7.17" height="3.98" fill="#de4968" shape-rendering="crispEdges"/>
<rect x="42.65" y="268.55" width="7.17" height="3.98" fill="#fe9f6d" shape-rendering="crispEdges"/>
<rect x="49.32" y="268.55" width="7.17" height="3.98" fill="#f7705c" shape-rendering="crispEdges"/>
<rect x="55.99" y="268.55" width="7.17" height="3.98" fill="#fde6a8" shape-rendering="crispEdges"/>
<rect x="62.66" y="268.55" width="7.17" height="3.98" fill="#fde6a8" shape-rendering="crispEdges"/>
<rect x="69.34" y="268.55" width="7.17" height="3.98" fill="#de4968" shape-rendering="crispEdges"/>
<rect x="76.01" y="268.55" width="7.17" height="3.98" fill="#fdefb1" shape-rendering="crispEdges"/>
<rect x="82.68" y="268.55" width="7.17" height="3.98" fill="#ea5c62" shape-rendering="crispEdges"/>
<rect x="89.35" y="268.55" width="7.17" height="3.98" fill="#ca4070" shape-rendering="crispEdges"/>
<rect x="96.03" y="268.55" width="7.17" height="3.98" fill="#a2307d" shape-rendering="crispEdges"/>
<rect x="29.3" y="272.02" width="7.17" height="3.98" fill="#8c2981" shape-rendering="crispEdges"/>
<rect x="35.97" y="272.02" width="7.17" height="3.98" fill="#de4968" shape-rendering="crispEdges"/>
<rect x="42.65" y="272.02" width="7.17" height="3.98" fill="#fe9f6d" shape-rendering="crispEdges"/>
<rect x="49.32" y="272.02" width="7.17" height="3.98" fill="#fde6a8" shape-rendering="crispEdges"/>
<rect x="55.99" y="272.02" width="7.17" height="3.98" fill="#fecf92" shape-rendering="crispEdges"/>
<rect x="62.66" y="272.02" width="7.17" height="3.98" fill="#feb780" shape-rendering="crispEdges"/>
<rect x="69.34" y="272.02" width="7.17" height="3.98" fill="#feb780" shape-rendering="crispEdges"/>
<rect x="76.01" y="272.02" width="7.17" height="3.98" fill="#fe9f6d" shape-rendering="crispEdges"/>
<rect x="82.68" y="272.02" width="7.17" height="3.98" fill="#fa8864" shape-rendering="crispEdges"/>
<rect x="89.35" y="272.02" width="7.17" height="3.98" fill="#de4968" shape-rendering="crispEdges"/>
<rect x="96.03" y="272.02" width="7.17" height="3.98" fill="#b73779" shape-rendering="crispEdges"/>
<rect x="29.3" y="282" width="7.17" height="3.97" fill="#100b2c" shape-rendering="crispEdges"/>
<rect x="35.97" y="282" width="7.17" height="3.97" fill="#3b0f70" shape-rendering="crispEdges"/>
<rect x="42.65" y="282" width="7.17" height="3.97" fill="#5c187d" shape-rendering="crispEdges"/>
<rect x="49.32" y="282" width="7.17" height="3.97" fill="#641a80" shape-rendering="crispEdges"/>
<rect x="55.99" y="282" width="7.17" height="3.97" fill="#6c1d80" shape-rendering="crispEdges"/>
<rect x="62.66" y="282" width="7.17" height="3.97" fill="#701f80" shape-rendering="crispEdges"/>
<rect x="69.34" y="282" width="7.17" height="3.97" fill="#641a80" shape-rendering="crispEdges"/>
<rect x="76.01" y="282" width="7.17" height="3.97" fill="#641a80" shape-rendering="crispEdges"/>
<rect x="82.68" y="282" width="7.17" height="3.97" fill="#5c187d" shape-rendering="crispEdges"/>
<rect x="89.35" y="282" width="7.17" height="3.97" fill="#501478" shape-rendering="crispEdges"/>
<rect x="96.03" y="282" width="7.17" height="3.97" fill="#501478" shape-rendering="crispEdges"/>
<rect x="29.3" y="285.47" width="7.17" height="3.97" fill="#120d32" shape-rendering="crispEdges"/>
<rect x="35.97" y="285.47" width="7.17" height="3.97" fill="#431173" shape-rendering="crispEdges"/>
<rect x="42.65" y="285.47" width="7.17" height="3.97" fill="#631a80" shape-rendering="crispEdges"/>
<rect x="49.32" y="285.47" width="7.17" height="3.97" fill="#6c1d80" shape-rendering="crispEdges"/>
<rect x="55.99" y="285.47" width="7.17" height="3.97" fill="#752080" shape-rendering="crispEdges"/>
<rect x="62.66" y="285.47" width="7.17" height="3.97" fill="#792281" shape-rendering="crispEdges"/>
<rect x="69.34" y="285.47" width="7.17" height="3.97" fill="#6c1d80" shape-rendering="crispEdges"/>
<rect x="76.01" y="285.47" width="7.17" height="3.97" fill="#6c1d80" shape-rendering="crispEdges"/>
<rect x="82.68" y="285.47" width="7.17" height="3.97" fill="#631a80" shape-rendering="crispEdges"/>
<rect x="89.35" y="285.47" width="7.17" height="3.97" fill="#56167a" shape-rendering="crispEdges"/>
<rect x="96.03" y="285.47" width="7.17" height="3.97" fill="#54167a" shape-rendering="crispEdges"/>
<rect x="29.3" y="288.93" width="7.17" height="3.97" fill="#160e38" shape-rendering="crispEdges"/>
<rect x="35.97" y="288.93" width="7.17" height="3.97" fill="#4b1376" shape-rendering="crispEdges"/>
<rect x="42.65" y="288.93" width="7.17" height="3.97" fill="#6a1c80" shape-rendering="crispEdges"/>
<rect x="49.32" y="288.93" width="7.17" height="3.97" fill="#742080" shape-rendering="crispEdges"/>
<rect x="55.99" y="288.93" width="7.17" height="3.97" fill="#7e2481" shape-rendering="crispEdges"/>
<rect x="62.66" y="288.93" width="7.17" height="3.97" fill="#822581" shape-rendering="crispEdges"/>
<rect x="69.34" y="288.93" width="7.17" height="3.97" fill="#742080" shape-rendering="crispEdges"/>
<rect x="76.01" y="288.93" width="7.17" height="3.97" fill="#742080" shape-rendering="crispEdges"/>
<rect x="82.68" y="288.93" width="7.17" height="3.97" fill="#6a1c80" shape-rendering="crispEdges"/>
<rect x="89.35" y="288.93" width="7.17" height="3.97" fill="#5c187d" shape-rendering="crispEdges"/>
<rect x="96.03" y="288.93" width="7.17" height="3.97" fill="#58177b" shape-rendering="crispEdges"/>
<rect x="29.3" y="292.4" width="7.17" height="3.97" fill="#1a0e3f" shape-rendering="crispEdges"/>
<rect x="35.97" y="292.4" width="7.17" height="3.97" fill="#54167a" shape-rendering="crispEdges"/>
<rect x="42.65" y="292.4" width="7.17" height="3.97" fill="#701f80" shape-rendering="crispEdges"/>
<rect x="49.32" y="292.4" width="7.17" height="3.97" fill="#7c2381" shape-rendering="crispEdges"/>
<rect x="55.99" y="292.4" width="7.17" height="3.97" fill="#882781" shape-rendering="crispEdges"/>
<rect x="62.66" y="292.4" width="7.17" height="3.97" fill="#8a2881" shape-rendering="crispEdges"/>
<rect x="69.34" y="292.4" width="7.17" height="3.97" fill="#7c2381" shape-rendering="crispEdges"/>
<rect x="76.01" y="292.4" width="7.17" height="3.97" fill="#7c2381" shape-rendering="crispEdges"/>
<rect x="82.68" y="292.4" width="7.17" height="3.97" fill="#701f80" shape-rendering="crispEdges"/>
<rect x="89.35" y="292.4" width="7.17" height="3.97" fill="#62197f" shape-rendering="crispEdges"/>
<rect x="96.03" y="292.4" width="7.17" height="3.97" fill="#5c187d" shape-rendering="crispEdges"/>
<rect x="29.3" y="295.87" width="7.17" height="3.97" fill="#1f0e46" shape-rendering="crispEdges"/>
<rect x="35.97" y="295.87" width="7.17" height="3.97" fill="#5c187d" shape-rendering="crispEdges"/>
<rect x="42.65" y="295.87" width="7.17" height="3.97" fill="#772180" shape-rendering="crispEdges"/>
<rect x="49.32" y="295.87" width="7.17" height="3.97" fill="#842681" shape-rendering="crispEdges"/>
<rect x="55.99" y="295.87" width="7.17" height="3.97" fill="#912b80" shape-rendering="crispEdges"/>
<rect x="62.66" y="295.87" width="7.17" height="3.97" fill="#942c80" shape-rendering="crispEdges"/>
<rect x="69.34" y="295.87" width="7.17" height="3.97" fill="#842681" shape-rendering="crispEdges"/>
<rect x="76.01" y="295.87" width="7.17" height="3.97" fill="#842681" shape-rendering="crispEdges"/>
<rect x="82.68" y="295.87" width="7.17" height="3.97" fill="#772180" shape-rendering="crispEdges"/>
<rect x="89.35" y="295.87" width="7.17" height="3.97" fill="#681c80" shape-rendering="crispEdges"/>
<rect x="96.03" y="295.87" width="7.17" height="3.97" fill="#60197e" shape-rendering="crispEdges"/>
<rect x="29.3" y="299.33" width="7.17" height="3.97" fill="#240e4d" shape-rendering="crispEdges"/>
<rect x="35.97" y="299.33" width="7.17" height="3.97" fill="#641a80" shape-rendering="crispEdges"/>
<rect x="42.65" y="299.33" width="7.17" height="3.97" fill="#7e2481" shape-rendering="crispEdges"/>
<rect x="49.32" y="299.33" width="7.17" height="3.97" fill="#8c2981" shape-rendering="crispEdges"/>
<rect x="55.99" y="299.33" width="7.17" height="3.97" fill="#9b2e7e" shape-rendering="crispEdges"/>
<rect x="62.66" y="299.33" width="7.17" height="3.97" fill="#9d2f7e" shape-rendering="crispEdges"/>
<rect x="69.34" y="299.33" width="7.17" height="3.97" fill="#8c2981" shape-rendering="crispEdges"/>
<rect x="76.01" y="299.33" width="7.17" height="3.97" fill="#8c2981" shape-rendering="crispEdges"/>
<rect x="82.68" y="299.33" width="7.17" height="3.97" fill="#7e2481" shape-rendering="crispEdges"/>
<rect x="89.35" y="299.33" width="7.17" height="3.97" fill="#6e1e80" shape-rendering="crispEdges"/>
<rect x="96.03" y="299.33" width="7.17" height="3.97" fill="#641a80" shape-rendering="crispEdges"/>
<rect x="29.3" y="302.8" width="7.17" height="3.97" fill="#280f54" shape-rendering="crispEdges"/>
<rect x="35.97" y="302.8" width="7.17" height="3.97" fill="#6c1d80" shape-rendering="crispEdges"/>
<rect x="42.65" y="302.8" width="7.17" height="3.97" fill="#852681" shape-rendering="crispEdges"/>
<rect x="49.32" y="302.8" width="7.17" height="3.97" fill="#952c7f" shape-rendering="crispEdges"/>
<rect x="55.99" y="302.8" width="7.17" height="3.97" fill="#a5317c" shape-rendering="crispEdges"/>
<rect x="62.66" y="302.8" width="7.17" height="3.97" fill="#a7327c" shape-rendering="crispEdges"/>
<rect x="69.34" y="302.8" width="7.17" height="3.97" fill="#952c7f" shape-rendering="crispEdges"/>
<rect x="76.01" y="302.8" width="7.17" height="3.97" fill="#952c7f" shape-rendering="crispEdges"/>
<rect x="82.68" y="302.8" width="7.17" height="3.97" fill="#852681" shape-rendering="crispEdges"/>
<rect x="89.35" y="302.8" width="7.17" height="3.97" fill="#742080" shape-rendering="crispEdges"/>
<rect x="96.03" y="302.8" width="7.17" height="3.97" fill="#681c80" shape-rendering="crispEdges"/>
<rect x="29.3" y="306.27" width="7.17" height="3.97" fill="#2d0f5b" shape-rendering="crispEdges"/>
<rect x="35.97" y="306.27" width="7.17" height="3.97" fill="#742080" shape-rendering="crispEdges"/>
<rect x="42.65" y="306.27" width="7.17" height="3.97" fill="#8c2981" shape-rendering="crispEdges"/>
<rect x="49.32" y="306.27" width="7.17" height="3.97" fill="#9d2f7e" shape-rendering="crispEdges"/>
<rect x="55.99" y="306.27" width="7.17" height="3.97" fill="#af347b" shape-rendering="crispEdges"/>
<rect x="62.66" y="306.27" width="7.17" height="3.97" fill="#b0357a" shape-rendering="crispEdges"/>
<rect x="69.34" y="306.27" width="7.17" height="3.97" fill="#9d2f7e" shape-rendering="crispEdges"/>
<rect x="76.01" y="306.27" width="7.17" height="3.97" fill="#9d2f7e" shape-rendering="crispEdges"/>
<rect x="82.68" y="306.27" width="7.17" height="3.97" fill="#8c2981" shape-rendering="crispEdges"/>
<rect x="89.35" y="306.27" width="7.17" height="3.97" fill="#7a2281" shape-rendering="crispEdges"/>
<rect x="96.03" y="306.27" width="7.17" height="3.97" fill="#6c1d80" shape-rendering="crispEdges"/>
<rect x="29.3" y="309.73" width="7.17" height="3.97" fill="#320f62" shape-rendering="crispEdges"/>
<rect x="35.97" y="309.73" width="7.17" height="3.97" fill="#7c2381" shape-rendering="crispEdges"/>
<rect x="42.65" y="309.73" width="7.17" height="3.97" fill="#932b80" shape-rendering="crispEdges"/>
<rect x="49.32" y="309.73" width="7.17" height="3.97" fill="#a6317c" shape-rendering="crispEdges"/>
<rect x="55.99" y="309.73" width="7.17" height="3.97" fill="#b93878" shape-rendering="crispEdges"/>
<rect x="62.66" y="309.73" width="7.17" height="3.97" fill="#b93878" shape-rendering="crispEdges"/>
<rect x="69.34" y="309.73" width="7.17" height="3.97" fill="#a6317c" shape-rendering="crispEdges"/>
<rect x="76.01" y="309.73" width="7.17" height="3.97" fill="#a6317c" shape-rendering="crispEdges"/>
<rect x="82.68" y="309.73" width="7.17" height="3.97" fill="#932b80" shape-rendering="crispEdges"/>
<rect x="89.35" y="309.73" width="7.17" height="3.97" fill="#802481" shape-rendering="crispEdges"/>
<rect x="96.03" y="309.73" width="7.17" height="3.97" fill="#701e80" shape-rendering="crispEdges"/>
<rect x="29.3" y="313.2" width="7.17" height="3.97" fill="#360f69" shape-rendering="crispEdges"/>
<rect x="35.97" y="313.2" width="7.17" height="3.97" fill="#842681" shape-rendering="crispEdges"/>
<rect x="42.65" y="313.2" width="7.17" height="3.97" fill="#9a2e7e" shape-rendering="crispEdges"/>
<rect x="49.32" y="313.2" width="7.17" height="3.97" fill="#ae347b" shape-rendering="crispEdges"/>
<rect x="55.99" y="313.2" width="7.17" height="3.97" fill="#c23c74" shape-rendering="crispEdges"/>
<rect x="62.66" y="313.2" width="7.17" height="3.97" fill="#c23c74" shape-rendering="crispEdges"/>
<rect x="69.34" y="313.2" width="7.17" height="3.97" fill="#ae347b" shape-rendering="crispEdges"/>
<rect x="76.01" y="313.2" width="7.17" height="3.97" fill="#ae347b" shape-rendering="crispEdges"/>
<rect x="82.68" y="313.2" width="7.17" height="3.97" fill="#9a2e7e" shape-rendering="crispEdges"/>
<rect x="89.35" y="313.2" width="7.17" height="3.97" fill="#862781" shape-rendering="crispEdges"/>
<rect x="96.03" y="313.2" width="7.17" height="3.97" fill="#742080" shape-rendering="crispEdges"/>
<rect x="29.3" y="316.67" width="7.17" height="3.97" fill="#3b0f70" shape-rendering="crispEdges"/>
<rect x="35.97" y="316.67" width="7.17" height="3.97" fill="#8c2981" shape-rendering="crispEdges"/>
<rect x="42.65" y="316.67" width="7.17" height="3.97" fill="#a2307d" shape-rendering="crispEdges"/>
<rect x="49.32" y="316.67" width="7.17" height="3.97" fill="#b73779" shape-rendering="crispEdges"/>
<rect x="55.99" y="316.67" width="7.17" height="3.97" fill="#ca4070" shape-rendering="crispEdges"/>
<rect x="62.66" y="316.67" width="7.17" height="3.97" fill="#ca4070" shape-rendering="crispEdges"/>
<rect x="69.34" y="316.67" width="7.17" height="3.97" fill="#b73779" shape-rendering="crispEdges"/>
<rect x="76.01" y="316.67" width="7.17" height="3.97" fill="#b73779" shape-rendering="crispEdges"/>
<rect x="82.68" y="316.67" width="7.17" height="3.97" fill="#a2307d" shape-rendering="crispEdges"/>
<rect x="89.35" y="316.67" width="7.17" height="3.97" fill="#8c2981" shape-rendering="crispEdges"/>
<rect x="96.03" y="316.67" width="7.17" height="3.97" fill="#782280" shape-rendering="crispEdges"/>
<rect x="29.3" y="320.13" width="7.17" height="3.97" fill="#3e1071" shape-rendering="crispEdges"/>
<rect x="35.97" y="320.13" width="7.17" height="3.97" fill="#902a80" shape-rendering="crispEdges"/>
<rect x="42.65" y="320.13" width="7.17" height="3.97" fill="#a9327c" shape-rendering="crispEdges"/>
<rect x="49.32" y="320.13" width="7.17" height="3.97" fill="#bf3b76" shape-rendering="crispEdges"/>
<rect x="55.99" y="320.13" width="7.17" height="3.97" fill="#d2446d" shape-rendering="crispEdges"/>
<rect x="62.66" y="320.13" width="7.17" height="3.97" fill="#d3446d" shape-rendering="crispEdges"/>
<rect x="69.34" y="320.13" width="7.17" height="3.97" fill="#bf3b76" shape-rendering="crispEdges"/>
<rect x="76.01" y="320.13" width="7.17" height="3.97" fill="#be3a76" shape-rendering="crispEdges"/>
<rect x="82.68" y="320.13" width="7.17" height="3.97" fill="#a8327c" shape-rendering="crispEdges"/>
<rect x="89.35" y="320.13" width="7.17" height="3.97" fill="#902a80" shape-rendering="crispEdges"/>
<rect x="96.03" y="320.13" width="7.17" height="3.97" fill="#7b2381" shape-rendering="crispEdges"/>
<rect x="29.3" y="323.6" width="7.17" height="3.97" fill="#431173" shape-rendering="crispEdges"/>
<rect x="35.97" y="323.6" width="7.17" height="3.97" fill="#972c7f" shape-rendering="crispEdges"/>
<rect x="42.65" y="323.6" width="7.17" height="3.97" fill="#b4367a" shape-rendering="crispEdges"/>
<rect x="49.32" y="323.6" width="7.17" height="3.97" fill="#ca4071" shape-rendering="crispEdges"/>
<rect x="55.99" y="323.6" width="7.17" height="3.97" fill="#de4968" shape-rendering="crispEdges"/>
<rect x="62.66" y="323.6" width="7.17" height="3.97" fill="#de4a68" shape-rendering="crispEdges"/>
<rect x="69.34" y="323.6" width="7.17" height="3.97" fill="#ca4071" shape-rendering="crispEdges"/>
<rect x="76.01" y="323.6" width="7.17" height="3.97" fill="#c83f72" shape-rendering="crispEdges"/>
<rect x="82.68" y="323.6" width="7.17" height="3.97" fill="#b1357a" shape-rendering="crispEdges"/>
<rect x="89.35" y="323.6" width="7.17" height="3.97" fill="#972c7f" shape-rendering="crispEdges"/>
<rect x="96.03" y="323.6" width="7.17" height="3.97" fill="#7f2481" shape-rendering="crispEdges"/>
<rect x="29.3" y="327.07" width="7.17" height="3.97" fill="#481275" shape-rendering="crispEdges"/>
<rect x="35.97" y="327.07" width="7.17" height="3.97" fill="#9e2f7e" shape-rendering="crispEdges"/>
<rect x="42.65" y="327.07" width="7.17" height="3.97" fill="#c03b75" shape-rendering="crispEdges"/>
<rect x="49.32" y="327.07" width="7.17" height="3.97" fill="#d8466b" shape-rendering="crispEdges"/>
<rect x="55.99" y="327.07" width="7.17" height="3.97" fill="#e65664" shape-rendering="crispEdges"/>
<rect x="62.66" y="327.07" width="7.17" height="3.97" fill="#e75863" shape-rendering="crispEdges"/>
<rect x="69.34" y="327.07" width="7.17" height="3.97" fill="#d8466b" shape-rendering="crispEdges"/>
<rect x="76.01" y="327.07" width="7.17" height="3.97" fill="#d4446d" shape-rendering="crispEdges"/>
<rect x="82.68" y="327.07" width="7.17" height="3.97" fill="#bc3977" shape-rendering="crispEdges"/>
<rect x="89.35" y="327.07" width="7.17" height="3.97" fill="#9e2f7e" shape-rendering="crispEdges"/>
<rect x="96.03" y="327.07" width="7.17" height="3.97" fill="#852681" shape-rendering="crispEdges"/>
<rect x="29.3" y="330.53" width="7.17" height="3.97" fill="#4e1477" shape-rendering="crispEdges"/>
<rect x="35.97" y="330.53" width="7.17" height="3.97" fill="#a6327c" shape-rendering="crispEdges"/>
<rect x="42.65" y="330.53" width="7.17" height="3.97" fill="#cd416f" shape-rendering="crispEdges"/>
<rect x="49.32" y="330.53" width="7.17" height="3.97" fill="#e35165" shape-rendering="crispEdges"/>
<rect x="55.99" y="330.53" width="7.17" height="3.97" fill="#f0655f" shape-rendering="crispEdges"/>
<rect x="62.66" y="330.53" width="7.17" height="3.97" fill="#f1675f" shape-rendering="crispEdges"/>
<rect x="69.34" y="330.53" width="7.17" height="3.97" fill="#e35165" shape-rendering="crispEdges"/>
<rect x="76.01" y="330.53" width="7.17" height="3.97" fill="#e04b67" shape-rendering="crispEdges"/>
<rect x="82.68" y="330.53" width="7.17" height="3.97" fill="#c73e72" shape-rendering="crispEdges"/>
<rect x="89.35" y="330.53" width="7.17" height="3.97" fill="#a6327c" shape-rendering="crispEdges"/>
<rect x="96.03" y="330.53" width="7.17" height="3.97" fill="#8a2881" shape-rendering="crispEdges"/>
<rect x="29.3" y="334" width="7.17" height="3.97" fill="#54167a" shape-rendering="crispEdges"/>
<rect x="35.97" y="334" width="7.17" height="3.97" fill="#af347b" shape-rendering="crispEdges"/>
<rect x="42.65" y="334" width="7.17" height="3.97" fill="#db4869" shape-rendering="crispEdges"/>
<rect x="49.32" y="334" width="7.17" height="3.97" fill="#ee6161" shape-rendering="crispEdges"/>
<rect x="55.99" y="334" width="7.17" height="3.97" fill="#f8765e" shape-rendering="crispEdges"/>
<rect x="62.66" y="334" width="7.17" height="3.97" fill="#f87a5f" shape-rendering="crispEdges"/>
<rect x="69.34" y="334" width="7.17" height="3.97" fill="#ee6161" shape-rendering="crispEdges"/>
<rect x="76.01" y="334" width="7.17" height="3.97" fill="#e95963" shape-rendering="crispEdges"/>
<rect x="82.68" y="334" width="7.17" height="3.97" fill="#d3446d" shape-rendering="crispEdges"/>
<rect x="89.35" y="334" width="7.17" height="3.97" fill="#af347b" shape-rendering="crispEdges"/>
<rect x="96.03" y="334" width="7.17" height="3.97" fill="#912b80" shape-rendering="crispEdges"/>
<rect x="29.3" y="337.47" width="7.17" height="3.97" fill="#5b177c" shape-rendering="crispEdges"/>
<rect x="35.97" y="337.47" width="7.17" height="3.97" fill="#b83878" shape-rendering="crispEdges"/>
<rect x="42.65" y="337.47" width="7.17" height="3.97" fill="#e65564" shape-rendering="crispEdges"/>
<rect x="49.32" y="337.47" width="7.17" height="3.97" fill="#f7735d" shape-rendering="crispEdges"/>
<rect x="55.99" y="337.47" width="7.17" height="3.97" fill="#fb8a66" shape-rendering="crispEdges"/>
<rect x="62.66" y="337.47" width="7.17" height="3.97" fill="#fc8f67" shape-rendering="crispEdges"/>
<rect x="69.34" y="337.47" width="7.17" height="3.97" fill="#f7735d" shape-rendering="crispEdges"/>
<rect x="76.01" y="337.47" width="7.17" height="3.97" fill="#f2685e" shape-rendering="crispEdges"/>
<rect x="82.68" y="337.47" width="7.17" height="3.97" fill="#df4b67" shape-rendering="crispEdges"/>
<rect x="89.35" y="337.47" width="7.17" height="3.97" fill="#b83878" shape-rendering="crispEdges"/>
<rect x="96.03" y="337.47" width="7.17" height="3.97" fill="#982d7f" shape-rendering="crispEdges"/>
<rect x="29.3" y="340.93" width="7.17" height="3.97" fill="#62197f" shape-rendering="crispEdges"/>
<rect x="35.97" y="340.93" width="7.17" height="3.97" fill="#c13c75" shape-rendering="crispEdges"/>
<rect x="42.65" y="340.93" width="7.17" height="3.97" fill="#f06460" shape-rendering="crispEdges"/>
<rect x="49.32" y="340.93" width="7.17" height="3.97" fill="#fb8865" shape-rendering="crispEdges"/>
<rect x="55.99" y="340.93" width="7.17" height="3.97" fill="#fea06e" shape-rendering="crispEdges"/>
<rect x="62.66" y="340.93" width="7.17" height="3.97" fill="#fea672" shape-rendering="crispEdges"/>
<rect x="69.34" y="340.93" width="7.17" height="3.97" fill="#fb8865" shape-rendering="crispEdges"/>
<rect x="76.01" y="340.93" width="7.17" height="3.97" fill="#f8795f" shape-rendering="crispEdges"/>
<rect x="82.68" y="340.93" width="7.17" height="3.97" fill="#e85863" shape-rendering="crispEdges"/>
<rect x="89.35" y="340.93" width="7.17" height="3.97" fill="#c13c75" shape-rendering="crispEdges"/>
<rect x="96.03" y="340.93" width="7.17" height="3.97" fill="#9f2f7d" shape-rendering="crispEdges"/>
<rect x="29.3" y="344.4" width="7.17" height="3.97" fill="#691c80" shape-rendering="crispEdges"/>
<rect x="35.97" y="344.4" width="7.17" height="3.97" fill="#ca4071" shape-rendering="crispEdges"/>
<rect x="42.65" y="344.4" width="7.17" height="3.97" fill="#f8765e" shape-rendering="crispEdges"/>
<rect x="49.32" y="344.4" width="7.17" height="3.97" fill="#fe9f6d" shape-rendering="crispEdges"/>
<rect x="55.99" y="344.4" width="7.17" height="3.97" fill="#feb77f" shape-rendering="crispEdges"/>
<rect x="62.66" y="344.4" width="7.17" height="3.97" fill="#febe85" shape-rendering="crispEdges"/>
<rect x="69.34" y="344.4" width="7.17" height="3.97" fill="#fe9f6d" shape-rendering="crispEdges"/>
<rect x="76.01" y="344.4" width="7.17" height="3.97" fill="#fb8d67" shape-rendering="crispEdges"/>
<rect x="82.68" y="344.4" width="7.17" height="3.97" fill="#f1665f" shape-rendering="crispEdges"/>
<rect x="89.35" y="344.4" width="7.17" height="3.97" fill="#ca4071" shape-rendering="crispEdges"/>
<rect x="96.03" y="344.4" width="7.17" height="3.97" fill="#a7327c" shape-rendering="crispEdges"/>
<rect x="29.3" y="347.87" width="7.17" height="3.97" fill="#701f80" shape-rendering="crispEdges"/>
<rect x="35.97" y="347.87" width="7.17" height="3.97" fill="#d4446c" shape-rendering="crispEdges"/>
<rect x="42.65" y="347.87" width="7.17" height="3.97" fill="#fb8a65" shape-rendering="crispEdges"/>
<rect x="49.32" y="347.87" width="7.17" height="3.97" fill="#feb67f" shape-rendering="crispEdges"/>
<rect x="55.99" y="347.87" width="7.17" height="3.97" fill="#fece92" shape-rendering="crispEdges"/>
<rect x="62.66" y="347.87" width="7.17" height="3.97" fill="#fed699" shape-rendering="crispEdges"/>
<rect x="69.34" y="347.87" width="7.17" height="3.97" fill="#feb67f" shape-rendering="crispEdges"/>
<rect x="76.01" y="347.87" width="7.17" height="3.97" fill="#fea16f" shape-rendering="crispEdges"/>
<rect x="82.68" y="347.87" width="7.17" height="3.97" fill="#f8755e" shape-rendering="crispEdges"/>
<rect x="89.35" y="347.87" width="7.17" height="3.97" fill="#d4446c" shape-rendering="crispEdges"/>
<rect x="96.03" y="347.87" width="7.17" height="3.97" fill="#af347b" shape-rendering="crispEdges"/>
<rect x="29.3" y="351.33" width="7.17" height="3.97" fill="#782280" shape-rendering="crispEdges"/>
<rect x="35.97" y="351.33" width="7.17" height="3.97" fill="#de4968" shape-rendering="crispEdges"/>
<rect x="42.65" y="351.33" width="7.17" height="3.97" fill="#fe9f6d" shape-rendering="crispEdges"/>
<rect x="49.32" y="351.33" width="7.17" height="3.97" fill="#fecf92" shape-rendering="crispEdges"/>
<rect x="55.99" y="351.33" width="7.17" height="3.97" fill="#fde6a8" shape-rendering="crispEdges"/>
<rect x="62.66" y="351.33" width="7.17" height="3.97" fill="#fdefb1" shape-rendering="crispEdges"/>
<rect x="69.34" y="351.33" width="7.17" height="3.97" fill="#fecf92" shape-rendering="crispEdges"/>
<rect x="76.01" y="351.33" width="7.17" height="3.97" fill="#feb780" shape-rendering="crispEdges"/>
<rect x="82.68" y="351.33" width="7.17" height="3.97" fill="#fa8864" shape-rendering="crispEdges"/>
<rect x="89.35" y="351.33" width="7.17" height="3.97" fill="#de4968" shape-rendering="crispEdges"/>
<rect x="96.03" y="351.33" width="7.17" height="3.97" fill="#b73779" shape-rendering="crispEdges"/>
<rect x="112.2" y="202.5" width="72.7" height="1.5" fill="url(#gr0)" shape-rendering="crispEdges"/>
<rect x="112.2" y="203.5" width="72.7" height="1.5" fill="url(#gr1)" shape-rendering="crispEdges"/>
<rect x="112.2" y="204.5" width="72.7" height="1.5" fill="url(#gr2)" shape-rendering="crispEdges"/>
<rect x="112.2" y="205.5" width="72.7" height="1.5" fill="url(#gr3)" shape-rendering="crispEdges"/>
<rect x="112.2" y="206.5" width="72.7" height="1.5" fill="url(#gr4)" shape-rendering="crispEdges"/>
<rect x="112.2" y="207.5" width="72.7" height="1.5" fill="url(#gr5)" shape-rendering="crispEdges"/>
<rect x="112.2" y="208.5" width="72.7" height="1.5" fill="url(#gr6)" shape-rendering="crispEdges"/>
<rect x="112.2" y="209.5" width="72.7" height="1.5" fill="url(#gr7)" shape-rendering="crispEdges"/>
<rect x="112.2" y="210.5" width="72.7" height="1.5" fill="url(#gr8)" shape-rendering="crispEdges"/>
<rect x="112.2" y="211.5" width="72.7" height="1.5" fill="url(#gr9)" shape-rendering="crispEdges"/>
<rect x="112.2" y="212.5" width="72.7" height="1.5" fill="url(#gr10)" shape-rendering="crispEdges"/>
<rect x="112.2" y="213.5" width="72.7" height="1.5" fill="url(#gr11)" shape-rendering="crispEdges"/>
<rect x="112.2" y="214.5" width="72.7" height="1.5" fill="url(#gr12)" shape-rendering="crispEdges"/>
<rect x="112.2" y="215.5" width="72.7" height="1.5" fill="url(#gr13)" shape-rendering="crispEdges"/>
<rect x="112.2" y="216.5" width="72.7" height="1.5" fill="url(#gr14)" shape-rendering="crispEdges"/>
<rect x="112.2" y="217.5" width="72.7" height="1.5" fill="url(#gr15)" shape-rendering="crispEdges"/>
<rect x="112.2" y="218.5" width="72.7" height="1.5" fill="url(#gr16)" shape-rendering="crispEdges"/>
<rect x="112.2" y="219.5" width="72.7" height="1.5" fill="url(#gr17)" shape-rendering="crispEdges"/>
<rect x="112.2" y="220.5" width="72.7" height="1.5" fill="url(#gr18)" shape-rendering="crispEdges"/>
<rect x="112.2" y="221.5" width="72.7" height="1.5" fill="url(#gr19)" shape-rendering="crispEdges"/>
<rect x="112.2" y="222.5" width="72.7" height="1.5" fill="url(#gr20)" shape-rendering="crispEdges"/>
<rect x="112.2" y="223.5" width="72.7" height="1.5" fill="url(#gr21)" shape-rendering="crispEdges"/>
<rect x="112.2" y="224.5" width="72.7" height="1.5" fill="url(#gr22)" shape-rendering="crispEdges"/>
<rect x="112.2" y="225.5" width="72.7" height="1.5" fill="url(#gr23)" shape-rendering="crispEdges"/>
<rect x="112.2" y="226.5" width="72.7" height="1.5" fill="url(#gr24)" shape-rendering="crispEdges"/>
<rect x="112.2" y="227.5" width="72.7" height="1.5" fill="url(#gr25)" shape-rendering="crispEdges"/>
<rect x="112.2" y="228.5" width="72.7" height="1.5" fill="url(#gr26)" shape-rendering="crispEdges"/>
<rect x="112.2" y="229.5" width="72.7" height="1.5" fill="url(#gr27)" shape-rendering="crispEdges"/>
<rect x="112.2" y="230.5" width="72.7" height="1.5" fill="url(#gr28)" shape-rendering="crispEdges"/>
<rect x="112.2" y="231.5" width="72.7" height="1.5" fill="url(#gr29)" shape-rendering="crispEdges"/>
<rect x="112.2" y="232.5" width="72.7" height="1.5" fill="url(#gr30)" shape-rendering="crispEdges"/>
<rect x="112.2" y="233.5" width="72.7" height="1.5" fill="url(#gr31)" shape-rendering="crispEdges"/>
<rect x="112.2" y="234.5" width="72.7" height="1.5" fill="url(#gr32)" shape-rendering="crispEdges"/>
<rect x="112.2" y="235.5" width="72.7" height="1.5" fill="url(#gr33)" shape-rendering="crispEdges"/>
<rect x="112.2" y="236.5" width="72.7" height="1.5" fill="url(#gr34)" shape-rendering="crispEdges"/>
<rect x="112.2" y="237.5" width="72.7" height="1.5" fill="url(#gr35)" shape-rendering="crispEdges"/>
<rect x="112.2" y="238.5" width="72.7" height="1.5" fill="url(#gr36)" shape-rendering="crispEdges"/>
<rect x="112.2" y="239.5" width="72.7" height="1.5" fill="url(#gr37)" shape-rendering="crispEdges"/>
<rect x="112.2" y="240.5" width="72.7" height="1.5" fill="url(#gr38)" shape-rendering="crispEdges"/>
<rect x="112.2" y="241.5" width="72.7" height="1.5" fill="url(#gr39)" shape-rendering="crispEdges"/>
<rect x="112.2" y="242.5" width="72.7" height="1.5" fill="url(#gr40)" shape-rendering="crispEdges"/>
<rect x="112.2" y="243.5" width="72.7" height="1.5" fill="url(#gr41)" shape-rendering="crispEdges"/>
<rect x="112.2" y="244.5" width="72.7" height="1.5" fill="url(#gr42)" shape-rendering="crispEdges"/>
<rect x="112.2" y="245.5" width="72.7" height="1.5" fill="url(#gr43)" shape-rendering="crispEdges"/>
<rect x="112.2" y="246.5" width="72.7" height="1.5" fill="url(#gr44)" shape-rendering="crispEdges"/>
<rect x="112.2" y="247.5" width="72.7" height="1.5" fill="url(#gr45)" shape-rendering="crispEdges"/>
<rect x="112.2" y="248.5" width="72.7" height="1.5" fill="url(#gr46)" shape-rendering="crispEdges"/>
<rect x="112.2" y="249.5" width="72.7" height="1.5" fill="url(#gr47)" shape-rendering="crispEdges"/>
<rect x="112.2" y="250.5" width="72.7" height="1.5" fill="url(#gr48)" shape-rendering="crispEdges"/>
<rect x="112.2" y="251.5" width="72.7" height="1.5" fill="url(#gr49)" shape-rendering="crispEdges"/>
<rect x="112.2" y="252.5" width="72.7" height="1.5" fill="url(#gr50)" shape-rendering="crispEdges"/>
<rect x="112.2" y="253.5" width="72.7" height="1.5" fill="url(#gr51)" shape-rendering="crispEdges"/>
<rect x="112.2" y="254.5" width="72.7" height="1.5" fill="url(#gr52)" shape-rendering="crispEdges"/>
<rect x="112.2" y="255.5" width="72.7" height="1.5" fill="url(#gr53)" shape-rendering="crispEdges"/>
<rect x="112.2" y="256.5" width="72.7" height="1.5" fill="url(#gr54)" shape-rendering="crispEdges"/>
<rect x="112.2" y="257.5" width="72.7" height="1.5" fill="url(#gr55)" shape-rendering="crispEdges"/>
<rect x="112.2" y="258.5" width="72.7" height="1.5" fill="url(#gr56)" shape-rendering="crispEdges"/>
<rect x="112.2" y="259.5" width="72.7" height="1.5" fill="url(#gr57)" shape-rendering="crispEdges"/>
<rect x="112.2" y="260.5" width="72.7" height="1.5" fill="url(#gr58)" shape-rendering="crispEdges"/>
<rect x="112.2" y="261.5" width="72.7" height="1.5" fill="url(#gr59)" shape-rendering="crispEdges"/>
<rect x="112.2" y="262.5" width="72.7" height="1.5" fill="url(#gr60)" shape-rendering="crispEdges"/>
<rect x="112.2" y="263.5" width="72.7" height="1.5" fill="url(#gr61)" shape-rendering="crispEdges"/>
<rect x="112.2" y="264.5" width="72.7" height="1.5" fill="url(#gr62)" shape-rendering="crispEdges"/>
<rect x="112.2" y="265.5" width="72.7" height="1.5" fill="url(#gr63)" shape-rendering="crispEdges"/>
<rect x="112.2" y="266.5" width="72.7" height="1.5" fill="url(#gr64)" shape-rendering="crispEdges"/>
<rect x="112.2" y="267.5" width="72.7" height="1.5" fill="url(#gr65)" shape-rendering="crispEdges"/>
<rect x="112.2" y="268.5" width="72.7" height="1.5" fill="url(#gr66)" shape-rendering="crispEdges"/>
<rect x="112.2" y="269.5" width="72.7" height="1.5" fill="url(#gr67)" shape-rendering="crispEdges"/>
<rect x="112.2" y="270.5" width="72.7" height="1.5" fill="url(#gr68)" shape-rendering="crispEdges"/>
<rect x="112.2" y="271.5" width="72.7" height="1.5" fill="url(#gr69)" shape-rendering="crispEdges"/>
<rect x="112.2" y="272.5" width="72.7" height="1.5" fill="url(#gr70)" shape-rendering="crispEdges"/>
<rect x="112.2" y="273.5" width="72.7" height="1.5" fill="url(#gr71)" shape-rendering="crispEdges"/>
<rect x="112.2" y="274.5" width="72.7" height="1.5" fill="url(#gr72)" shape-rendering="crispEdges"/>
<rect x="112.2" y="282" width="72.7" height="1.5" fill="url(#gr73)" shape-rendering="crispEdges"/>
<rect x="112.2" y="283" width="72.7" height="1.5" fill="url(#gr74)" shape-rendering="crispEdges"/>
<rect x="112.2" y="283.99" width="72.7" height="1.5" fill="url(#gr75)" shape-rendering="crispEdges"/>
<rect x="112.2" y="284.99" width="72.7" height="1.5" fill="url(#gr76)" shape-rendering="crispEdges"/>
<rect x="112.2" y="285.99" width="72.7" height="1.5" fill="url(#gr77)" shape-rendering="crispEdges"/>
<rect x="112.2" y="286.99" width="72.7" height="1.5" fill="url(#gr78)" shape-rendering="crispEdges"/>
<rect x="112.2" y="287.98" width="72.7" height="1.5" fill="url(#gr79)" shape-rendering="crispEdges"/>
<rect x="112.2" y="288.98" width="72.7" height="1.5" fill="url(#gr80)" shape-rendering="crispEdges"/>
<rect x="112.2" y="289.98" width="72.7" height="1.5" fill="url(#gr81)" shape-rendering="crispEdges"/>
<rect x="112.2" y="290.98" width="72.7" height="1.5" fill="url(#gr82)" shape-rendering="crispEdges"/>
<rect x="112.2" y="291.97" width="72.7" height="1.5" fill="url(#gr83)" shape-rendering="crispEdges"/>
<rect x="112.2" y="292.97" width="72.7" height="1.5" fill="url(#gr84)" shape-rendering="crispEdges"/>
<rect x="112.2" y="293.97" width="72.7" height="1.5" fill="url(#gr85)" shape-rendering="crispEdges"/>
<rect x="112.2" y="294.96" width="72.7" height="1.5" fill="url(#gr86)" shape-rendering="crispEdges"/>
<rect x="112.2" y="295.96" width="72.7" height="1.5" fill="url(#gr87)" shape-rendering="crispEdges"/>
<rect x="112.2" y="296.96" width="72.7" height="1.5" fill="url(#gr88)" shape-rendering="crispEdges"/>
<rect x="112.2" y="297.96" width="72.7" height="1.5" fill="url(#gr89)" shape-rendering="crispEdges"/>
<rect x="112.2" y="298.95" width="72.7" height="1.5" fill="url(#gr90)" shape-rendering="crispEdges"/>
<rect x="112.2" y="299.95" width="72.7" height="1.5" fill="url(#gr91)" shape-rendering="crispEdges"/>
<rect x="112.2" y="300.95" width="72.7" height="1.5" fill="url(#gr92)" shape-rendering="crispEdges"/>
<rect x="112.2" y="301.95" width="72.7" height="1.5" fill="url(#gr93)" shape-rendering="crispEdges"/>
<rect x="112.2" y="302.94" width="72.7" height="1.5" fill="url(#gr94)" shape-rendering="crispEdges"/>
<rect x="112.2" y="303.94" width="72.7" height="1.5" fill="url(#gr95)" shape-rendering="crispEdges"/>
<rect x="112.2" y="304.94" width="72.7" height="1.5" fill="url(#gr96)" shape-rendering="crispEdges"/>
<rect x="112.2" y="305.93" width="72.7" height="1.5" fill="url(#gr97)" shape-rendering="crispEdges"/>
<rect x="112.2" y="306.93" width="72.7" height="1.5" fill="url(#gr98)" shape-rendering="crispEdges"/>
<rect x="112.2" y="307.93" width="72.7" height="1.5" fill="url(#gr99)" shape-rendering="crispEdges"/>
<rect x="112.2" y="308.93" width="72.7" height="1.5" fill="url(#gr100)" shape-rendering="crispEdges"/>
<rect x="112.2" y="309.92" width="72.7" height="1.5" fill="url(#gr101)" shape-rendering="crispEdges"/>
<rect x="112.2" y="310.92" width="72.7" height="1.5" fill="url(#gr102)" shape-rendering="crispEdges"/>
<rect x="112.2" y="311.92" width="72.7" height="1.5" fill="url(#gr103)" shape-rendering="crispEdges"/>
<rect x="112.2" y="312.92" width="72.7" height="1.5" fill="url(#gr104)" shape-rendering="crispEdges"/>
<rect x="112.2" y="313.91" width="72.7" height="1.5" fill="url(#gr105)" shape-rendering="crispEdges"/>
<rect x="112.2" y="314.91" width="72.7" height="1.5" fill="url(#gr106)" shape-rendering="crispEdges"/>
<rect x="112.2" y="315.91" width="72.7" height="1.5" fill="url(#gr107)" shape-rendering="crispEdges"/>
<rect x="112.2" y="316.9" width="72.7" height="1.5" fill="url(#gr108)" shape-rendering="crispEdges"/>
<rect x="112.2" y="317.9" width="72.7" height="1.5" fill="url(#gr109)" shape-rendering="crispEdges"/>
<rect x="112.2" y="318.9" width="72.7" height="1.5" fill="url(#gr110)" shape-rendering="crispEdges"/>
<rect x="112.2" y="319.9" width="72.7" height="1.5" fill="url(#gr111)" shape-rendering="crispEdges"/>
<rect x="112.2" y="320.89" width="72.7" height="1.5" fill="url(#gr112)" shape-rendering="crispEdges"/>
<rect x="112.2" y="321.89" width="72.7" height="1.5" fill="url(#gr113)" shape-rendering="crispEdges"/>
<rect x="112.2" y="322.89" width="72.7" height="1.5" fill="url(#gr114)" shape-rendering="crispEdges"/>
<rect x="112.2" y="323.88" width="72.7" height="1.5" fill="url(#gr115)" shape-rendering="crispEdges"/>
<rect x="112.2" y="324.88" width="72.7" height="1.5" fill="url(#gr116)" shape-rendering="crispEdges"/>
<rect x="112.2" y="325.88" width="72.7" height="1.5" fill="url(#gr117)" shape-rendering="crispEdges"/>
<rect x="112.2" y="326.88" width="72.7" height="1.5" fill="url(#gr118)" shape-rendering="crispEdges"/>
<rect x="112.2" y="327.87" width="72.7" height="1.5" fill="url(#gr119)" shape-rendering="crispEdges"/>
<rect x="112.2" y="328.87" width="72.7" height="1.5" fill="url(#gr120)" shape-rendering="crispEdges"/>
<rect x="112.2" y="329.87" width="72.7" height="1.5" fill="url(#gr121)" shape-rendering="crispEdges"/>
<rect x="112.2" y="330.87" width="72.7" height="1.5" fill="url(#gr122)" shape-rendering="crispEdges"/>
<rect x="112.2" y="331.86" width="72.7" height="1.5" fill="url(#gr123)" shape-rendering="crispEdges"/>
<rect x="112.2" y="332.86" width="72.7" height="1.5" fill="url(#gr124)" shape-rendering="crispEdges"/>
<rect x="112.2" y="333.86" width="72.7" height="1.5" fill="url(#gr125)" shape-rendering="crispEdges"/>
<rect x="112.2" y="334.85" width="72.7" height="1.5" fill="url(#gr126)" shape-rendering="crispEdges"/>
<rect x="112.2" y="335.85" width="72.7" height="1.5" fill="url(#gr127)" shape-rendering="crispEdges"/>
<rect x="112.2" y="336.85" width="72.7" height="1.5" fill="url(#gr128)" shape-rendering="crispEdges"/>
<rect x="112.2" y="337.85" width="72.7" height="1.5" fill="url(#gr129)" shape-rendering="crispEdges"/>
<rect x="112.2" y="338.84" width="72.7" height="1.5" fill="url(#gr130)" shape-rendering="crispEdges"/>
<rect x="112.2" y="339.84" width="72.7" height="1.5" fill="url(#gr131)" shape-rendering="crispEdges"/>
<rect x="112.2" y="340.84" width="72.7" height="1.5" fill="url(#gr132)" shape-rendering="crispEdges"/>
<rect x="112.2" y="341.84" width="72.7" height="1.5" fill="url(#gr133)" shape-rendering="crispEdges"/>
<rect x="112.2" y="342.83" width="72.7" height="1.5" fill="url(#gr134)" shape-rendering="crispEdges"/>
<rect x="112.2" y="343.83" width="72.7" height="1.5" fill="url(#gr135)" shape-rendering="crispEdges"/>
<rect x="112.2" y="344.83" width="72.7" height="1.5" fill="url(#gr136)" shape-rendering="crispEdges"/>
<rect x="112.2" y="345.82" width="72.7" height="1.5" fill="url(#gr137)" shape-rendering="crispEdges"/>
<rect x="112.2" y="346.82" width="72.7" height="1.5" fill="url(#gr138)" shape-rendering="crispEdges"/>
<rect x="112.2" y="347.82" width="72.7" height="1.5" fill="url(#gr139)" shape-rendering="crispEdges"/>
<rect x="112.2" y="348.82" width="72.7" height="1.5" fill="url(#gr140)" shape-rendering="crispEdges"/>
<rect x="112.2" y="349.81" width="72.7" height="1.5" fill="url(#gr141)" shape-rendering="crispEdges"/>
<rect x="112.2" y="350.81" width="72.7" height="1.5" fill="url(#gr142)" shape-rendering="crispEdges"/>
<rect x="112.2" y="351.81" width="72.7" height="1.5" fill="url(#gr143)" shape-rendering="crispEdges"/>
<rect x="112.2" y="352.81" width="72.7" height="1.5" fill="url(#gr144)" shape-rendering="crispEdges"/>
<rect x="112.2" y="353.8" width="72.7" height="1.5" fill="url(#gr145)" shape-rendering="crispEdges"/>
<rect x="29.3" y="202.5" width="73.4" height="73" fill="none" stroke="#3a3a3a" stroke-width="0.6"/>
<rect x="112.2" y="202.5" width="72.7" height="73" fill="none" stroke="#3a3a3a" stroke-width="0.6"/>
<rect x="29.3" y="282" width="73.4" height="72.8" fill="none" stroke="#3a3a3a" stroke-width="0.6"/>
<rect x="112.2" y="282" width="72.7" height="72.8" fill="none" stroke="#3a3a3a" stroke-width="0.6"/>
<circle cx="148.5" cy="203.1" r="0.62" fill="#ffffff"/>
<circle cx="151.25" cy="204.1" r="0.62" fill="#ffffff"/>
<circle cx="154" cy="205.1" r="0.62" fill="#ffffff"/>
<circle cx="156" cy="208.2" r="0.62" fill="#ffffff"/>
<circle cx="157.1" cy="212.3" r="0.62" fill="#ffffff"/>
<circle cx="154.05" cy="213.85" r="0.62" fill="#ffffff"/>
<circle cx="151" cy="215.4" r="0.62" fill="#ffffff"/>
<circle cx="147.9" cy="216.9" r="0.62" fill="#ffffff"/>
<circle cx="144.8" cy="218.4" r="0.62" fill="#ffffff"/>
<circle cx="147.9" cy="220.5" r="0.62" fill="#ffffff"/>
<circle cx="149.95" cy="222" r="0.62" fill="#ffffff"/>
<circle cx="152" cy="223.5" r="0.62" fill="#ffffff"/>
<circle cx="150" cy="226.6" r="0.62" fill="#ffffff"/>
<circle cx="148.9" cy="230.7" r="0.62" fill="#ffffff"/>
<circle cx="150.9" cy="234.8" r="0.62" fill="#ffffff"/>
<circle cx="149.4" cy="236.85" r="0.62" fill="#ffffff"/>
<circle cx="147.9" cy="238.9" r="0.62" fill="#ffffff"/>
<circle cx="148.95" cy="240.95" r="0.62" fill="#ffffff"/>
<circle cx="150" cy="243" r="0.62" fill="#ffffff"/>
<circle cx="148.9" cy="246.1" r="0.62" fill="#ffffff"/>
<circle cx="150.45" cy="248.15" r="0.62" fill="#ffffff"/>
<circle cx="152" cy="250.2" r="0.62" fill="#ffffff"/>
<circle cx="150.9" cy="254.2" r="0.62" fill="#ffffff"/>
<circle cx="149.4" cy="256.8" r="0.62" fill="#ffffff"/>
<circle cx="147.9" cy="259.4" r="0.62" fill="#111111"/>
<circle cx="149.6" cy="261.1" r="0.62" fill="#111111"/>
<circle cx="151.3" cy="262.8" r="0.62" fill="#111111"/>
<circle cx="153" cy="264.5" r="0.62" fill="#111111"/>
<circle cx="150.95" cy="266.05" r="0.62" fill="#111111"/>
<circle cx="148.9" cy="267.6" r="0.62" fill="#111111"/>
<circle cx="150" cy="270.6" r="0.62" fill="#111111"/>
<circle cx="147.4" cy="272.15" r="0.62" fill="#111111"/>
<circle cx="144.8" cy="273.7" r="0.62" fill="#111111"/>
<circle cx="150.6" cy="284" r="0.62" fill="#ffffff"/>
<circle cx="150.67" cy="286.67" r="0.62" fill="#ffffff"/>
<circle cx="150.73" cy="289.33" r="0.62" fill="#ffffff"/>
<circle cx="150.8" cy="292" r="0.62" fill="#ffffff"/>
<circle cx="150.2" cy="295" r="0.62" fill="#ffffff"/>
<circle cx="149.6" cy="298" r="0.62" fill="#ffffff"/>
<circle cx="149.7" cy="301" r="0.62" fill="#ffffff"/>
<circle cx="149.8" cy="304" r="0.62" fill="#ffffff"/>
<circle cx="150.6" cy="307" r="0.62" fill="#ffffff"/>
<circle cx="151.4" cy="310" r="0.62" fill="#ffffff"/>
<circle cx="151.6" cy="312.67" r="0.62" fill="#ffffff"/>
<circle cx="151.8" cy="315.33" r="0.62" fill="#ffffff"/>
<circle cx="152" cy="318" r="0.62" fill="#ffffff"/>
<circle cx="152.05" cy="320.5" r="0.62" fill="#ffffff"/>
<circle cx="152.1" cy="323" r="0.62" fill="#ffffff"/>
<circle cx="152.15" cy="325.5" r="0.62" fill="#ffffff"/>
<circle cx="152.2" cy="328" r="0.62" fill="#ffffff"/>
<circle cx="152.07" cy="330.67" r="0.62" fill="#ffffff"/>
<circle cx="151.93" cy="333.33" r="0.62" fill="#ffffff"/>
<circle cx="151.8" cy="336" r="0.62" fill="#ffffff"/>
<circle cx="151.3" cy="339" r="0.62" fill="#111111"/>
<circle cx="150.8" cy="342" r="0.62" fill="#111111"/>
<circle cx="150.1" cy="345" r="0.62" fill="#111111"/>
<circle cx="149.4" cy="348" r="0.62" fill="#111111"/>
<circle cx="148.6" cy="351" r="0.62" fill="#111111"/>
<circle cx="147.8" cy="354" r="0.62" fill="#111111"/>
<text x="81.9" y="212.3" font-size="8.6" fill="#f2f2f2" text-anchor="start" font-weight="normal" >Raw</text>
<text x="115.6" y="212.3" font-size="8.6" fill="#f2f2f2" text-anchor="start" font-weight="normal" >+ fit</text>
<text x="61" y="292.1" font-size="9" fill="#f2f2f2" text-anchor="start" font-weight="normal" >Proposed</text>
<text x="115.6" y="291.8" font-size="8.6" fill="#f2f2f2" text-anchor="start" font-weight="normal" >+ fit</text>
<line x1="27" y1="202.5" x2="29.3" y2="202.5" stroke="#444" stroke-width="0.6" />
<text x="24" y="205.1" font-size="7.4" fill="#2a2a2a" text-anchor="end" font-weight="normal" >10</text>
<line x1="27" y1="239" x2="29.3" y2="239" stroke="#444" stroke-width="0.6" />
<text x="24" y="241.6" font-size="7.4" fill="#2a2a2a" text-anchor="end" font-weight="normal" >5</text>
<line x1="27" y1="275.5" x2="29.3" y2="275.5" stroke="#444" stroke-width="0.6" />
<text x="24" y="278.1" font-size="7.4" fill="#2a2a2a" text-anchor="end" font-weight="normal" >0</text>
<line x1="27" y1="282" x2="29.3" y2="282" stroke="#444" stroke-width="0.6" />
<text x="24" y="284.6" font-size="7.4" fill="#2a2a2a" text-anchor="end" font-weight="normal" >10</text>
<line x1="27" y1="318.4" x2="29.3" y2="318.4" stroke="#444" stroke-width="0.6" />
<text x="24" y="321" font-size="7.4" fill="#2a2a2a" text-anchor="end" font-weight="normal" >5</text>
<line x1="27" y1="354.8" x2="29.3" y2="354.8" stroke="#444" stroke-width="0.6" />
<text x="24" y="357.4" font-size="7.4" fill="#2a2a2a" text-anchor="end" font-weight="normal" >0</text>
<line x1="33.1" y1="354.8" x2="33.1" y2="357" stroke="#444" stroke-width="0.6" />
<text x="33.1" y="365.6" font-size="7.4" fill="#2a2a2a" text-anchor="middle" font-weight="normal" >480</text>
<line x1="66.5" y1="354.8" x2="66.5" y2="357" stroke="#444" stroke-width="0.6" />
<text x="66.5" y="365.6" font-size="7.4" fill="#2a2a2a" text-anchor="middle" font-weight="normal" >490</text>
<line x1="99.9" y1="354.8" x2="99.9" y2="357" stroke="#444" stroke-width="0.6" />
<text x="99.9" y="365.6" font-size="7.4" fill="#2a2a2a" text-anchor="middle" font-weight="normal" >500</text>
<line x1="116" y1="354.8" x2="116" y2="357" stroke="#444" stroke-width="0.6" />
<text x="116" y="365.6" font-size="7.4" fill="#2a2a2a" text-anchor="middle" font-weight="normal" >480</text>
<line x1="149.4" y1="354.8" x2="149.4" y2="357" stroke="#444" stroke-width="0.6" />
<text x="149.4" y="365.6" font-size="7.4" fill="#2a2a2a" text-anchor="middle" font-weight="normal" >490</text>
<line x1="182.8" y1="354.8" x2="182.8" y2="357" stroke="#444" stroke-width="0.6" />
<text x="182.8" y="365.6" font-size="7.4" fill="#2a2a2a" text-anchor="middle" font-weight="normal" >500</text>
<text x="107" y="378.6" font-size="8.8" fill="#2a2a2a" text-anchor="middle" font-weight="normal" >Wavelength (nm)</text>
<text x="0" y="0" font-size="8.8" fill="#2a2a2a" text-anchor="middle" transform="translate(8.4 278.3) rotate(-90)" >Time (min)</text>
<rect x="192.1" y="203.5" width="7.5" height="145.8" fill="url(#mag)" stroke="#444" stroke-width="0.5"/>
<line x1="199.6" y1="349.3" x2="201.6" y2="349.3" stroke="#444" stroke-width="0.6" />
<text x="203.8" y="351.9" font-size="7.4" fill="#2a2a2a" text-anchor="start" font-weight="normal" >0</text>
<line x1="199.6" y1="307.4" x2="201.6" y2="307.4" stroke="#444" stroke-width="0.6" />
<text x="203.8" y="310" font-size="7.4" fill="#2a2a2a" text-anchor="start" font-weight="normal" >5</text>
<line x1="199.6" y1="265.51" x2="201.6" y2="265.51" stroke="#444" stroke-width="0.6" />
<text x="203.8" y="268.11" font-size="7.4" fill="#2a2a2a" text-anchor="start" font-weight="normal" >10</text>
<line x1="199.6" y1="223.61" x2="201.6" y2="223.61" stroke="#444" stroke-width="0.6" />
<text x="203.8" y="226.21" font-size="7.4" fill="#2a2a2a" text-anchor="start" font-weight="normal" >15</text>
<text x="0" y="0" font-size="8.8" fill="#2a2a2a" text-anchor="middle" transform="translate(218.2 276.8) rotate(90)" >Average EL counts (a.u.)</text>
<path d="M267.6 354.3 L267.6 345.4 L286 344.2 L305 342.4 L323 339.6 L341.5 336.2 L348 335.5 L354 335.3 L361 336.4 L370 339.3 L380 342.4 L389 344.6 L398.6 345.9 L408 346.8 L417 348.1 L426 350.3 L435.3 352.9 L444 353.9 L454 354.2 L454 354.3 Z" fill="#c9c9c9" stroke="none" stroke-width="1" />
<polyline points="267.6,345.4 286,344.2 305,342.4 323,339.6 341.5,336.2 348,335.5 354,335.3 361,336.4 370,339.3 380,342.4 389,344.6 398.6,345.9 408,346.8 417,348.1 426,350.3 435.3,352.9 444,353.9 454,354.2" fill="none" stroke="#1a1a1a" stroke-width="0.9" />
<line x1="267.6" y1="202.8" x2="454.3" y2="202.8" stroke="#8a8a8a" stroke-width="0.8" />
<line x1="454.3" y1="202.8" x2="454.3" y2="354.3" stroke="#8a8a8a" stroke-width="0.8" />
<line x1="267.6" y1="202.8" x2="267.6" y2="354.3" stroke="#777" stroke-width="0.9" />
<line x1="267.6" y1="328.7" x2="454.3" y2="328.7" stroke="#aaa" stroke-width="1.4" />
<line x1="267.6" y1="354.3" x2="454.3" y2="354.3" stroke="#555" stroke-width="0.9" />
<line x1="265.2" y1="213.6" x2="267.6" y2="213.6" stroke="#555" stroke-width="0.6" />
<text x="262.6" y="216.2" font-size="7.4" fill="#2a2a2a" text-anchor="end" font-weight="normal" >100</text>
<line x1="265.2" y1="249.7" x2="267.6" y2="249.7" stroke="#555" stroke-width="0.6" />
<text x="262.6" y="252.3" font-size="7.4" fill="#2a2a2a" text-anchor="end" font-weight="normal" >90</text>
<line x1="265.2" y1="285.8" x2="267.6" y2="285.8" stroke="#555" stroke-width="0.6" />
<text x="262.6" y="288.4" font-size="7.4" fill="#2a2a2a" text-anchor="end" font-weight="normal" >80</text>
<line x1="265.2" y1="321.9" x2="267.6" y2="321.9" stroke="#555" stroke-width="0.6" />
<text x="262.6" y="324.5" font-size="7.4" fill="#2a2a2a" text-anchor="end" font-weight="normal" >70</text>
<line x1="267.9" y1="354.3" x2="267.9" y2="356.5" stroke="#555" stroke-width="0.6" />
<line x1="267.9" y1="326.9" x2="267.9" y2="328.7" stroke="#666" stroke-width="0.6" />
<text x="267.9" y="365.9" font-size="7.4" fill="#2a2a2a" text-anchor="middle" font-weight="normal" >10</text>
<line x1="305.1" y1="354.3" x2="305.1" y2="356.5" stroke="#555" stroke-width="0.6" />
<line x1="305.1" y1="326.9" x2="305.1" y2="328.7" stroke="#666" stroke-width="0.6" />
<text x="305.1" y="365.9" font-size="7.4" fill="#2a2a2a" text-anchor="middle" font-weight="normal" >8</text>
<line x1="342.3" y1="354.3" x2="342.3" y2="356.5" stroke="#555" stroke-width="0.6" />
<line x1="342.3" y1="326.9" x2="342.3" y2="328.7" stroke="#666" stroke-width="0.6" />
<text x="342.3" y="365.9" font-size="7.4" fill="#2a2a2a" text-anchor="middle" font-weight="normal" >6</text>
<line x1="379.5" y1="354.3" x2="379.5" y2="356.5" stroke="#555" stroke-width="0.6" />
<line x1="379.5" y1="326.9" x2="379.5" y2="328.7" stroke="#666" stroke-width="0.6" />
<text x="379.5" y="365.9" font-size="7.4" fill="#2a2a2a" text-anchor="middle" font-weight="normal" >4</text>
<line x1="416.7" y1="354.3" x2="416.7" y2="356.5" stroke="#555" stroke-width="0.6" />
<line x1="416.7" y1="326.9" x2="416.7" y2="328.7" stroke="#666" stroke-width="0.6" />
<text x="416.7" y="365.9" font-size="7.4" fill="#2a2a2a" text-anchor="middle" font-weight="normal" >2</text>
<line x1="453.9" y1="354.3" x2="453.9" y2="356.5" stroke="#555" stroke-width="0.6" />
<line x1="453.9" y1="326.9" x2="453.9" y2="328.7" stroke="#666" stroke-width="0.6" />
<text x="453.9" y="365.9" font-size="7.4" fill="#2a2a2a" text-anchor="middle" font-weight="normal" >0</text>
<line x1="265.2" y1="354.3" x2="267.6" y2="354.3" stroke="#555" stroke-width="0.6" />
<line x1="265.2" y1="340.2" x2="267.6" y2="340.2" stroke="#555" stroke-width="0.6" />
<text x="262.8" y="356.9" font-size="7.4" fill="#2a2a2a" text-anchor="end" font-weight="normal" >0</text>
<text x="258.9" y="342.3" font-size="7" fill="#2a2a2a" text-anchor="end" font-weight="normal" >10</text>
<text x="259.3" y="338.6" font-size="4.6" fill="#2a2a2a" text-anchor="start" font-weight="normal" >5</text>
<text x="361" y="378.7" font-size="9" fill="#2a2a2a" text-anchor="middle" font-weight="normal" >Average photon counts</text>
<text x="0" y="0" font-size="9" fill="#2a2a2a" text-anchor="middle" transform="translate(243.3 265.5) rotate(-90)" >Success rate of fitting (%)</text>
<text x="0" y="0" font-size="8.8" fill="#2a2a2a" text-anchor="middle" transform="translate(246.9 340.9) rotate(-90)" >Pixels</text>
<polyline points="267.9,214.3 290,214.5 310,214.8 330,215.2 340,215.5 350.6,216.2 361.2,217.9 371.9,220.4 382.5,224.9 393.1,231.6 403.7,239.2 410.8,246.6 417.9,255 425,265.4 430.3,272.9 433.8,277.6 437.3,283.3 442,286.4 445.5,298.6 449,307 451.5,308.3 454,308.4" fill="none" stroke="#f26868" stroke-width="0.9" />
<polyline points="267.9,213.6 430,213.6 437,214 443.9,215 448,215.8 454,216.6" fill="none" stroke="#1f8fc0" stroke-width="0.9" />
<circle cx="267.9" cy="214.3" r="1.3" fill="#f26868"/>
<circle cx="271.62" cy="214.33" r="1.3" fill="#f26868"/>
<circle cx="275.34" cy="214.37" r="1.3" fill="#f26868"/>
<circle cx="279.06" cy="214.4" r="1.3" fill="#f26868"/>
<circle cx="282.78" cy="214.43" r="1.3" fill="#f26868"/>
<circle cx="286.5" cy="214.47" r="1.3" fill="#f26868"/>
<circle cx="290.22" cy="214.5" r="1.3" fill="#f26868"/>
<circle cx="293.94" cy="214.56" r="1.3" fill="#f26868"/>
<circle cx="297.66" cy="214.61" r="1.3" fill="#f26868"/>
<circle cx="301.38" cy="214.67" r="1.3" fill="#f26868"/>
<circle cx="305.1" cy="214.73" r="1.3" fill="#f26868"/>
<circle cx="308.82" cy="214.78" r="1.3" fill="#f26868"/>
<circle cx="312.54" cy="214.85" r="1.3" fill="#f26868"/>
<circle cx="316.26" cy="214.93" r="1.3" fill="#f26868"/>
<circle cx="319.98" cy="215" r="1.3" fill="#f26868"/>
<circle cx="323.7" cy="215.07" r="1.3" fill="#f26868"/>
<circle cx="327.42" cy="215.15" r="1.3" fill="#f26868"/>
<circle cx="331.14" cy="215.23" r="1.3" fill="#f26868"/>
<circle cx="334.86" cy="215.35" r="1.3" fill="#f26868"/>
<circle cx="338.58" cy="215.46" r="1.3" fill="#f26868"/>
<circle cx="342.3" cy="215.65" r="1.3" fill="#f26868"/>
<circle cx="346.02" cy="215.9" r="1.3" fill="#f26868"/>
<circle cx="349.74" cy="216.14" r="1.3" fill="#f26868"/>
<circle cx="353.46" cy="216.66" r="1.3" fill="#f26868"/>
<circle cx="357.18" cy="217.26" r="1.3" fill="#f26868"/>
<circle cx="360.9" cy="217.85" r="1.3" fill="#f26868"/>
<circle cx="364.62" cy="218.7" r="1.3" fill="#f26868"/>
<circle cx="368.34" cy="219.57" r="1.3" fill="#f26868"/>
<circle cx="372.06" cy="220.47" r="1.3" fill="#f26868"/>
<circle cx="375.78" cy="222.05" r="1.3" fill="#f26868"/>
<circle cx="379.5" cy="223.63" r="1.3" fill="#f26868"/>
<circle cx="383.22" cy="225.36" r="1.3" fill="#f26868"/>
<circle cx="386.94" cy="227.71" r="1.3" fill="#f26868"/>
<circle cx="390.66" cy="230.06" r="1.3" fill="#f26868"/>
<circle cx="394.38" cy="232.52" r="1.3" fill="#f26868"/>
<circle cx="398.1" cy="235.18" r="1.3" fill="#f26868"/>
<circle cx="401.82" cy="237.85" r="1.3" fill="#f26868"/>
<circle cx="405.54" cy="241.12" r="1.3" fill="#f26868"/>
<circle cx="409.26" cy="244.99" r="1.3" fill="#f26868"/>
<circle cx="412.98" cy="249.18" r="1.3" fill="#f26868"/>
<circle cx="416.7" cy="253.58" r="1.3" fill="#f26868"/>
<circle cx="420.42" cy="258.69" r="1.3" fill="#f26868"/>
<circle cx="424.14" cy="264.14" r="1.3" fill="#f26868"/>
<circle cx="427.86" cy="269.45" r="1.3" fill="#f26868"/>
<circle cx="431.58" cy="274.62" r="1.3" fill="#f26868"/>
<circle cx="435.3" cy="280.04" r="1.3" fill="#f26868"/>
<circle cx="439.02" cy="284.43" r="1.3" fill="#f26868"/>
<circle cx="442.74" cy="288.98" r="1.3" fill="#f26868"/>
<circle cx="446.46" cy="300.9" r="1.3" fill="#f26868"/>
<circle cx="450.18" cy="307.61" r="1.3" fill="#f26868"/>
<circle cx="453.9" cy="308.4" r="1.3" fill="#f26868"/>
<circle cx="267.9" cy="213.6" r="1.2" fill="#1f8fc0"/>
<circle cx="271.62" cy="213.6" r="1.2" fill="#1f8fc0"/>
<circle cx="275.34" cy="213.6" r="1.2" fill="#1f8fc0"/>
<circle cx="279.06" cy="213.6" r="1.2" fill="#1f8fc0"/>
<circle cx="282.78" cy="213.6" r="1.2" fill="#1f8fc0"/>
<circle cx="286.5" cy="213.6" r="1.2" fill="#1f8fc0"/>
<circle cx="290.22" cy="213.6" r="1.2" fill="#1f8fc0"/>
<circle cx="293.94" cy="213.6" r="1.2" fill="#1f8fc0"/>
<circle cx="297.66" cy="213.6" r="1.2" fill="#1f8fc0"/>
<circle cx="301.38" cy="213.6" r="1.2" fill="#1f8fc0"/>
<circle cx="305.1" cy="213.6" r="1.2" fill="#1f8fc0"/>
<circle cx="308.82" cy="213.6" r="1.2" fill="#1f8fc0"/>
<circle cx="312.54" cy="213.6" r="1.2" fill="#1f8fc0"/>
<circle cx="316.26" cy="213.6" r="1.2" fill="#1f8fc0"/>
<circle cx="319.98" cy="213.6" r="1.2" fill="#1f8fc0"/>
<circle cx="323.7" cy="213.6" r="1.2" fill="#1f8fc0"/>
<circle cx="327.42" cy="213.6" r="1.2" fill="#1f8fc0"/>
<circle cx="331.14" cy="213.6" r="1.2" fill="#1f8fc0"/>
<circle cx="334.86" cy="213.6" r="1.2" fill="#1f8fc0"/>
<circle cx="338.58" cy="213.6" r="1.2" fill="#1f8fc0"/>
<circle cx="342.3" cy="213.6" r="1.2" fill="#1f8fc0"/>
<circle cx="346.02" cy="213.6" r="1.2" fill="#1f8fc0"/>
<circle cx="349.74" cy="213.6" r="1.2" fill="#1f8fc0"/>
<circle cx="353.46" cy="213.6" r="1.2" fill="#1f8fc0"/>
<circle cx="357.18" cy="213.6" r="1.2" fill="#1f8fc0"/>
<circle cx="360.9" cy="213.6" r="1.2" fill="#1f8fc0"/>
<circle cx="364.62" cy="213.6" r="1.2" fill="#1f8fc0"/>
<circle cx="368.34" cy="213.6" r="1.2" fill="#1f8fc0"/>
<circle cx="372.06" cy="213.6" r="1.2" fill="#1f8fc0"/>
<circle cx="375.78" cy="213.6" r="1.2" fill="#1f8fc0"/>
<circle cx="379.5" cy="213.6" r="1.2" fill="#1f8fc0"/>
<circle cx="383.22" cy="213.6" r="1.2" fill="#1f8fc0"/>
<circle cx="386.94" cy="213.6" r="1.2" fill="#1f8fc0"/>
<circle cx="390.66" cy="213.6" r="1.2" fill="#1f8fc0"/>
<circle cx="394.38" cy="213.6" r="1.2" fill="#1f8fc0"/>
<circle cx="398.1" cy="213.6" r="1.2" fill="#1f8fc0"/>
<circle cx="401.82" cy="213.6" r="1.2" fill="#1f8fc0"/>
<circle cx="405.54" cy="213.6" r="1.2" fill="#1f8fc0"/>
<circle cx="409.26" cy="213.6" r="1.2" fill="#1f8fc0"/>
<circle cx="412.98" cy="213.6" r="1.2" fill="#1f8fc0"/>
<circle cx="416.7" cy="213.6" r="1.2" fill="#1f8fc0"/>
<circle cx="420.42" cy="213.6" r="1.2" fill="#1f8fc0"/>
<circle cx="424.14" cy="213.6" r="1.2" fill="#1f8fc0"/>
<circle cx="427.86" cy="213.6" r="1.2" fill="#1f8fc0"/>
<circle cx="431.58" cy="213.69" r="1.2" fill="#1f8fc0"/>
<circle cx="435.3" cy="213.9" r="1.2" fill="#1f8fc0"/>
<circle cx="439.02" cy="214.29" r="1.2" fill="#1f8fc0"/>
<circle cx="442.74" cy="214.83" r="1.2" fill="#1f8fc0"/>
<circle cx="446.46" cy="215.5" r="1.2" fill="#1f8fc0"/>
<circle cx="450.18" cy="216.09" r="1.2" fill="#1f8fc0"/>
<circle cx="453.9" cy="216.59" r="1.2" fill="#1f8fc0"/>
<line x1="400.2" y1="220.4" x2="413" y2="220.4" stroke="#f26868" stroke-width="0.9" />
<circle cx="406.6" cy="220.4" r="1.1" fill="#f26868"/>
<text x="415.6" y="223.3" font-size="8.6" fill="#2a2a2a" text-anchor="start" font-weight="normal" >Raw</text>
<line x1="400.2" y1="232.5" x2="413" y2="232.5" stroke="#1f8fc0" stroke-width="0.9" />
<circle cx="406.6" cy="232.5" r="1.1" fill="#1f8fc0"/>
<text x="415.6" y="234.9" font-size="8.6" fill="#2a2a2a" text-anchor="start" font-weight="normal" >Proposed</text>
<rect x="295.2" y="242.4" width="84.7" height="65.8" fill="#fff" />
<polyline points="295.2,264.1 298.3,266.2 301.5,270.4 305.7,274.6 309.9,276.7 314.1,276.7 318.3,276.1 322.5,277.4 326.7,278.8 330.9,280.3 335.1,280.9 339.3,280.5 343.5,279.5 346.6,278.8 349.8,279.9 352.6,280.9 358.9,282.6 365.2,284.1 371.5,286.2 377.8,288.3 379.9,288.7" fill="none" stroke="#1a1a1a" stroke-width="0.9" />
<polyline points="295.2,261 299.4,261.6 303.6,265.2 307.8,269.4 312,272.5 316.2,275.3 320.4,277.8 324.6,279.9 328.8,282 333,284.1 337.2,285.8 341.4,287.2 345.6,288.3 349.8,289.3 352.6,290 358.9,291.4 365.2,292.5 371.5,293.5 377.8,294.6 379.9,295" fill="none" stroke="#ec4f7c" stroke-width="0.8" />
<circle cx="295.2" cy="261" r="1.05" fill="#ec4f7c"/>
<circle cx="299.44" cy="261.63" r="1.05" fill="#ec4f7c"/>
<circle cx="303.67" cy="265.27" r="1.05" fill="#ec4f7c"/>
<circle cx="307.9" cy="269.48" r="1.05" fill="#ec4f7c"/>
<circle cx="312.14" cy="272.59" r="1.05" fill="#ec4f7c"/>
<circle cx="316.38" cy="275.4" r="1.05" fill="#ec4f7c"/>
<circle cx="320.61" cy="277.91" r="1.05" fill="#ec4f7c"/>
<circle cx="324.84" cy="280.02" r="1.05" fill="#ec4f7c"/>
<circle cx="329.08" cy="282.14" r="1.05" fill="#ec4f7c"/>
<circle cx="333.31" cy="284.23" r="1.05" fill="#ec4f7c"/>
<circle cx="337.55" cy="285.92" r="1.05" fill="#ec4f7c"/>
<circle cx="341.78" cy="287.3" r="1.05" fill="#ec4f7c"/>
<circle cx="346.02" cy="288.4" r="1.05" fill="#ec4f7c"/>
<circle cx="350.25" cy="289.41" r="1.05" fill="#ec4f7c"/>
<circle cx="354.49" cy="290.42" r="1.05" fill="#ec4f7c"/>
<circle cx="358.72" cy="291.36" r="1.05" fill="#ec4f7c"/>
<circle cx="362.96" cy="292.11" r="1.05" fill="#ec4f7c"/>
<circle cx="367.19" cy="292.82" r="1.05" fill="#ec4f7c"/>
<circle cx="371.43" cy="293.49" r="1.05" fill="#ec4f7c"/>
<circle cx="375.66" cy="294.23" r="1.05" fill="#ec4f7c"/>
<circle cx="379.9" cy="295" r="1.05" fill="#ec4f7c"/>
<line x1="325.6" y1="271.1" x2="333" y2="271.1" stroke="#ec4f7c" stroke-width="1.1" />
<path d="M335.4 271.1 L331.8 269.2 L331.8 273.0 Z" fill="#ec4f7c" stroke="none" stroke-width="1" />
<line x1="310.2" y1="284.7" x2="317.2" y2="284.7" stroke="#3c4d7c" stroke-width="1.1" />
<path d="M307.8 284.7 L311.4 282.8 L311.4 286.6 Z" fill="#3c4d7c" stroke="none" stroke-width="1" />
<line x1="295.2" y1="242.4" x2="379.9" y2="242.4" stroke="#666" stroke-width="0.7" />
<line x1="295.2" y1="242.4" x2="295.2" y2="308.2" stroke="#444" stroke-width="0.7" />
<line x1="379.9" y1="242.4" x2="379.9" y2="308.2" stroke="#888" stroke-width="0.7" />
<line x1="295.2" y1="308.2" x2="379.9" y2="308.2" stroke="#444" stroke-width="0.7" />
<line x1="293.7" y1="308.2" x2="295.2" y2="308.2" stroke="#444" stroke-width="0.5" />
<text x="292.6" y="310.2" font-size="5.6" fill="#2a2a2a" text-anchor="end" font-weight="normal" >0</text>
<line x1="293.7" y1="289.3" x2="295.2" y2="289.3" stroke="#444" stroke-width="0.5" />
<text x="292.6" y="291.3" font-size="5.6" fill="#2a2a2a" text-anchor="end" font-weight="normal" >1</text>
<line x1="293.7" y1="270.4" x2="295.2" y2="270.4" stroke="#444" stroke-width="0.5" />
<text x="292.6" y="272.4" font-size="5.6" fill="#2a2a2a" text-anchor="end" font-weight="normal" >2</text>
<line x1="293.7" y1="251.5" x2="295.2" y2="251.5" stroke="#444" stroke-width="0.5" />
<text x="292.6" y="253.5" font-size="5.6" fill="#2a2a2a" text-anchor="end" font-weight="normal" >3</text>
<line x1="379.9" y1="308.2" x2="381.4" y2="308.2" stroke="#666" stroke-width="0.5" />
<text x="382.6" y="310.2" font-size="5.6" fill="#2a2a2a" text-anchor="start" font-weight="normal" >0</text>
<line x1="379.9" y1="275.3" x2="381.4" y2="275.3" stroke="#666" stroke-width="0.5" />
<text x="382.6" y="277.3" font-size="5.6" fill="#2a2a2a" text-anchor="start" font-weight="normal" >40</text>
<line x1="379.9" y1="242.4" x2="381.4" y2="242.4" stroke="#666" stroke-width="0.5" />
<text x="382.6" y="244.4" font-size="5.6" fill="#2a2a2a" text-anchor="start" font-weight="normal" >80</text>
<line x1="295.2" y1="308.2" x2="295.2" y2="309.7" stroke="#444" stroke-width="0.5" />
<text x="295.2" y="315.8" font-size="5.6" fill="#2a2a2a" text-anchor="middle" font-weight="normal" >0</text>
<line x1="337.55" y1="308.2" x2="337.55" y2="309.7" stroke="#444" stroke-width="0.5" />
<text x="337.55" y="315.8" font-size="5.6" fill="#2a2a2a" text-anchor="middle" font-weight="normal" >5</text>
<line x1="379.9" y1="308.2" x2="379.9" y2="309.7" stroke="#444" stroke-width="0.5" />
<text x="379.9" y="315.8" font-size="5.6" fill="#2a2a2a" text-anchor="middle" font-weight="normal" >10</text>
<text x="337.6" y="324.1" font-size="6.8" fill="#2a2a2a" text-anchor="middle" font-weight="normal" >Time (min)</text>
<text x="0" y="0" font-size="6.8" fill="#2a2a2a" text-anchor="middle" transform="translate(276.3 275.4) rotate(-90)" >Current density</text>
<text x="0" y="0" font-size="6.8" fill="#2a2a2a" text-anchor="middle" transform="translate(284.7 275.2) rotate(-90)" >(mA cm<tspan font-size="4.5" dy="-2.5">−2</tspan><tspan dy="2.5">)</tspan></text>
<text x="0" y="0" font-size="6.8" fill="#ec4f7c" text-anchor="middle" transform="translate(395.6 274.1) rotate(90)" >Luminance (cd m<tspan font-size="4.5" dy="-2.5">−2</tspan><tspan dy="2.5">)</tspan></text>
<g clip-path="url(#chu)"><polyline points="502.5,249.59 511.42,266.49 520.33,251.47 529.25,230.81 538.16,240.2 547.08,221.42 555.99,243.33 564.9,233.94 573.82,193.25 582.74,252.72 591.65,224.55 600.56,240.2 609.48,258.98 618.39,230.81 627.31,246.46 636.22,218.29 645.14,249.59 654.05,233.94 662.97,243.33 671.88,227.68 680.8,237.07" fill="none" stroke="#f27a7a" stroke-width="0.8"/><polyline points="502.5,237.07 511.42,228.93 520.33,246.46 529.25,224.55 538.16,183.86 547.08,249.59 555.99,230.81 564.9,255.85 573.82,237.07 582.74,190.12 591.65,243.33 600.56,233.94 609.48,215.16 618.39,252.72 627.31,240.2 636.22,230.81 645.14,258.98 654.05,224.55 662.97,240.2 671.88,249.59 680.8,233.94" fill="none" stroke="#f27a7a" stroke-width="0.8"/><polyline points="502.5,243.33 511.42,237.07 520.33,233.94 529.25,252.72 538.16,237.07 547.08,227.68 555.99,240.2 564.9,218.29 573.82,262.11 582.74,233.94 591.65,249.59 600.56,190.12 609.48,246.46 618.39,227.68 627.31,237.07 636.22,252.72 645.14,221.42 654.05,237.07 662.97,258.98 671.88,302.8 680.8,327.84" fill="none" stroke="#f27a7a" stroke-width="0.8"/><polyline points="502.5,233.94 511.42,249.59 520.33,240.2 529.25,246.46 538.16,224.55 547.08,240.2 555.99,221.42 564.9,240.2 573.82,227.68 582.74,255.85 591.65,224.55 600.56,243.33 609.48,230.81 618.39,268.37 627.31,227.68 636.22,246.46 645.14,233.94 654.05,255.85 662.97,224.55 671.88,240.2 680.8,230.81" fill="none" stroke="#f27a7a" stroke-width="0.8"/><polyline points="502.5,240.2 511.42,246.46 520.33,227.68 529.25,237.07 538.16,252.72 547.08,233.94 555.99,249.59 564.9,199.51 573.82,240.2 582.74,230.81 591.65,252.72 600.56,237.07 609.48,183.86 618.39,240.2 627.31,212.03 636.22,233.94 645.14,243.33 654.05,237.07 662.97,249.59 671.88,233.94 680.8,246.46" fill="none" stroke="#f27a7a" stroke-width="0.8"/><polyline points="502.5,246.46 511.42,233.94 520.33,237.07 529.25,243.33 538.16,233.94 547.08,246.46 555.99,237.07 564.9,246.46 573.82,230.81 582.74,240.2 591.65,202.64 600.56,258.98 609.48,237.07 618.39,227.68 627.31,249.59 636.22,240.2 645.14,196.38 654.05,246.46 662.97,230.81 671.88,243.33 680.8,237.07" fill="none" stroke="#f27a7a" stroke-width="0.8"/><polyline points="502.5,240.46 511.42,240.14 520.33,238.94 529.25,239.93 538.16,239.52 547.08,235.44 555.99,234.23 564.9,231.7 573.82,230.68 582.74,230.57 591.65,231.72 600.56,234.57 609.48,237.05 618.39,237.89 627.31,237.76 636.22,236.81 645.14,233.22 654.05,230.93 662.97,230.2 671.88,228.71 680.8,231.02" fill="none" stroke="#2186b4" stroke-width="0.9"/><polyline points="502.5,240.35 511.42,239.02 520.33,236.73 529.25,233.19 538.16,235.74 547.08,236.29 555.99,238.51 564.9,239.97 573.82,239.3 582.74,237.85 591.65,234.36 600.56,230.81 609.48,229.08 618.39,228.07 627.31,229.45 636.22,235.1 645.14,237.16 654.05,240.93 662.97,241.06 671.88,238.98 680.8,235.51" fill="none" stroke="#2186b4" stroke-width="0.9"/><polyline points="502.5,238.83 511.42,240.39 520.33,239.98 529.25,236.75 538.16,235.02 547.08,232.86 555.99,229.33 564.9,230.32 573.82,234.91 582.74,236.86 591.65,239.74 600.56,241.67 609.48,237.29 618.39,235.51 627.31,233.22 636.22,228.92 645.14,228.24 654.05,228.59 662.97,233.71 671.88,235.07 680.8,238.26" fill="none" stroke="#2186b4" stroke-width="0.9"/><polyline points="502.5,239.49 511.42,237.83 520.33,237.17 529.25,237.88 538.16,236.88 547.08,238.29 555.99,239.57 564.9,238.73 573.82,235.72 582.74,235.67 591.65,230.28 600.56,231.64 609.48,229.54 618.39,230.93 627.31,233.21 636.22,238.36 645.14,239.21 654.05,239.62 662.97,239.84 671.88,234.08 680.8,231.75" fill="none" stroke="#2186b4" stroke-width="0.9"/><polyline points="502.5,240.19 511.42,239.7 520.33,237.55 529.25,236.68 538.16,231.39 547.08,233.17 555.99,232.19 564.9,232.99 573.82,236.19 582.74,236.14 591.65,238.05 600.56,239.53 609.48,236.53 618.39,233.12 627.31,233.25 636.22,230.36 645.14,230.74 654.05,229.7 662.97,233.84 671.88,237.04 680.8,238.86" fill="none" stroke="#2186b4" stroke-width="0.9"/><polyline points="502.5,238.36 511.42,240.15 520.33,238.3 529.25,238.93 538.16,240.53 547.08,240.69 555.99,238.83 564.9,237.16 573.82,234.3 582.74,228.61 591.65,227.07 600.56,229.82 609.48,231.44 618.39,237.72 627.31,237.56 636.22,241.69 645.14,240.76 654.05,235.99 662.97,235.84 671.88,231.16 680.8,229.91" fill="none" stroke="#2186b4" stroke-width="0.9"/></g>
<rect x="643.4" y="245.2" width="28" height="29.1" fill="#fff" stroke="#555" stroke-width="0.8"/>
<path d="M655.3 252 L656.5 254.5 L658 256 L659.5 259.4 L662 260 L663.2 260.8 L663.6 263 L665 264.8 M659.5 259.4 L657.5 262 L655.5 263.5 L653.7 265.7 L651.2 267.8 M662 260 L663.5 259 M656 257 L657.5 256.3" fill="none" stroke="#f3a3a3" stroke-width="0.9" />
<ellipse cx="654.2" cy="266.6" rx="2.3" ry="1.9" fill="#f3a3a3"/>
<ellipse cx="652.6" cy="268.3" rx="1.5" ry="1.2" fill="#f5b0b0"/>
<line x1="515" y1="269.6" x2="521.8" y2="269.6" stroke="#f5a0a0" stroke-width="1" />
<text x="525.6" y="272.8" font-size="8.6" fill="#2a2a2a" text-anchor="start" font-weight="normal" >Raw</text>
<line x1="554" y1="269.5" x2="561.2" y2="269.5" stroke="#7cc4de" stroke-width="1" />
<text x="564.4" y="272.7" font-size="8.9" fill="#2a2a2a" text-anchor="start" font-weight="normal" >Proposed</text>
<path d="M502.5 328.6 L510.8 321.1 L521.5 313.5 L532.3 307.1 L543.1 302.8 L553.9 300.6 L564.6 299.5 L575.4 298.9 L586.2 298.5 L596.5 297.2 L610 295.5 L623 294 L636 293 L649.5 292 L662.7 292.3 L672 291.2 L680.8 290.6 L680.8 346.5 L670.7 342.4 L660 340.2 L649.5 338.2 L636 335.8 L623 334 L610 333 L596.5 331.5 L586.2 328.6 L575.4 327.5 L564.6 327.1 L553.9 327.1 L543.1 327.5 L532.3 329.7 L521.5 334 L510.8 341.6 L502.5 347 Z" fill="#abd9e6" stroke="none" stroke-width="1" />
<polyline points="502.5,339 509.7,333.6 517.2,328 524.8,323.2 532.3,320 539.9,317.9 547,316.8 554.5,315.7 562,315.3 569.4,315.1 576.9,315.1 584.6,315.8 591.2,316.3 599.1,316.3 606.6,315.8 613.7,315.8 621.1,316.6 628.8,317.6 636.2,318.2 643.7,318.2 650.8,318.4 658.8,318.9 665.9,319.7 673.9,321.1 680.8,321.9" fill="none" stroke="#1a85ad" stroke-width="0.9" />
<circle cx="502.5" cy="339" r="1.25" fill="#1a85ad"/>
<circle cx="509.7" cy="333.6" r="1.25" fill="#1a85ad"/>
<circle cx="517.2" cy="328" r="1.25" fill="#1a85ad"/>
<circle cx="524.8" cy="323.2" r="1.25" fill="#1a85ad"/>
<circle cx="532.3" cy="320" r="1.25" fill="#1a85ad"/>
<circle cx="539.9" cy="317.9" r="1.25" fill="#1a85ad"/>
<circle cx="547" cy="316.8" r="1.25" fill="#1a85ad"/>
<circle cx="554.5" cy="315.7" r="1.25" fill="#1a85ad"/>
<circle cx="562" cy="315.3" r="1.25" fill="#1a85ad"/>
<circle cx="569.4" cy="315.1" r="1.25" fill="#1a85ad"/>
<circle cx="576.9" cy="315.1" r="1.25" fill="#1a85ad"/>
<circle cx="584.6" cy="315.8" r="1.25" fill="#1a85ad"/>
<circle cx="591.2" cy="316.3" r="1.25" fill="#1a85ad"/>
<circle cx="599.1" cy="316.3" r="1.25" fill="#1a85ad"/>
<circle cx="606.6" cy="315.8" r="1.25" fill="#1a85ad"/>
<circle cx="613.7" cy="315.8" r="1.25" fill="#1a85ad"/>
<circle cx="621.1" cy="316.6" r="1.25" fill="#1a85ad"/>
<circle cx="628.8" cy="317.6" r="1.25" fill="#1a85ad"/>
<circle cx="636.2" cy="318.2" r="1.25" fill="#1a85ad"/>
<circle cx="643.7" cy="318.2" r="1.25" fill="#1a85ad"/>
<circle cx="650.8" cy="318.4" r="1.25" fill="#1a85ad"/>
<circle cx="658.8" cy="318.9" r="1.25" fill="#1a85ad"/>
<circle cx="665.9" cy="319.7" r="1.25" fill="#1a85ad"/>
<circle cx="673.9" cy="321.1" r="1.25" fill="#1a85ad"/>
<circle cx="680.8" cy="321.9" r="1.25" fill="#1a85ad"/>
<rect x="527.6" y="342" width="17" height="6.7" fill="#abd9e6" />
<text x="549.8" y="348.7" font-size="9.1" fill="#2a2a2a" text-anchor="start" font-weight="normal" >Lower and upper quartiles</text>
<text x="507.9" y="288.8" font-size="9.3" fill="#1a1a1a" text-anchor="start" font-weight="normal" >Zoomed-in statistics of 14,000 local points</text>
<line x1="502.5" y1="202.5" x2="680.8" y2="202.5" stroke="#888" stroke-width="0.8" />
<line x1="680.8" y1="202.5" x2="680.8" y2="353.5" stroke="#888" stroke-width="0.8" />
<line x1="502.5" y1="202.5" x2="502.5" y2="353.5" stroke="#666" stroke-width="0.9" />
<line x1="502.5" y1="278.7" x2="680.8" y2="278.7" stroke="#666" stroke-width="0.9" />
<line x1="502.5" y1="353.5" x2="680.8" y2="353.5" stroke="#666" stroke-width="0.9" />
<line x1="500.2" y1="208.9" x2="502.5" y2="208.9" stroke="#555" stroke-width="0.6" />
<text x="497.1" y="211.5" font-size="7.4" fill="#2a2a2a" text-anchor="end" font-weight="normal" >495</text>
<line x1="500.2" y1="240.2" x2="502.5" y2="240.2" stroke="#555" stroke-width="0.6" />
<text x="497.1" y="242.8" font-size="7.4" fill="#2a2a2a" text-anchor="end" font-weight="normal" >490</text>
<line x1="500.2" y1="271.5" x2="502.5" y2="271.5" stroke="#555" stroke-width="0.6" />
<text x="497.1" y="274.1" font-size="7.4" fill="#2a2a2a" text-anchor="end" font-weight="normal" >485</text>
<line x1="500.2" y1="291.2" x2="502.5" y2="291.2" stroke="#555" stroke-width="0.6" />
<text x="497.1" y="293.8" font-size="7.4" fill="#2a2a2a" text-anchor="end" font-weight="normal" >492</text>
<line x1="500.2" y1="345.3" x2="502.5" y2="345.3" stroke="#555" stroke-width="0.6" />
<text x="497.1" y="347.9" font-size="7.4" fill="#2a2a2a" text-anchor="end" font-weight="normal" >490</text>
<line x1="502.5" y1="353.5" x2="502.5" y2="355.7" stroke="#555" stroke-width="0.6" />
<line x1="502.5" y1="276.9" x2="502.5" y2="278.7" stroke="#555" stroke-width="0.6" />
<text x="502.5" y="366.4" font-size="7.4" fill="#2a2a2a" text-anchor="middle" font-weight="normal" >0</text>
<line x1="591.65" y1="353.5" x2="591.65" y2="355.7" stroke="#555" stroke-width="0.6" />
<line x1="591.65" y1="276.9" x2="591.65" y2="278.7" stroke="#555" stroke-width="0.6" />
<text x="591.65" y="366.4" font-size="7.4" fill="#2a2a2a" text-anchor="middle" font-weight="normal" >5</text>
<line x1="680.8" y1="353.5" x2="680.8" y2="355.7" stroke="#555" stroke-width="0.6" />
<line x1="680.8" y1="276.9" x2="680.8" y2="278.7" stroke="#555" stroke-width="0.6" />
<text x="680.8" y="366.4" font-size="7.4" fill="#2a2a2a" text-anchor="middle" font-weight="normal" >10</text>
<text x="592.1" y="378.6" font-size="8.8" fill="#2a2a2a" text-anchor="middle" font-weight="normal" >Time (min)</text>
<text x="0" y="0" font-size="8.8" fill="#2a2a2a" text-anchor="middle" transform="translate(476 266.7) rotate(-90)" >EL peak at defects (nm)</text></svg></body></html>
